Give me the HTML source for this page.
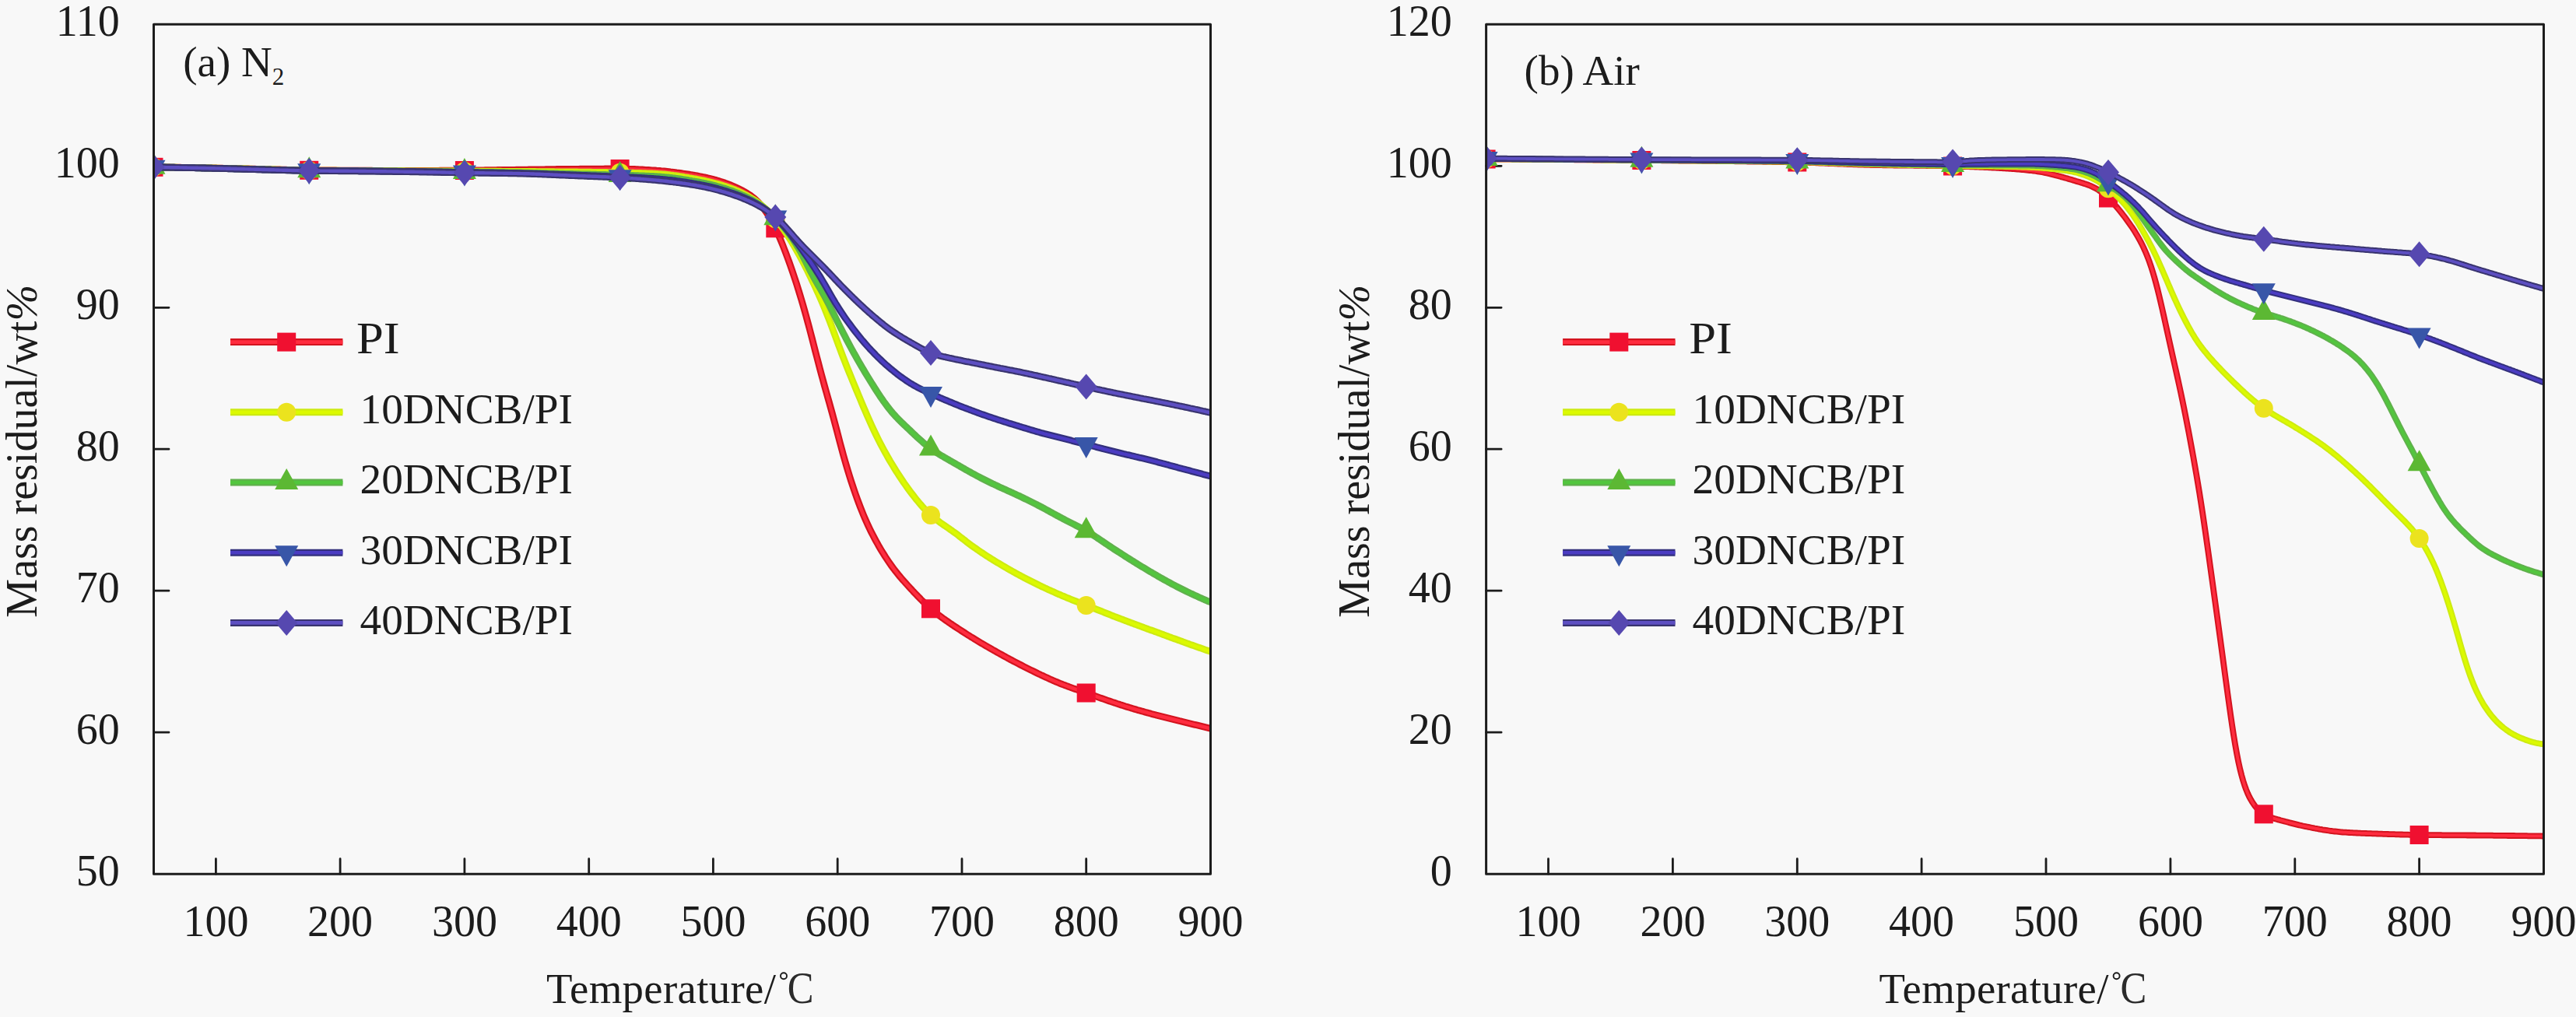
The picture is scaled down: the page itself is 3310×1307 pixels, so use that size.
<!DOCTYPE html>
<html><head><meta charset="utf-8"><title>TGA curves</title>
<style>html,body{margin:0;padding:0;background:#f8f8f8;}body{width:3310px;height:1307px;overflow:hidden;font-family:"Liberation Serif",serif;}svg{display:block;}</style></head>
<body>
<svg width="3310" height="1307" viewBox="0 0 3310 1307" font-family='"Liberation Serif", serif' font-size="55" fill="#1c1c1c">
<rect width="3310" height="1307" fill="#f8f8f8"/>
<clipPath id="ca"><rect x="197.5" y="31.3" width="1358.0" height="1091.9"/></clipPath>
<path d="M277.4,1123.2 v-19.5 M437.1,1123.2 v-19.5 M596.9,1123.2 v-19.5 M756.7,1123.2 v-19.5 M916.4,1123.2 v-19.5 M1076.2,1123.2 v-19.5 M1236.0,1123.2 v-19.5 M1395.7,1123.2 v-19.5 M197.5,941.2 h19.5 M197.5,759.2 h19.5 M197.5,577.2 h19.5 M197.5,395.3 h19.5 M197.5,213.3 h19.5" stroke="#1c1c1c" stroke-width="2.8" stroke-linecap="round" fill="none"/>
<g clip-path="url(#ca)" fill="none" stroke-linejoin="round">
<path d="M197.5,214.8 L199.5,214.8 L201.5,214.8 L203.5,214.9 L205.5,214.9 L207.5,214.9 L209.5,214.9 L211.5,215.0 L213.5,215.0 L215.5,215.0 L217.5,215.0 L219.5,215.1 L221.5,215.1 L223.5,215.1 L225.5,215.2 L227.5,215.2 L229.5,215.2 L231.5,215.2 L233.5,215.3 L235.5,215.3 L237.5,215.3 L239.5,215.4 L241.5,215.4 L243.5,215.4 L245.5,215.5 L247.5,215.5 L249.5,215.5 L251.5,215.6 L253.5,215.6 L255.5,215.6 L257.5,215.7 L259.5,215.7 L261.5,215.7 L263.5,215.8 L265.5,215.8 L267.5,215.9 L269.5,215.9 L271.5,215.9 L273.5,216.0 L275.5,216.0 L277.5,216.0 L279.5,216.1 L281.5,216.1 L283.5,216.2 L285.5,216.2 L287.5,216.3 L289.5,216.3 L291.5,216.3 L293.5,216.4 L295.5,216.4 L297.5,216.5 L299.5,216.5 L301.5,216.6 L303.5,216.6 L305.5,216.7 L307.5,216.7 L309.5,216.8 L311.5,216.8 L313.5,216.9 L315.5,216.9 L317.5,217.0 L319.5,217.0 L321.5,217.1 L323.5,217.1 L325.5,217.2 L327.5,217.2 L329.5,217.3 L331.5,217.3 L333.5,217.4 L335.5,217.4 L337.5,217.5 L339.5,217.5 L341.5,217.6 L343.5,217.6 L345.5,217.7 L347.5,217.7 L349.5,217.8 L351.5,217.8 L353.5,217.9 L355.5,217.9 L357.5,218.0 L359.5,218.0 L361.5,218.1 L363.5,218.1 L365.5,218.2 L367.5,218.2 L369.5,218.3 L371.5,218.3 L373.5,218.4 L375.5,218.4 L377.5,218.5 L379.5,218.5 L381.5,218.6 L383.5,218.6 L385.5,218.6 L387.5,218.7 L389.5,218.7 L391.5,218.7 L393.5,218.8 L395.5,218.8 L397.5,218.8 L399.5,218.8 L401.5,218.8 L403.5,218.9 L405.5,218.9 L407.5,218.9 L409.5,218.9 L411.5,218.9 L413.5,218.9 L415.5,218.9 L417.5,219.0 L419.5,219.0 L421.5,219.0 L423.5,219.0 L425.5,219.0 L427.5,219.0 L429.5,219.0 L431.5,219.0 L433.5,219.1 L435.5,219.1 L437.5,219.1 L439.5,219.1 L441.5,219.1 L443.5,219.1 L445.5,219.1 L447.5,219.1 L449.5,219.1 L451.5,219.1 L453.5,219.1 L455.5,219.2 L457.5,219.2 L459.5,219.2 L461.5,219.2 L463.5,219.2 L465.5,219.2 L467.5,219.2 L469.5,219.2 L471.5,219.2 L473.5,219.2 L475.5,219.2 L477.5,219.2 L479.5,219.3 L481.5,219.3 L483.5,219.3 L485.5,219.3 L487.5,219.3 L489.5,219.3 L491.5,219.3 L493.5,219.3 L495.5,219.3 L497.5,219.3 L499.5,219.3 L501.5,219.3 L503.5,219.3 L505.5,219.4 L507.5,219.4 L509.5,219.4 L511.5,219.4 L513.5,219.4 L515.5,219.4 L517.5,219.4 L519.5,219.4 L521.5,219.4 L523.5,219.4 L525.5,219.4 L527.5,219.4 L529.5,219.4 L531.5,219.4 L533.5,219.4 L535.5,219.4 L537.5,219.4 L539.5,219.4 L541.5,219.4 L543.5,219.4 L545.5,219.4 L547.5,219.4 L549.5,219.3 L551.5,219.3 L553.5,219.3 L555.5,219.3 L557.5,219.3 L559.5,219.3 L561.5,219.3 L563.5,219.3 L565.5,219.2 L567.5,219.2 L569.5,219.2 L571.5,219.2 L573.5,219.2 L575.5,219.2 L577.5,219.2 L579.5,219.1 L581.5,219.1 L583.5,219.1 L585.5,219.1 L587.5,219.1 L589.5,219.1 L591.5,219.0 L593.5,219.0 L595.5,219.0 L597.5,219.0 L599.5,219.0 L601.5,219.0 L603.5,218.9 L605.5,218.9 L607.5,218.9 L609.5,218.9 L611.5,218.9 L613.5,218.8 L615.5,218.8 L617.5,218.8 L619.5,218.8 L621.5,218.8 L623.5,218.7 L625.5,218.7 L627.5,218.7 L629.5,218.7 L631.5,218.6 L633.5,218.6 L635.5,218.6 L637.5,218.6 L639.5,218.5 L641.5,218.5 L643.5,218.5 L645.5,218.5 L647.5,218.4 L649.5,218.4 L651.5,218.4 L653.5,218.4 L655.5,218.3 L657.5,218.3 L659.5,218.3 L661.5,218.3 L663.5,218.2 L665.5,218.2 L667.5,218.2 L669.5,218.2 L671.5,218.1 L673.5,218.1 L675.5,218.1 L677.5,218.1 L679.5,218.0 L681.5,218.0 L683.5,218.0 L685.5,218.0 L687.5,217.9 L689.5,217.9 L691.5,217.9 L693.5,217.8 L695.5,217.8 L697.5,217.8 L699.5,217.8 L701.5,217.7 L703.5,217.7 L705.5,217.7 L707.5,217.6 L709.5,217.6 L711.5,217.6 L713.5,217.6 L715.5,217.5 L717.5,217.5 L719.5,217.5 L721.5,217.5 L723.5,217.4 L725.5,217.4 L727.5,217.4 L729.5,217.4 L731.5,217.4 L733.5,217.3 L735.5,217.3 L737.5,217.3 L739.5,217.3 L741.5,217.3 L743.5,217.3 L745.5,217.2 L747.5,217.2 L749.5,217.2 L751.5,217.2 L753.5,217.2 L755.5,217.2 L757.5,217.2 L759.5,217.1 L761.5,217.1 L763.5,217.1 L765.5,217.1 L767.5,217.1 L769.5,217.1 L771.5,217.1 L773.5,217.1 L775.5,217.1 L777.5,217.0 L779.5,217.0 L781.5,217.0 L783.5,217.0 L785.5,217.0 L787.5,217.0 L789.5,217.0 L791.5,217.0 L793.5,217.0 L795.5,217.0 L797.5,217.0 L799.5,217.1 L801.5,217.1 L803.5,217.1 L805.5,217.2 L807.5,217.2 L809.5,217.3 L811.5,217.4 L813.5,217.4 L815.5,217.5 L817.5,217.6 L819.5,217.7 L821.5,217.8 L823.5,217.9 L825.5,218.0 L827.5,218.1 L829.5,218.3 L831.5,218.4 L833.5,218.5 L835.5,218.6 L837.5,218.8 L839.5,218.9 L841.5,219.0 L843.5,219.2 L845.5,219.3 L847.5,219.5 L849.5,219.7 L851.5,219.8 L853.5,220.0 L855.5,220.2 L857.5,220.4 L859.5,220.6 L861.5,220.9 L863.5,221.1 L865.5,221.3 L867.5,221.6 L869.5,221.9 L871.5,222.1 L873.5,222.4 L875.5,222.7 L877.5,223.0 L879.5,223.3 L881.5,223.6 L883.5,223.9 L885.5,224.2 L887.5,224.5 L889.5,224.8 L891.5,225.2 L893.5,225.5 L895.5,225.9 L897.5,226.3 L899.5,226.7 L901.5,227.1 L903.5,227.5 L905.5,227.9 L907.5,228.3 L909.5,228.8 L911.5,229.2 L913.5,229.7 L915.5,230.2 L917.5,230.8 L919.5,231.3 L921.5,231.9 L923.5,232.5 L925.5,233.1 L927.5,233.8 L929.5,234.4 L931.5,235.2 L933.5,235.9 L935.5,236.6 L937.5,237.4 L939.5,238.2 L941.5,239.1 L943.5,239.9 L945.5,240.8 L947.5,241.7 L949.5,242.7 L951.5,243.7 L953.5,244.7 L955.5,245.8 L957.5,246.9 L959.5,248.1 L961.5,249.4 L963.5,250.7 L965.5,252.1 L967.5,253.7 L969.5,255.3 L971.5,257.1 L973.5,259.0 L975.5,261.1 L977.5,263.3 L979.5,265.7 L981.5,268.3 L983.5,271.1 L985.5,274.0 L987.5,277.1 L989.5,280.4 L991.5,283.9 L993.5,287.6 L995.5,291.6 L997.5,295.8 L999.5,300.1 L1001.5,304.7 L1003.5,309.5 L1005.5,314.4 L1007.5,319.5 L1009.5,324.7 L1011.5,330.0 L1013.5,335.4 L1015.5,341.0 L1017.5,346.7 L1019.5,352.6 L1021.5,358.6 L1023.5,364.7 L1025.5,371.1 L1027.5,377.6 L1029.5,384.2 L1031.5,391.0 L1033.5,398.0 L1035.5,405.1 L1037.5,412.5 L1039.5,419.9 L1041.5,427.5 L1043.5,435.2 L1045.5,443.0 L1047.5,450.8 L1049.5,458.5 L1051.5,466.2 L1053.5,473.8 L1055.5,481.3 L1057.5,488.7 L1059.5,496.0 L1061.5,503.1 L1063.5,510.2 L1065.5,517.3 L1067.5,524.5 L1069.5,531.7 L1071.5,539.1 L1073.5,546.6 L1075.5,554.2 L1077.5,561.9 L1079.5,569.5 L1081.5,576.9 L1083.5,584.3 L1085.5,591.4 L1087.5,598.3 L1089.5,605.0 L1091.5,611.5 L1093.5,617.8 L1095.5,623.9 L1097.5,629.8 L1099.5,635.6 L1101.5,641.2 L1103.5,646.6 L1105.5,651.9 L1107.5,656.9 L1109.5,661.8 L1111.5,666.5 L1113.5,671.0 L1115.5,675.4 L1117.5,679.6 L1119.5,683.7 L1121.5,687.6 L1123.5,691.4 L1125.5,695.1 L1127.5,698.7 L1129.5,702.3 L1131.5,705.7 L1133.5,709.0 L1135.5,712.2 L1137.5,715.4 L1139.5,718.4 L1141.5,721.4 L1143.5,724.3 L1145.5,727.1 L1147.5,729.8 L1149.5,732.5 L1151.5,735.0 L1153.5,737.5 L1155.5,740.0 L1157.5,742.3 L1159.5,744.7 L1161.5,746.9 L1163.5,749.2 L1165.5,751.4 L1167.5,753.6 L1169.5,755.8 L1171.5,757.9 L1173.5,760.1 L1175.5,762.2 L1177.5,764.3 L1179.5,766.4 L1181.5,768.4 L1183.5,770.5 L1185.5,772.5 L1187.5,774.4 L1189.5,776.4 L1191.5,778.2 L1193.5,780.0 L1195.5,781.8 L1197.5,783.5 L1199.5,785.2 L1201.5,786.8 L1203.5,788.4 L1205.5,790.0 L1207.5,791.5 L1209.5,793.0 L1211.5,794.5 L1213.5,795.9 L1215.5,797.3 L1217.5,798.7 L1219.5,800.1 L1221.5,801.5 L1223.5,802.8 L1225.5,804.2 L1227.5,805.5 L1229.5,806.8 L1231.5,808.1 L1233.5,809.4 L1235.5,810.7 L1237.5,812.0 L1239.5,813.3 L1241.5,814.6 L1243.5,815.9 L1245.5,817.1 L1247.5,818.4 L1249.5,819.6 L1251.5,820.8 L1253.5,822.1 L1255.5,823.3 L1257.5,824.5 L1259.5,825.7 L1261.5,826.9 L1263.5,828.0 L1265.5,829.2 L1267.5,830.4 L1269.5,831.5 L1271.5,832.7 L1273.5,833.8 L1275.5,835.0 L1277.5,836.1 L1279.5,837.2 L1281.5,838.4 L1283.5,839.5 L1285.5,840.6 L1287.5,841.7 L1289.5,842.8 L1291.5,843.9 L1293.5,845.0 L1295.5,846.1 L1297.5,847.2 L1299.5,848.2 L1301.5,849.3 L1303.5,850.4 L1305.5,851.4 L1307.5,852.4 L1309.5,853.5 L1311.5,854.5 L1313.5,855.5 L1315.5,856.6 L1317.5,857.6 L1319.5,858.6 L1321.5,859.6 L1323.5,860.6 L1325.5,861.6 L1327.5,862.5 L1329.5,863.5 L1331.5,864.5 L1333.5,865.5 L1335.5,866.4 L1337.5,867.4 L1339.5,868.3 L1341.5,869.3 L1343.5,870.2 L1345.5,871.1 L1347.5,872.0 L1349.5,872.9 L1351.5,873.8 L1353.5,874.7 L1355.5,875.6 L1357.5,876.4 L1359.5,877.2 L1361.5,878.1 L1363.5,878.9 L1365.5,879.7 L1367.5,880.4 L1369.5,881.2 L1371.5,881.9 L1373.5,882.7 L1375.5,883.4 L1377.5,884.1 L1379.5,884.8 L1381.5,885.5 L1383.5,886.2 L1385.5,886.9 L1387.5,887.6 L1389.5,888.3 L1391.5,889.0 L1393.5,889.7 L1395.5,890.4 L1397.5,891.1 L1399.5,891.9 L1401.5,892.6 L1403.5,893.3 L1405.5,894.0 L1407.5,894.7 L1409.5,895.4 L1411.5,896.1 L1413.5,896.8 L1415.5,897.5 L1417.5,898.2 L1419.5,898.9 L1421.5,899.6 L1423.5,900.3 L1425.5,901.0 L1427.5,901.7 L1429.5,902.4 L1431.5,903.0 L1433.5,903.7 L1435.5,904.4 L1437.5,905.0 L1439.5,905.7 L1441.5,906.3 L1443.5,906.9 L1445.5,907.6 L1447.5,908.2 L1449.5,908.8 L1451.5,909.4 L1453.5,910.0 L1455.5,910.6 L1457.5,911.2 L1459.5,911.8 L1461.5,912.4 L1463.5,912.9 L1465.5,913.5 L1467.5,914.1 L1469.5,914.6 L1471.5,915.2 L1473.5,915.7 L1475.5,916.3 L1477.5,916.8 L1479.5,917.4 L1481.5,917.9 L1483.5,918.4 L1485.5,919.0 L1487.5,919.5 L1489.5,920.0 L1491.5,920.5 L1493.5,921.0 L1495.5,921.5 L1497.5,922.0 L1499.5,922.5 L1501.5,923.0 L1503.5,923.5 L1505.5,924.0 L1507.5,924.5 L1509.5,925.0 L1511.5,925.5 L1513.5,926.0 L1515.5,926.5 L1517.5,926.9 L1519.5,927.4 L1521.5,927.9 L1523.5,928.4 L1525.5,928.9 L1527.5,929.4 L1529.5,929.9 L1531.5,930.4 L1533.5,930.9 L1535.5,931.4 L1537.5,931.8 L1539.5,932.3 L1541.5,932.8 L1543.5,933.3 L1545.5,933.8 L1547.5,934.3 L1549.5,934.8 L1551.5,935.3 L1553.5,935.8 L1555.5,936.3" stroke="#d3141f" stroke-width="8.8"/>
<path d="M197.5,214.8 L199.5,214.8 L201.5,214.8 L203.5,214.9 L205.5,214.9 L207.5,214.9 L209.5,214.9 L211.5,215.0 L213.5,215.0 L215.5,215.0 L217.5,215.0 L219.5,215.1 L221.5,215.1 L223.5,215.1 L225.5,215.2 L227.5,215.2 L229.5,215.2 L231.5,215.2 L233.5,215.3 L235.5,215.3 L237.5,215.3 L239.5,215.4 L241.5,215.4 L243.5,215.4 L245.5,215.5 L247.5,215.5 L249.5,215.5 L251.5,215.6 L253.5,215.6 L255.5,215.6 L257.5,215.7 L259.5,215.7 L261.5,215.7 L263.5,215.8 L265.5,215.8 L267.5,215.9 L269.5,215.9 L271.5,215.9 L273.5,216.0 L275.5,216.0 L277.5,216.0 L279.5,216.1 L281.5,216.1 L283.5,216.2 L285.5,216.2 L287.5,216.3 L289.5,216.3 L291.5,216.3 L293.5,216.4 L295.5,216.4 L297.5,216.5 L299.5,216.5 L301.5,216.6 L303.5,216.6 L305.5,216.7 L307.5,216.7 L309.5,216.8 L311.5,216.8 L313.5,216.9 L315.5,216.9 L317.5,217.0 L319.5,217.0 L321.5,217.1 L323.5,217.1 L325.5,217.2 L327.5,217.2 L329.5,217.3 L331.5,217.3 L333.5,217.4 L335.5,217.4 L337.5,217.5 L339.5,217.5 L341.5,217.6 L343.5,217.6 L345.5,217.7 L347.5,217.7 L349.5,217.8 L351.5,217.8 L353.5,217.9 L355.5,217.9 L357.5,218.0 L359.5,218.0 L361.5,218.1 L363.5,218.1 L365.5,218.2 L367.5,218.2 L369.5,218.3 L371.5,218.3 L373.5,218.4 L375.5,218.4 L377.5,218.5 L379.5,218.5 L381.5,218.6 L383.5,218.6 L385.5,218.6 L387.5,218.7 L389.5,218.7 L391.5,218.7 L393.5,218.8 L395.5,218.8 L397.5,218.8 L399.5,218.8 L401.5,218.8 L403.5,218.9 L405.5,218.9 L407.5,218.9 L409.5,218.9 L411.5,218.9 L413.5,218.9 L415.5,218.9 L417.5,219.0 L419.5,219.0 L421.5,219.0 L423.5,219.0 L425.5,219.0 L427.5,219.0 L429.5,219.0 L431.5,219.0 L433.5,219.1 L435.5,219.1 L437.5,219.1 L439.5,219.1 L441.5,219.1 L443.5,219.1 L445.5,219.1 L447.5,219.1 L449.5,219.1 L451.5,219.1 L453.5,219.1 L455.5,219.2 L457.5,219.2 L459.5,219.2 L461.5,219.2 L463.5,219.2 L465.5,219.2 L467.5,219.2 L469.5,219.2 L471.5,219.2 L473.5,219.2 L475.5,219.2 L477.5,219.2 L479.5,219.3 L481.5,219.3 L483.5,219.3 L485.5,219.3 L487.5,219.3 L489.5,219.3 L491.5,219.3 L493.5,219.3 L495.5,219.3 L497.5,219.3 L499.5,219.3 L501.5,219.3 L503.5,219.3 L505.5,219.4 L507.5,219.4 L509.5,219.4 L511.5,219.4 L513.5,219.4 L515.5,219.4 L517.5,219.4 L519.5,219.4 L521.5,219.4 L523.5,219.4 L525.5,219.4 L527.5,219.4 L529.5,219.4 L531.5,219.4 L533.5,219.4 L535.5,219.4 L537.5,219.4 L539.5,219.4 L541.5,219.4 L543.5,219.4 L545.5,219.4 L547.5,219.4 L549.5,219.3 L551.5,219.3 L553.5,219.3 L555.5,219.3 L557.5,219.3 L559.5,219.3 L561.5,219.3 L563.5,219.3 L565.5,219.2 L567.5,219.2 L569.5,219.2 L571.5,219.2 L573.5,219.2 L575.5,219.2 L577.5,219.2 L579.5,219.1 L581.5,219.1 L583.5,219.1 L585.5,219.1 L587.5,219.1 L589.5,219.1 L591.5,219.0 L593.5,219.0 L595.5,219.0 L597.5,219.0 L599.5,219.0 L601.5,219.0 L603.5,218.9 L605.5,218.9 L607.5,218.9 L609.5,218.9 L611.5,218.9 L613.5,218.8 L615.5,218.8 L617.5,218.8 L619.5,218.8 L621.5,218.8 L623.5,218.7 L625.5,218.7 L627.5,218.7 L629.5,218.7 L631.5,218.6 L633.5,218.6 L635.5,218.6 L637.5,218.6 L639.5,218.5 L641.5,218.5 L643.5,218.5 L645.5,218.5 L647.5,218.4 L649.5,218.4 L651.5,218.4 L653.5,218.4 L655.5,218.3 L657.5,218.3 L659.5,218.3 L661.5,218.3 L663.5,218.2 L665.5,218.2 L667.5,218.2 L669.5,218.2 L671.5,218.1 L673.5,218.1 L675.5,218.1 L677.5,218.1 L679.5,218.0 L681.5,218.0 L683.5,218.0 L685.5,218.0 L687.5,217.9 L689.5,217.9 L691.5,217.9 L693.5,217.8 L695.5,217.8 L697.5,217.8 L699.5,217.8 L701.5,217.7 L703.5,217.7 L705.5,217.7 L707.5,217.6 L709.5,217.6 L711.5,217.6 L713.5,217.6 L715.5,217.5 L717.5,217.5 L719.5,217.5 L721.5,217.5 L723.5,217.4 L725.5,217.4 L727.5,217.4 L729.5,217.4 L731.5,217.4 L733.5,217.3 L735.5,217.3 L737.5,217.3 L739.5,217.3 L741.5,217.3 L743.5,217.3 L745.5,217.2 L747.5,217.2 L749.5,217.2 L751.5,217.2 L753.5,217.2 L755.5,217.2 L757.5,217.2 L759.5,217.1 L761.5,217.1 L763.5,217.1 L765.5,217.1 L767.5,217.1 L769.5,217.1 L771.5,217.1 L773.5,217.1 L775.5,217.1 L777.5,217.0 L779.5,217.0 L781.5,217.0 L783.5,217.0 L785.5,217.0 L787.5,217.0 L789.5,217.0 L791.5,217.0 L793.5,217.0 L795.5,217.0 L797.5,217.0 L799.5,217.1 L801.5,217.1 L803.5,217.1 L805.5,217.2 L807.5,217.2 L809.5,217.3 L811.5,217.4 L813.5,217.4 L815.5,217.5 L817.5,217.6 L819.5,217.7 L821.5,217.8 L823.5,217.9 L825.5,218.0 L827.5,218.1 L829.5,218.3 L831.5,218.4 L833.5,218.5 L835.5,218.6 L837.5,218.8 L839.5,218.9 L841.5,219.0 L843.5,219.2 L845.5,219.3 L847.5,219.5 L849.5,219.7 L851.5,219.8 L853.5,220.0 L855.5,220.2 L857.5,220.4 L859.5,220.6 L861.5,220.9 L863.5,221.1 L865.5,221.3 L867.5,221.6 L869.5,221.9 L871.5,222.1 L873.5,222.4 L875.5,222.7 L877.5,223.0 L879.5,223.3 L881.5,223.6 L883.5,223.9 L885.5,224.2 L887.5,224.5 L889.5,224.8 L891.5,225.2 L893.5,225.5 L895.5,225.9 L897.5,226.3 L899.5,226.7 L901.5,227.1 L903.5,227.5 L905.5,227.9 L907.5,228.3 L909.5,228.8 L911.5,229.2 L913.5,229.7 L915.5,230.2 L917.5,230.8 L919.5,231.3 L921.5,231.9 L923.5,232.5 L925.5,233.1 L927.5,233.8 L929.5,234.4 L931.5,235.2 L933.5,235.9 L935.5,236.6 L937.5,237.4 L939.5,238.2 L941.5,239.1 L943.5,239.9 L945.5,240.8 L947.5,241.7 L949.5,242.7 L951.5,243.7 L953.5,244.7 L955.5,245.8 L957.5,246.9 L959.5,248.1 L961.5,249.4 L963.5,250.7 L965.5,252.1 L967.5,253.7 L969.5,255.3 L971.5,257.1 L973.5,259.0 L975.5,261.1 L977.5,263.3 L979.5,265.7 L981.5,268.3 L983.5,271.1 L985.5,274.0 L987.5,277.1 L989.5,280.4 L991.5,283.9 L993.5,287.6 L995.5,291.6 L997.5,295.8 L999.5,300.1 L1001.5,304.7 L1003.5,309.5 L1005.5,314.4 L1007.5,319.5 L1009.5,324.7 L1011.5,330.0 L1013.5,335.4 L1015.5,341.0 L1017.5,346.7 L1019.5,352.6 L1021.5,358.6 L1023.5,364.7 L1025.5,371.1 L1027.5,377.6 L1029.5,384.2 L1031.5,391.0 L1033.5,398.0 L1035.5,405.1 L1037.5,412.5 L1039.5,419.9 L1041.5,427.5 L1043.5,435.2 L1045.5,443.0 L1047.5,450.8 L1049.5,458.5 L1051.5,466.2 L1053.5,473.8 L1055.5,481.3 L1057.5,488.7 L1059.5,496.0 L1061.5,503.1 L1063.5,510.2 L1065.5,517.3 L1067.5,524.5 L1069.5,531.7 L1071.5,539.1 L1073.5,546.6 L1075.5,554.2 L1077.5,561.9 L1079.5,569.5 L1081.5,576.9 L1083.5,584.3 L1085.5,591.4 L1087.5,598.3 L1089.5,605.0 L1091.5,611.5 L1093.5,617.8 L1095.5,623.9 L1097.5,629.8 L1099.5,635.6 L1101.5,641.2 L1103.5,646.6 L1105.5,651.9 L1107.5,656.9 L1109.5,661.8 L1111.5,666.5 L1113.5,671.0 L1115.5,675.4 L1117.5,679.6 L1119.5,683.7 L1121.5,687.6 L1123.5,691.4 L1125.5,695.1 L1127.5,698.7 L1129.5,702.3 L1131.5,705.7 L1133.5,709.0 L1135.5,712.2 L1137.5,715.4 L1139.5,718.4 L1141.5,721.4 L1143.5,724.3 L1145.5,727.1 L1147.5,729.8 L1149.5,732.5 L1151.5,735.0 L1153.5,737.5 L1155.5,740.0 L1157.5,742.3 L1159.5,744.7 L1161.5,746.9 L1163.5,749.2 L1165.5,751.4 L1167.5,753.6 L1169.5,755.8 L1171.5,757.9 L1173.5,760.1 L1175.5,762.2 L1177.5,764.3 L1179.5,766.4 L1181.5,768.4 L1183.5,770.5 L1185.5,772.5 L1187.5,774.4 L1189.5,776.4 L1191.5,778.2 L1193.5,780.0 L1195.5,781.8 L1197.5,783.5 L1199.5,785.2 L1201.5,786.8 L1203.5,788.4 L1205.5,790.0 L1207.5,791.5 L1209.5,793.0 L1211.5,794.5 L1213.5,795.9 L1215.5,797.3 L1217.5,798.7 L1219.5,800.1 L1221.5,801.5 L1223.5,802.8 L1225.5,804.2 L1227.5,805.5 L1229.5,806.8 L1231.5,808.1 L1233.5,809.4 L1235.5,810.7 L1237.5,812.0 L1239.5,813.3 L1241.5,814.6 L1243.5,815.9 L1245.5,817.1 L1247.5,818.4 L1249.5,819.6 L1251.5,820.8 L1253.5,822.1 L1255.5,823.3 L1257.5,824.5 L1259.5,825.7 L1261.5,826.9 L1263.5,828.0 L1265.5,829.2 L1267.5,830.4 L1269.5,831.5 L1271.5,832.7 L1273.5,833.8 L1275.5,835.0 L1277.5,836.1 L1279.5,837.2 L1281.5,838.4 L1283.5,839.5 L1285.5,840.6 L1287.5,841.7 L1289.5,842.8 L1291.5,843.9 L1293.5,845.0 L1295.5,846.1 L1297.5,847.2 L1299.5,848.2 L1301.5,849.3 L1303.5,850.4 L1305.5,851.4 L1307.5,852.4 L1309.5,853.5 L1311.5,854.5 L1313.5,855.5 L1315.5,856.6 L1317.5,857.6 L1319.5,858.6 L1321.5,859.6 L1323.5,860.6 L1325.5,861.6 L1327.5,862.5 L1329.5,863.5 L1331.5,864.5 L1333.5,865.5 L1335.5,866.4 L1337.5,867.4 L1339.5,868.3 L1341.5,869.3 L1343.5,870.2 L1345.5,871.1 L1347.5,872.0 L1349.5,872.9 L1351.5,873.8 L1353.5,874.7 L1355.5,875.6 L1357.5,876.4 L1359.5,877.2 L1361.5,878.1 L1363.5,878.9 L1365.5,879.7 L1367.5,880.4 L1369.5,881.2 L1371.5,881.9 L1373.5,882.7 L1375.5,883.4 L1377.5,884.1 L1379.5,884.8 L1381.5,885.5 L1383.5,886.2 L1385.5,886.9 L1387.5,887.6 L1389.5,888.3 L1391.5,889.0 L1393.5,889.7 L1395.5,890.4 L1397.5,891.1 L1399.5,891.9 L1401.5,892.6 L1403.5,893.3 L1405.5,894.0 L1407.5,894.7 L1409.5,895.4 L1411.5,896.1 L1413.5,896.8 L1415.5,897.5 L1417.5,898.2 L1419.5,898.9 L1421.5,899.6 L1423.5,900.3 L1425.5,901.0 L1427.5,901.7 L1429.5,902.4 L1431.5,903.0 L1433.5,903.7 L1435.5,904.4 L1437.5,905.0 L1439.5,905.7 L1441.5,906.3 L1443.5,906.9 L1445.5,907.6 L1447.5,908.2 L1449.5,908.8 L1451.5,909.4 L1453.5,910.0 L1455.5,910.6 L1457.5,911.2 L1459.5,911.8 L1461.5,912.4 L1463.5,912.9 L1465.5,913.5 L1467.5,914.1 L1469.5,914.6 L1471.5,915.2 L1473.5,915.7 L1475.5,916.3 L1477.5,916.8 L1479.5,917.4 L1481.5,917.9 L1483.5,918.4 L1485.5,919.0 L1487.5,919.5 L1489.5,920.0 L1491.5,920.5 L1493.5,921.0 L1495.5,921.5 L1497.5,922.0 L1499.5,922.5 L1501.5,923.0 L1503.5,923.5 L1505.5,924.0 L1507.5,924.5 L1509.5,925.0 L1511.5,925.5 L1513.5,926.0 L1515.5,926.5 L1517.5,926.9 L1519.5,927.4 L1521.5,927.9 L1523.5,928.4 L1525.5,928.9 L1527.5,929.4 L1529.5,929.9 L1531.5,930.4 L1533.5,930.9 L1535.5,931.4 L1537.5,931.8 L1539.5,932.3 L1541.5,932.8 L1543.5,933.3 L1545.5,933.8 L1547.5,934.3 L1549.5,934.8 L1551.5,935.3 L1553.5,935.8 L1555.5,936.3" stroke="#ff2c3f" stroke-width="4.4"/>
<rect x="185.5" y="202.8" width="24" height="24" fill="#f01030"/>
<rect x="385.2" y="206.8" width="24" height="24" fill="#f01030"/>
<rect x="584.9" y="207.0" width="24" height="24" fill="#f01030"/>
<rect x="784.6" y="205.0" width="24" height="24" fill="#f01030"/>
<rect x="984.3" y="281.3" width="24" height="24" fill="#f01030"/>
<rect x="1184.0" y="770.3" width="24" height="24" fill="#f01030"/>
<rect x="1383.7" y="878.5" width="24" height="24" fill="#f01030"/>
<path d="M197.5,214.8 L199.5,214.8 L201.5,214.9 L203.5,214.9 L205.5,214.9 L207.5,214.9 L209.5,215.0 L211.5,215.0 L213.5,215.0 L215.5,215.1 L217.5,215.1 L219.5,215.1 L221.5,215.1 L223.5,215.2 L225.5,215.2 L227.5,215.2 L229.5,215.3 L231.5,215.3 L233.5,215.3 L235.5,215.4 L237.5,215.4 L239.5,215.4 L241.5,215.5 L243.5,215.5 L245.5,215.5 L247.5,215.6 L249.5,215.6 L251.5,215.6 L253.5,215.7 L255.5,215.7 L257.5,215.8 L259.5,215.8 L261.5,215.8 L263.5,215.9 L265.5,215.9 L267.5,215.9 L269.5,216.0 L271.5,216.0 L273.5,216.1 L275.5,216.1 L277.5,216.1 L279.5,216.2 L281.5,216.2 L283.5,216.3 L285.5,216.3 L287.5,216.4 L289.5,216.4 L291.5,216.4 L293.5,216.5 L295.5,216.5 L297.5,216.6 L299.5,216.6 L301.5,216.7 L303.5,216.7 L305.5,216.8 L307.5,216.8 L309.5,216.9 L311.5,216.9 L313.5,217.0 L315.5,217.0 L317.5,217.1 L319.5,217.1 L321.5,217.2 L323.5,217.2 L325.5,217.3 L327.5,217.3 L329.5,217.4 L331.5,217.4 L333.5,217.5 L335.5,217.5 L337.5,217.6 L339.5,217.6 L341.5,217.7 L343.5,217.7 L345.5,217.8 L347.5,217.8 L349.5,217.9 L351.5,217.9 L353.5,218.0 L355.5,218.1 L357.5,218.1 L359.5,218.2 L361.5,218.2 L363.5,218.3 L365.5,218.3 L367.5,218.4 L369.5,218.4 L371.5,218.5 L373.5,218.6 L375.5,218.6 L377.5,218.6 L379.5,218.7 L381.5,218.7 L383.5,218.8 L385.5,218.8 L387.5,218.9 L389.5,218.9 L391.5,218.9 L393.5,218.9 L395.5,219.0 L397.5,219.0 L399.5,219.0 L401.5,219.0 L403.5,219.1 L405.5,219.1 L407.5,219.1 L409.5,219.1 L411.5,219.1 L413.5,219.1 L415.5,219.1 L417.5,219.2 L419.5,219.2 L421.5,219.2 L423.5,219.2 L425.5,219.2 L427.5,219.2 L429.5,219.2 L431.5,219.2 L433.5,219.2 L435.5,219.2 L437.5,219.3 L439.5,219.3 L441.5,219.3 L443.5,219.3 L445.5,219.3 L447.5,219.3 L449.5,219.3 L451.5,219.3 L453.5,219.3 L455.5,219.3 L457.5,219.4 L459.5,219.4 L461.5,219.4 L463.5,219.4 L465.5,219.4 L467.5,219.4 L469.5,219.4 L471.5,219.4 L473.5,219.4 L475.5,219.5 L477.5,219.5 L479.5,219.5 L481.5,219.5 L483.5,219.5 L485.5,219.5 L487.5,219.5 L489.5,219.6 L491.5,219.6 L493.5,219.6 L495.5,219.6 L497.5,219.6 L499.5,219.6 L501.5,219.6 L503.5,219.7 L505.5,219.7 L507.5,219.7 L509.5,219.7 L511.5,219.7 L513.5,219.7 L515.5,219.7 L517.5,219.7 L519.5,219.7 L521.5,219.8 L523.5,219.8 L525.5,219.8 L527.5,219.8 L529.5,219.8 L531.5,219.8 L533.5,219.8 L535.5,219.8 L537.5,219.8 L539.5,219.8 L541.5,219.8 L543.5,219.8 L545.5,219.9 L547.5,219.9 L549.5,219.9 L551.5,219.9 L553.5,219.9 L555.5,219.9 L557.5,219.9 L559.5,219.9 L561.5,219.9 L563.5,219.9 L565.5,219.9 L567.5,219.9 L569.5,219.9 L571.5,219.9 L573.5,219.9 L575.5,219.9 L577.5,219.9 L579.5,219.9 L581.5,219.9 L583.5,220.0 L585.5,220.0 L587.5,220.0 L589.5,220.0 L591.5,220.0 L593.5,220.0 L595.5,220.0 L597.5,220.0 L599.5,220.0 L601.5,220.0 L603.5,220.0 L605.5,220.0 L607.5,220.0 L609.5,220.1 L611.5,220.1 L613.5,220.1 L615.5,220.1 L617.5,220.1 L619.5,220.1 L621.5,220.1 L623.5,220.1 L625.5,220.1 L627.5,220.1 L629.5,220.2 L631.5,220.2 L633.5,220.2 L635.5,220.2 L637.5,220.2 L639.5,220.2 L641.5,220.2 L643.5,220.2 L645.5,220.3 L647.5,220.3 L649.5,220.3 L651.5,220.3 L653.5,220.3 L655.5,220.3 L657.5,220.3 L659.5,220.3 L661.5,220.4 L663.5,220.4 L665.5,220.4 L667.5,220.4 L669.5,220.4 L671.5,220.4 L673.5,220.4 L675.5,220.5 L677.5,220.5 L679.5,220.5 L681.5,220.5 L683.5,220.5 L685.5,220.5 L687.5,220.5 L689.5,220.6 L691.5,220.6 L693.5,220.6 L695.5,220.6 L697.5,220.6 L699.5,220.6 L701.5,220.7 L703.5,220.7 L705.5,220.7 L707.5,220.7 L709.5,220.7 L711.5,220.7 L713.5,220.8 L715.5,220.8 L717.5,220.8 L719.5,220.8 L721.5,220.8 L723.5,220.9 L725.5,220.9 L727.5,220.9 L729.5,220.9 L731.5,220.9 L733.5,220.9 L735.5,221.0 L737.5,221.0 L739.5,221.0 L741.5,221.0 L743.5,221.1 L745.5,221.1 L747.5,221.1 L749.5,221.1 L751.5,221.1 L753.5,221.2 L755.5,221.2 L757.5,221.2 L759.5,221.2 L761.5,221.3 L763.5,221.3 L765.5,221.3 L767.5,221.3 L769.5,221.4 L771.5,221.4 L773.5,221.4 L775.5,221.5 L777.5,221.5 L779.5,221.5 L781.5,221.6 L783.5,221.6 L785.5,221.6 L787.5,221.7 L789.5,221.7 L791.5,221.7 L793.5,221.8 L795.5,221.8 L797.5,221.8 L799.5,221.9 L801.5,221.9 L803.5,222.0 L805.5,222.0 L807.5,222.1 L809.5,222.1 L811.5,222.2 L813.5,222.2 L815.5,222.3 L817.5,222.3 L819.5,222.4 L821.5,222.4 L823.5,222.5 L825.5,222.6 L827.5,222.6 L829.5,222.7 L831.5,222.8 L833.5,222.9 L835.5,222.9 L837.5,223.0 L839.5,223.1 L841.5,223.2 L843.5,223.3 L845.5,223.5 L847.5,223.6 L849.5,223.7 L851.5,223.9 L853.5,224.0 L855.5,224.2 L857.5,224.4 L859.5,224.6 L861.5,224.9 L863.5,225.1 L865.5,225.4 L867.5,225.6 L869.5,225.9 L871.5,226.2 L873.5,226.5 L875.5,226.8 L877.5,227.1 L879.5,227.5 L881.5,227.8 L883.5,228.1 L885.5,228.5 L887.5,228.8 L889.5,229.2 L891.5,229.6 L893.5,229.9 L895.5,230.3 L897.5,230.7 L899.5,231.1 L901.5,231.5 L903.5,231.9 L905.5,232.3 L907.5,232.8 L909.5,233.2 L911.5,233.7 L913.5,234.2 L915.5,234.7 L917.5,235.2 L919.5,235.7 L921.5,236.2 L923.5,236.8 L925.5,237.4 L927.5,238.0 L929.5,238.6 L931.5,239.3 L933.5,239.9 L935.5,240.6 L937.5,241.3 L939.5,242.1 L941.5,242.9 L943.5,243.6 L945.5,244.5 L947.5,245.3 L949.5,246.2 L951.5,247.2 L953.5,248.1 L955.5,249.1 L957.5,250.1 L959.5,251.2 L961.5,252.3 L963.5,253.5 L965.5,254.7 L967.5,255.9 L969.5,257.2 L971.5,258.5 L973.5,259.9 L975.5,261.4 L977.5,263.0 L979.5,264.6 L981.5,266.3 L983.5,268.0 L985.5,269.9 L987.5,271.8 L989.5,273.8 L991.5,275.9 L993.5,278.0 L995.5,280.3 L997.5,282.6 L999.5,285.0 L1001.5,287.6 L1003.5,290.2 L1005.5,292.9 L1007.5,295.8 L1009.5,298.7 L1011.5,301.7 L1013.5,304.8 L1015.5,308.0 L1017.5,311.3 L1019.5,314.6 L1021.5,318.1 L1023.5,321.5 L1025.5,325.1 L1027.5,328.7 L1029.5,332.4 L1031.5,336.1 L1033.5,340.0 L1035.5,343.9 L1037.5,347.9 L1039.5,352.0 L1041.5,356.1 L1043.5,360.2 L1045.5,364.5 L1047.5,368.7 L1049.5,373.1 L1051.5,377.5 L1053.5,382.0 L1055.5,386.6 L1057.5,391.3 L1059.5,396.1 L1061.5,401.0 L1063.5,406.1 L1065.5,411.2 L1067.5,416.4 L1069.5,421.7 L1071.5,427.1 L1073.5,432.5 L1075.5,438.0 L1077.5,443.4 L1079.5,448.8 L1081.5,454.1 L1083.5,459.3 L1085.5,464.5 L1087.5,469.6 L1089.5,474.6 L1091.5,479.5 L1093.5,484.4 L1095.5,489.3 L1097.5,494.1 L1099.5,499.0 L1101.5,503.8 L1103.5,508.6 L1105.5,513.4 L1107.5,518.2 L1109.5,523.0 L1111.5,527.6 L1113.5,532.3 L1115.5,536.8 L1117.5,541.3 L1119.5,545.8 L1121.5,550.1 L1123.5,554.4 L1125.5,558.5 L1127.5,562.6 L1129.5,566.6 L1131.5,570.5 L1133.5,574.3 L1135.5,578.0 L1137.5,581.6 L1139.5,585.2 L1141.5,588.7 L1143.5,592.2 L1145.5,595.5 L1147.5,598.8 L1149.5,602.1 L1151.5,605.3 L1153.5,608.4 L1155.5,611.5 L1157.5,614.5 L1159.5,617.5 L1161.5,620.5 L1163.5,623.3 L1165.5,626.1 L1167.5,628.9 L1169.5,631.6 L1171.5,634.2 L1173.5,636.8 L1175.5,639.4 L1177.5,641.9 L1179.5,644.3 L1181.5,646.7 L1183.5,649.0 L1185.5,651.3 L1187.5,653.5 L1189.5,655.6 L1191.5,657.6 L1193.5,659.6 L1195.5,661.4 L1197.5,663.2 L1199.5,664.9 L1201.5,666.5 L1203.5,668.1 L1205.5,669.6 L1207.5,671.1 L1209.5,672.5 L1211.5,673.9 L1213.5,675.3 L1215.5,676.6 L1217.5,678.0 L1219.5,679.4 L1221.5,680.8 L1223.5,682.2 L1225.5,683.7 L1227.5,685.1 L1229.5,686.6 L1231.5,688.1 L1233.5,689.7 L1235.5,691.2 L1237.5,692.8 L1239.5,694.3 L1241.5,695.9 L1243.5,697.4 L1245.5,698.9 L1247.5,700.4 L1249.5,701.9 L1251.5,703.3 L1253.5,704.7 L1255.5,706.1 L1257.5,707.5 L1259.5,708.9 L1261.5,710.2 L1263.5,711.5 L1265.5,712.9 L1267.5,714.2 L1269.5,715.4 L1271.5,716.7 L1273.5,718.0 L1275.5,719.2 L1277.5,720.5 L1279.5,721.7 L1281.5,722.9 L1283.5,724.1 L1285.5,725.3 L1287.5,726.5 L1289.5,727.7 L1291.5,728.8 L1293.5,730.0 L1295.5,731.2 L1297.5,732.3 L1299.5,733.4 L1301.5,734.6 L1303.5,735.7 L1305.5,736.8 L1307.5,737.9 L1309.5,739.0 L1311.5,740.0 L1313.5,741.1 L1315.5,742.2 L1317.5,743.2 L1319.5,744.3 L1321.5,745.3 L1323.5,746.3 L1325.5,747.3 L1327.5,748.3 L1329.5,749.3 L1331.5,750.3 L1333.5,751.3 L1335.5,752.3 L1337.5,753.2 L1339.5,754.2 L1341.5,755.1 L1343.5,756.1 L1345.5,757.0 L1347.5,757.9 L1349.5,758.8 L1351.5,759.7 L1353.5,760.6 L1355.5,761.5 L1357.5,762.4 L1359.5,763.3 L1361.5,764.1 L1363.5,765.0 L1365.5,765.9 L1367.5,766.7 L1369.5,767.5 L1371.5,768.4 L1373.5,769.2 L1375.5,770.0 L1377.5,770.8 L1379.5,771.6 L1381.5,772.4 L1383.5,773.2 L1385.5,774.0 L1387.5,774.7 L1389.5,775.5 L1391.5,776.3 L1393.5,777.1 L1395.5,777.8 L1397.5,778.6 L1399.5,779.4 L1401.5,780.2 L1403.5,781.0 L1405.5,781.8 L1407.5,782.5 L1409.5,783.3 L1411.5,784.1 L1413.5,784.9 L1415.5,785.7 L1417.5,786.5 L1419.5,787.3 L1421.5,788.1 L1423.5,788.9 L1425.5,789.7 L1427.5,790.5 L1429.5,791.3 L1431.5,792.1 L1433.5,792.8 L1435.5,793.6 L1437.5,794.4 L1439.5,795.2 L1441.5,795.9 L1443.5,796.7 L1445.5,797.5 L1447.5,798.2 L1449.5,799.0 L1451.5,799.7 L1453.5,800.5 L1455.5,801.2 L1457.5,802.0 L1459.5,802.7 L1461.5,803.4 L1463.5,804.2 L1465.5,804.9 L1467.5,805.6 L1469.5,806.4 L1471.5,807.1 L1473.5,807.8 L1475.5,808.6 L1477.5,809.3 L1479.5,810.0 L1481.5,810.7 L1483.5,811.5 L1485.5,812.2 L1487.5,812.9 L1489.5,813.7 L1491.5,814.4 L1493.5,815.1 L1495.5,815.9 L1497.5,816.6 L1499.5,817.3 L1501.5,818.1 L1503.5,818.8 L1505.5,819.6 L1507.5,820.3 L1509.5,821.0 L1511.5,821.7 L1513.5,822.5 L1515.5,823.2 L1517.5,823.9 L1519.5,824.7 L1521.5,825.4 L1523.5,826.1 L1525.5,826.8 L1527.5,827.5 L1529.5,828.3 L1531.5,829.0 L1533.5,829.7 L1535.5,830.4 L1537.5,831.1 L1539.5,831.8 L1541.5,832.5 L1543.5,833.2 L1545.5,833.9 L1547.5,834.6 L1549.5,835.3 L1551.5,836.0 L1553.5,836.7 L1555.5,837.4" stroke="#cdea12" stroke-width="8.8"/>
<path d="M197.5,214.8 L199.5,214.8 L201.5,214.9 L203.5,214.9 L205.5,214.9 L207.5,214.9 L209.5,215.0 L211.5,215.0 L213.5,215.0 L215.5,215.1 L217.5,215.1 L219.5,215.1 L221.5,215.1 L223.5,215.2 L225.5,215.2 L227.5,215.2 L229.5,215.3 L231.5,215.3 L233.5,215.3 L235.5,215.4 L237.5,215.4 L239.5,215.4 L241.5,215.5 L243.5,215.5 L245.5,215.5 L247.5,215.6 L249.5,215.6 L251.5,215.6 L253.5,215.7 L255.5,215.7 L257.5,215.8 L259.5,215.8 L261.5,215.8 L263.5,215.9 L265.5,215.9 L267.5,215.9 L269.5,216.0 L271.5,216.0 L273.5,216.1 L275.5,216.1 L277.5,216.1 L279.5,216.2 L281.5,216.2 L283.5,216.3 L285.5,216.3 L287.5,216.4 L289.5,216.4 L291.5,216.4 L293.5,216.5 L295.5,216.5 L297.5,216.6 L299.5,216.6 L301.5,216.7 L303.5,216.7 L305.5,216.8 L307.5,216.8 L309.5,216.9 L311.5,216.9 L313.5,217.0 L315.5,217.0 L317.5,217.1 L319.5,217.1 L321.5,217.2 L323.5,217.2 L325.5,217.3 L327.5,217.3 L329.5,217.4 L331.5,217.4 L333.5,217.5 L335.5,217.5 L337.5,217.6 L339.5,217.6 L341.5,217.7 L343.5,217.7 L345.5,217.8 L347.5,217.8 L349.5,217.9 L351.5,217.9 L353.5,218.0 L355.5,218.1 L357.5,218.1 L359.5,218.2 L361.5,218.2 L363.5,218.3 L365.5,218.3 L367.5,218.4 L369.5,218.4 L371.5,218.5 L373.5,218.6 L375.5,218.6 L377.5,218.6 L379.5,218.7 L381.5,218.7 L383.5,218.8 L385.5,218.8 L387.5,218.9 L389.5,218.9 L391.5,218.9 L393.5,218.9 L395.5,219.0 L397.5,219.0 L399.5,219.0 L401.5,219.0 L403.5,219.1 L405.5,219.1 L407.5,219.1 L409.5,219.1 L411.5,219.1 L413.5,219.1 L415.5,219.1 L417.5,219.2 L419.5,219.2 L421.5,219.2 L423.5,219.2 L425.5,219.2 L427.5,219.2 L429.5,219.2 L431.5,219.2 L433.5,219.2 L435.5,219.2 L437.5,219.3 L439.5,219.3 L441.5,219.3 L443.5,219.3 L445.5,219.3 L447.5,219.3 L449.5,219.3 L451.5,219.3 L453.5,219.3 L455.5,219.3 L457.5,219.4 L459.5,219.4 L461.5,219.4 L463.5,219.4 L465.5,219.4 L467.5,219.4 L469.5,219.4 L471.5,219.4 L473.5,219.4 L475.5,219.5 L477.5,219.5 L479.5,219.5 L481.5,219.5 L483.5,219.5 L485.5,219.5 L487.5,219.5 L489.5,219.6 L491.5,219.6 L493.5,219.6 L495.5,219.6 L497.5,219.6 L499.5,219.6 L501.5,219.6 L503.5,219.7 L505.5,219.7 L507.5,219.7 L509.5,219.7 L511.5,219.7 L513.5,219.7 L515.5,219.7 L517.5,219.7 L519.5,219.7 L521.5,219.8 L523.5,219.8 L525.5,219.8 L527.5,219.8 L529.5,219.8 L531.5,219.8 L533.5,219.8 L535.5,219.8 L537.5,219.8 L539.5,219.8 L541.5,219.8 L543.5,219.8 L545.5,219.9 L547.5,219.9 L549.5,219.9 L551.5,219.9 L553.5,219.9 L555.5,219.9 L557.5,219.9 L559.5,219.9 L561.5,219.9 L563.5,219.9 L565.5,219.9 L567.5,219.9 L569.5,219.9 L571.5,219.9 L573.5,219.9 L575.5,219.9 L577.5,219.9 L579.5,219.9 L581.5,219.9 L583.5,220.0 L585.5,220.0 L587.5,220.0 L589.5,220.0 L591.5,220.0 L593.5,220.0 L595.5,220.0 L597.5,220.0 L599.5,220.0 L601.5,220.0 L603.5,220.0 L605.5,220.0 L607.5,220.0 L609.5,220.1 L611.5,220.1 L613.5,220.1 L615.5,220.1 L617.5,220.1 L619.5,220.1 L621.5,220.1 L623.5,220.1 L625.5,220.1 L627.5,220.1 L629.5,220.2 L631.5,220.2 L633.5,220.2 L635.5,220.2 L637.5,220.2 L639.5,220.2 L641.5,220.2 L643.5,220.2 L645.5,220.3 L647.5,220.3 L649.5,220.3 L651.5,220.3 L653.5,220.3 L655.5,220.3 L657.5,220.3 L659.5,220.3 L661.5,220.4 L663.5,220.4 L665.5,220.4 L667.5,220.4 L669.5,220.4 L671.5,220.4 L673.5,220.4 L675.5,220.5 L677.5,220.5 L679.5,220.5 L681.5,220.5 L683.5,220.5 L685.5,220.5 L687.5,220.5 L689.5,220.6 L691.5,220.6 L693.5,220.6 L695.5,220.6 L697.5,220.6 L699.5,220.6 L701.5,220.7 L703.5,220.7 L705.5,220.7 L707.5,220.7 L709.5,220.7 L711.5,220.7 L713.5,220.8 L715.5,220.8 L717.5,220.8 L719.5,220.8 L721.5,220.8 L723.5,220.9 L725.5,220.9 L727.5,220.9 L729.5,220.9 L731.5,220.9 L733.5,220.9 L735.5,221.0 L737.5,221.0 L739.5,221.0 L741.5,221.0 L743.5,221.1 L745.5,221.1 L747.5,221.1 L749.5,221.1 L751.5,221.1 L753.5,221.2 L755.5,221.2 L757.5,221.2 L759.5,221.2 L761.5,221.3 L763.5,221.3 L765.5,221.3 L767.5,221.3 L769.5,221.4 L771.5,221.4 L773.5,221.4 L775.5,221.5 L777.5,221.5 L779.5,221.5 L781.5,221.6 L783.5,221.6 L785.5,221.6 L787.5,221.7 L789.5,221.7 L791.5,221.7 L793.5,221.8 L795.5,221.8 L797.5,221.8 L799.5,221.9 L801.5,221.9 L803.5,222.0 L805.5,222.0 L807.5,222.1 L809.5,222.1 L811.5,222.2 L813.5,222.2 L815.5,222.3 L817.5,222.3 L819.5,222.4 L821.5,222.4 L823.5,222.5 L825.5,222.6 L827.5,222.6 L829.5,222.7 L831.5,222.8 L833.5,222.9 L835.5,222.9 L837.5,223.0 L839.5,223.1 L841.5,223.2 L843.5,223.3 L845.5,223.5 L847.5,223.6 L849.5,223.7 L851.5,223.9 L853.5,224.0 L855.5,224.2 L857.5,224.4 L859.5,224.6 L861.5,224.9 L863.5,225.1 L865.5,225.4 L867.5,225.6 L869.5,225.9 L871.5,226.2 L873.5,226.5 L875.5,226.8 L877.5,227.1 L879.5,227.5 L881.5,227.8 L883.5,228.1 L885.5,228.5 L887.5,228.8 L889.5,229.2 L891.5,229.6 L893.5,229.9 L895.5,230.3 L897.5,230.7 L899.5,231.1 L901.5,231.5 L903.5,231.9 L905.5,232.3 L907.5,232.8 L909.5,233.2 L911.5,233.7 L913.5,234.2 L915.5,234.7 L917.5,235.2 L919.5,235.7 L921.5,236.2 L923.5,236.8 L925.5,237.4 L927.5,238.0 L929.5,238.6 L931.5,239.3 L933.5,239.9 L935.5,240.6 L937.5,241.3 L939.5,242.1 L941.5,242.9 L943.5,243.6 L945.5,244.5 L947.5,245.3 L949.5,246.2 L951.5,247.2 L953.5,248.1 L955.5,249.1 L957.5,250.1 L959.5,251.2 L961.5,252.3 L963.5,253.5 L965.5,254.7 L967.5,255.9 L969.5,257.2 L971.5,258.5 L973.5,259.9 L975.5,261.4 L977.5,263.0 L979.5,264.6 L981.5,266.3 L983.5,268.0 L985.5,269.9 L987.5,271.8 L989.5,273.8 L991.5,275.9 L993.5,278.0 L995.5,280.3 L997.5,282.6 L999.5,285.0 L1001.5,287.6 L1003.5,290.2 L1005.5,292.9 L1007.5,295.8 L1009.5,298.7 L1011.5,301.7 L1013.5,304.8 L1015.5,308.0 L1017.5,311.3 L1019.5,314.6 L1021.5,318.1 L1023.5,321.5 L1025.5,325.1 L1027.5,328.7 L1029.5,332.4 L1031.5,336.1 L1033.5,340.0 L1035.5,343.9 L1037.5,347.9 L1039.5,352.0 L1041.5,356.1 L1043.5,360.2 L1045.5,364.5 L1047.5,368.7 L1049.5,373.1 L1051.5,377.5 L1053.5,382.0 L1055.5,386.6 L1057.5,391.3 L1059.5,396.1 L1061.5,401.0 L1063.5,406.1 L1065.5,411.2 L1067.5,416.4 L1069.5,421.7 L1071.5,427.1 L1073.5,432.5 L1075.5,438.0 L1077.5,443.4 L1079.5,448.8 L1081.5,454.1 L1083.5,459.3 L1085.5,464.5 L1087.5,469.6 L1089.5,474.6 L1091.5,479.5 L1093.5,484.4 L1095.5,489.3 L1097.5,494.1 L1099.5,499.0 L1101.5,503.8 L1103.5,508.6 L1105.5,513.4 L1107.5,518.2 L1109.5,523.0 L1111.5,527.6 L1113.5,532.3 L1115.5,536.8 L1117.5,541.3 L1119.5,545.8 L1121.5,550.1 L1123.5,554.4 L1125.5,558.5 L1127.5,562.6 L1129.5,566.6 L1131.5,570.5 L1133.5,574.3 L1135.5,578.0 L1137.5,581.6 L1139.5,585.2 L1141.5,588.7 L1143.5,592.2 L1145.5,595.5 L1147.5,598.8 L1149.5,602.1 L1151.5,605.3 L1153.5,608.4 L1155.5,611.5 L1157.5,614.5 L1159.5,617.5 L1161.5,620.5 L1163.5,623.3 L1165.5,626.1 L1167.5,628.9 L1169.5,631.6 L1171.5,634.2 L1173.5,636.8 L1175.5,639.4 L1177.5,641.9 L1179.5,644.3 L1181.5,646.7 L1183.5,649.0 L1185.5,651.3 L1187.5,653.5 L1189.5,655.6 L1191.5,657.6 L1193.5,659.6 L1195.5,661.4 L1197.5,663.2 L1199.5,664.9 L1201.5,666.5 L1203.5,668.1 L1205.5,669.6 L1207.5,671.1 L1209.5,672.5 L1211.5,673.9 L1213.5,675.3 L1215.5,676.6 L1217.5,678.0 L1219.5,679.4 L1221.5,680.8 L1223.5,682.2 L1225.5,683.7 L1227.5,685.1 L1229.5,686.6 L1231.5,688.1 L1233.5,689.7 L1235.5,691.2 L1237.5,692.8 L1239.5,694.3 L1241.5,695.9 L1243.5,697.4 L1245.5,698.9 L1247.5,700.4 L1249.5,701.9 L1251.5,703.3 L1253.5,704.7 L1255.5,706.1 L1257.5,707.5 L1259.5,708.9 L1261.5,710.2 L1263.5,711.5 L1265.5,712.9 L1267.5,714.2 L1269.5,715.4 L1271.5,716.7 L1273.5,718.0 L1275.5,719.2 L1277.5,720.5 L1279.5,721.7 L1281.5,722.9 L1283.5,724.1 L1285.5,725.3 L1287.5,726.5 L1289.5,727.7 L1291.5,728.8 L1293.5,730.0 L1295.5,731.2 L1297.5,732.3 L1299.5,733.4 L1301.5,734.6 L1303.5,735.7 L1305.5,736.8 L1307.5,737.9 L1309.5,739.0 L1311.5,740.0 L1313.5,741.1 L1315.5,742.2 L1317.5,743.2 L1319.5,744.3 L1321.5,745.3 L1323.5,746.3 L1325.5,747.3 L1327.5,748.3 L1329.5,749.3 L1331.5,750.3 L1333.5,751.3 L1335.5,752.3 L1337.5,753.2 L1339.5,754.2 L1341.5,755.1 L1343.5,756.1 L1345.5,757.0 L1347.5,757.9 L1349.5,758.8 L1351.5,759.7 L1353.5,760.6 L1355.5,761.5 L1357.5,762.4 L1359.5,763.3 L1361.5,764.1 L1363.5,765.0 L1365.5,765.9 L1367.5,766.7 L1369.5,767.5 L1371.5,768.4 L1373.5,769.2 L1375.5,770.0 L1377.5,770.8 L1379.5,771.6 L1381.5,772.4 L1383.5,773.2 L1385.5,774.0 L1387.5,774.7 L1389.5,775.5 L1391.5,776.3 L1393.5,777.1 L1395.5,777.8 L1397.5,778.6 L1399.5,779.4 L1401.5,780.2 L1403.5,781.0 L1405.5,781.8 L1407.5,782.5 L1409.5,783.3 L1411.5,784.1 L1413.5,784.9 L1415.5,785.7 L1417.5,786.5 L1419.5,787.3 L1421.5,788.1 L1423.5,788.9 L1425.5,789.7 L1427.5,790.5 L1429.5,791.3 L1431.5,792.1 L1433.5,792.8 L1435.5,793.6 L1437.5,794.4 L1439.5,795.2 L1441.5,795.9 L1443.5,796.7 L1445.5,797.5 L1447.5,798.2 L1449.5,799.0 L1451.5,799.7 L1453.5,800.5 L1455.5,801.2 L1457.5,802.0 L1459.5,802.7 L1461.5,803.4 L1463.5,804.2 L1465.5,804.9 L1467.5,805.6 L1469.5,806.4 L1471.5,807.1 L1473.5,807.8 L1475.5,808.6 L1477.5,809.3 L1479.5,810.0 L1481.5,810.7 L1483.5,811.5 L1485.5,812.2 L1487.5,812.9 L1489.5,813.7 L1491.5,814.4 L1493.5,815.1 L1495.5,815.9 L1497.5,816.6 L1499.5,817.3 L1501.5,818.1 L1503.5,818.8 L1505.5,819.6 L1507.5,820.3 L1509.5,821.0 L1511.5,821.7 L1513.5,822.5 L1515.5,823.2 L1517.5,823.9 L1519.5,824.7 L1521.5,825.4 L1523.5,826.1 L1525.5,826.8 L1527.5,827.5 L1529.5,828.3 L1531.5,829.0 L1533.5,829.7 L1535.5,830.4 L1537.5,831.1 L1539.5,831.8 L1541.5,832.5 L1543.5,833.2 L1545.5,833.9 L1547.5,834.6 L1549.5,835.3 L1551.5,836.0 L1553.5,836.7 L1555.5,837.4" stroke="#dcfa00" stroke-width="4.4"/>
<circle cx="197.5" cy="214.8" r="12" fill="#ebe31e"/>
<circle cx="397.2" cy="219.0" r="12" fill="#ebe31e"/>
<circle cx="596.9" cy="220.0" r="12" fill="#ebe31e"/>
<circle cx="796.6" cy="221.8" r="12" fill="#ebe31e"/>
<circle cx="996.3" cy="281.2" r="12" fill="#ebe31e"/>
<circle cx="1196.0" cy="661.9" r="12" fill="#ebe31e"/>
<circle cx="1395.7" cy="777.9" r="12" fill="#ebe31e"/>
<path d="M197.5,214.8 L199.5,214.8 L201.5,214.9 L203.5,214.9 L205.5,214.9 L207.5,214.9 L209.5,215.0 L211.5,215.0 L213.5,215.0 L215.5,215.1 L217.5,215.1 L219.5,215.1 L221.5,215.2 L223.5,215.2 L225.5,215.2 L227.5,215.3 L229.5,215.3 L231.5,215.3 L233.5,215.4 L235.5,215.4 L237.5,215.5 L239.5,215.5 L241.5,215.5 L243.5,215.6 L245.5,215.6 L247.5,215.6 L249.5,215.7 L251.5,215.7 L253.5,215.8 L255.5,215.8 L257.5,215.8 L259.5,215.9 L261.5,215.9 L263.5,216.0 L265.5,216.0 L267.5,216.0 L269.5,216.1 L271.5,216.1 L273.5,216.2 L275.5,216.2 L277.5,216.2 L279.5,216.3 L281.5,216.3 L283.5,216.4 L285.5,216.4 L287.5,216.5 L289.5,216.5 L291.5,216.6 L293.5,216.6 L295.5,216.7 L297.5,216.7 L299.5,216.8 L301.5,216.8 L303.5,216.9 L305.5,216.9 L307.5,217.0 L309.5,217.0 L311.5,217.1 L313.5,217.1 L315.5,217.2 L317.5,217.2 L319.5,217.3 L321.5,217.3 L323.5,217.4 L325.5,217.5 L327.5,217.5 L329.5,217.6 L331.5,217.6 L333.5,217.7 L335.5,217.7 L337.5,217.8 L339.5,217.8 L341.5,217.9 L343.5,217.9 L345.5,218.0 L347.5,218.0 L349.5,218.1 L351.5,218.1 L353.5,218.2 L355.5,218.3 L357.5,218.3 L359.5,218.4 L361.5,218.4 L363.5,218.5 L365.5,218.5 L367.5,218.6 L369.5,218.7 L371.5,218.7 L373.5,218.8 L375.5,218.8 L377.5,218.9 L379.5,218.9 L381.5,218.9 L383.5,219.0 L385.5,219.0 L387.5,219.1 L389.5,219.1 L391.5,219.1 L393.5,219.1 L395.5,219.2 L397.5,219.2 L399.5,219.2 L401.5,219.2 L403.5,219.3 L405.5,219.3 L407.5,219.3 L409.5,219.3 L411.5,219.3 L413.5,219.3 L415.5,219.3 L417.5,219.3 L419.5,219.4 L421.5,219.4 L423.5,219.4 L425.5,219.4 L427.5,219.4 L429.5,219.4 L431.5,219.4 L433.5,219.4 L435.5,219.4 L437.5,219.4 L439.5,219.5 L441.5,219.5 L443.5,219.5 L445.5,219.5 L447.5,219.5 L449.5,219.5 L451.5,219.5 L453.5,219.5 L455.5,219.5 L457.5,219.5 L459.5,219.6 L461.5,219.6 L463.5,219.6 L465.5,219.6 L467.5,219.6 L469.5,219.6 L471.5,219.6 L473.5,219.7 L475.5,219.7 L477.5,219.7 L479.5,219.7 L481.5,219.7 L483.5,219.7 L485.5,219.8 L487.5,219.8 L489.5,219.8 L491.5,219.8 L493.5,219.8 L495.5,219.8 L497.5,219.9 L499.5,219.9 L501.5,219.9 L503.5,219.9 L505.5,219.9 L507.5,220.0 L509.5,220.0 L511.5,220.0 L513.5,220.0 L515.5,220.0 L517.5,220.1 L519.5,220.1 L521.5,220.1 L523.5,220.1 L525.5,220.2 L527.5,220.2 L529.5,220.2 L531.5,220.2 L533.5,220.2 L535.5,220.3 L537.5,220.3 L539.5,220.3 L541.5,220.3 L543.5,220.3 L545.5,220.4 L547.5,220.4 L549.5,220.4 L551.5,220.4 L553.5,220.5 L555.5,220.5 L557.5,220.5 L559.5,220.5 L561.5,220.6 L563.5,220.6 L565.5,220.6 L567.5,220.6 L569.5,220.7 L571.5,220.7 L573.5,220.7 L575.5,220.7 L577.5,220.8 L579.5,220.8 L581.5,220.8 L583.5,220.8 L585.5,220.9 L587.5,220.9 L589.5,220.9 L591.5,220.9 L593.5,221.0 L595.5,221.0 L597.5,221.0 L599.5,221.0 L601.5,221.1 L603.5,221.1 L605.5,221.1 L607.5,221.1 L609.5,221.2 L611.5,221.2 L613.5,221.2 L615.5,221.2 L617.5,221.3 L619.5,221.3 L621.5,221.3 L623.5,221.3 L625.5,221.4 L627.5,221.4 L629.5,221.4 L631.5,221.5 L633.5,221.5 L635.5,221.5 L637.5,221.5 L639.5,221.6 L641.5,221.6 L643.5,221.6 L645.5,221.7 L647.5,221.7 L649.5,221.7 L651.5,221.7 L653.5,221.8 L655.5,221.8 L657.5,221.8 L659.5,221.9 L661.5,221.9 L663.5,221.9 L665.5,222.0 L667.5,222.0 L669.5,222.0 L671.5,222.1 L673.5,222.1 L675.5,222.2 L677.5,222.2 L679.5,222.2 L681.5,222.3 L683.5,222.3 L685.5,222.4 L687.5,222.4 L689.5,222.4 L691.5,222.5 L693.5,222.5 L695.5,222.6 L697.5,222.6 L699.5,222.7 L701.5,222.7 L703.5,222.8 L705.5,222.8 L707.5,222.9 L709.5,222.9 L711.5,223.0 L713.5,223.0 L715.5,223.0 L717.5,223.1 L719.5,223.1 L721.5,223.2 L723.5,223.2 L725.5,223.3 L727.5,223.3 L729.5,223.4 L731.5,223.4 L733.5,223.5 L735.5,223.5 L737.5,223.6 L739.5,223.6 L741.5,223.7 L743.5,223.7 L745.5,223.8 L747.5,223.8 L749.5,223.9 L751.5,223.9 L753.5,223.9 L755.5,224.0 L757.5,224.0 L759.5,224.1 L761.5,224.1 L763.5,224.2 L765.5,224.2 L767.5,224.3 L769.5,224.3 L771.5,224.4 L773.5,224.4 L775.5,224.5 L777.5,224.5 L779.5,224.6 L781.5,224.6 L783.5,224.7 L785.5,224.7 L787.5,224.8 L789.5,224.8 L791.5,224.9 L793.5,224.9 L795.5,225.0 L797.5,225.1 L799.5,225.1 L801.5,225.2 L803.5,225.2 L805.5,225.3 L807.5,225.3 L809.5,225.4 L811.5,225.5 L813.5,225.5 L815.5,225.6 L817.5,225.6 L819.5,225.7 L821.5,225.8 L823.5,225.8 L825.5,225.9 L827.5,226.0 L829.5,226.1 L831.5,226.1 L833.5,226.2 L835.5,226.3 L837.5,226.4 L839.5,226.5 L841.5,226.6 L843.5,226.7 L845.5,226.9 L847.5,227.0 L849.5,227.1 L851.5,227.3 L853.5,227.5 L855.5,227.6 L857.5,227.8 L859.5,228.0 L861.5,228.3 L863.5,228.5 L865.5,228.8 L867.5,229.0 L869.5,229.3 L871.5,229.6 L873.5,229.9 L875.5,230.2 L877.5,230.5 L879.5,230.8 L881.5,231.1 L883.5,231.4 L885.5,231.8 L887.5,232.1 L889.5,232.5 L891.5,232.8 L893.5,233.2 L895.5,233.5 L897.5,233.9 L899.5,234.3 L901.5,234.7 L903.5,235.1 L905.5,235.5 L907.5,235.9 L909.5,236.4 L911.5,236.8 L913.5,237.3 L915.5,237.8 L917.5,238.3 L919.5,238.8 L921.5,239.4 L923.5,239.9 L925.5,240.5 L927.5,241.1 L929.5,241.7 L931.5,242.3 L933.5,242.9 L935.5,243.6 L937.5,244.3 L939.5,245.0 L941.5,245.7 L943.5,246.5 L945.5,247.3 L947.5,248.1 L949.5,248.9 L951.5,249.8 L953.5,250.7 L955.5,251.6 L957.5,252.5 L959.5,253.5 L961.5,254.5 L963.5,255.6 L965.5,256.7 L967.5,257.8 L969.5,259.0 L971.5,260.2 L973.5,261.5 L975.5,262.8 L977.5,264.2 L979.5,265.6 L981.5,267.2 L983.5,268.7 L985.5,270.3 L987.5,272.0 L989.5,273.8 L991.5,275.6 L993.5,277.5 L995.5,279.4 L997.5,281.4 L999.5,283.5 L1001.5,285.6 L1003.5,287.8 L1005.5,290.1 L1007.5,292.5 L1009.5,294.9 L1011.5,297.4 L1013.5,300.1 L1015.5,302.8 L1017.5,305.6 L1019.5,308.5 L1021.5,311.6 L1023.5,314.8 L1025.5,318.1 L1027.5,321.6 L1029.5,325.2 L1031.5,329.0 L1033.5,332.9 L1035.5,336.9 L1037.5,340.9 L1039.5,344.9 L1041.5,348.8 L1043.5,352.5 L1045.5,356.2 L1047.5,359.8 L1049.5,363.2 L1051.5,366.7 L1053.5,370.1 L1055.5,373.5 L1057.5,377.1 L1059.5,380.7 L1061.5,384.4 L1063.5,388.2 L1065.5,392.0 L1067.5,396.0 L1069.5,400.0 L1071.5,404.0 L1073.5,408.0 L1075.5,412.1 L1077.5,416.1 L1079.5,420.1 L1081.5,424.0 L1083.5,427.9 L1085.5,431.8 L1087.5,435.7 L1089.5,439.5 L1091.5,443.3 L1093.5,447.0 L1095.5,450.6 L1097.5,454.3 L1099.5,457.8 L1101.5,461.4 L1103.5,464.9 L1105.5,468.3 L1107.5,471.7 L1109.5,475.1 L1111.5,478.5 L1113.5,481.8 L1115.5,485.0 L1117.5,488.3 L1119.5,491.5 L1121.5,494.7 L1123.5,497.9 L1125.5,501.0 L1127.5,504.1 L1129.5,507.2 L1131.5,510.2 L1133.5,513.1 L1135.5,516.0 L1137.5,518.7 L1139.5,521.4 L1141.5,524.0 L1143.5,526.5 L1145.5,529.0 L1147.5,531.3 L1149.5,533.5 L1151.5,535.7 L1153.5,537.8 L1155.5,539.8 L1157.5,541.8 L1159.5,543.8 L1161.5,545.7 L1163.5,547.6 L1165.5,549.5 L1167.5,551.4 L1169.5,553.3 L1171.5,555.2 L1173.5,557.1 L1175.5,559.0 L1177.5,560.9 L1179.5,562.7 L1181.5,564.5 L1183.5,566.3 L1185.5,568.1 L1187.5,569.8 L1189.5,571.5 L1191.5,573.1 L1193.5,574.6 L1195.5,576.1 L1197.5,577.6 L1199.5,579.0 L1201.5,580.3 L1203.5,581.7 L1205.5,582.9 L1207.5,584.2 L1209.5,585.4 L1211.5,586.6 L1213.5,587.8 L1215.5,588.9 L1217.5,590.1 L1219.5,591.2 L1221.5,592.4 L1223.5,593.5 L1225.5,594.7 L1227.5,595.8 L1229.5,597.0 L1231.5,598.1 L1233.5,599.3 L1235.5,600.4 L1237.5,601.6 L1239.5,602.7 L1241.5,603.9 L1243.5,605.0 L1245.5,606.1 L1247.5,607.2 L1249.5,608.4 L1251.5,609.4 L1253.5,610.5 L1255.5,611.6 L1257.5,612.6 L1259.5,613.7 L1261.5,614.7 L1263.5,615.7 L1265.5,616.7 L1267.5,617.7 L1269.5,618.7 L1271.5,619.7 L1273.5,620.7 L1275.5,621.7 L1277.5,622.6 L1279.5,623.6 L1281.5,624.5 L1283.5,625.5 L1285.5,626.4 L1287.5,627.3 L1289.5,628.2 L1291.5,629.1 L1293.5,630.0 L1295.5,630.9 L1297.5,631.8 L1299.5,632.7 L1301.5,633.6 L1303.5,634.6 L1305.5,635.5 L1307.5,636.4 L1309.5,637.3 L1311.5,638.3 L1313.5,639.2 L1315.5,640.2 L1317.5,641.2 L1319.5,642.1 L1321.5,643.1 L1323.5,644.1 L1325.5,645.1 L1327.5,646.1 L1329.5,647.1 L1331.5,648.1 L1333.5,649.2 L1335.5,650.2 L1337.5,651.3 L1339.5,652.3 L1341.5,653.4 L1343.5,654.5 L1345.5,655.6 L1347.5,656.7 L1349.5,657.8 L1351.5,658.9 L1353.5,660.0 L1355.5,661.1 L1357.5,662.2 L1359.5,663.2 L1361.5,664.3 L1363.5,665.4 L1365.5,666.5 L1367.5,667.5 L1369.5,668.6 L1371.5,669.6 L1373.5,670.6 L1375.5,671.6 L1377.5,672.6 L1379.5,673.6 L1381.5,674.7 L1383.5,675.7 L1385.5,676.7 L1387.5,677.8 L1389.5,678.8 L1391.5,679.9 L1393.5,681.0 L1395.5,682.2 L1397.5,683.4 L1399.5,684.6 L1401.5,685.8 L1403.5,687.1 L1405.5,688.3 L1407.5,689.6 L1409.5,690.9 L1411.5,692.3 L1413.5,693.6 L1415.5,695.0 L1417.5,696.3 L1419.5,697.7 L1421.5,699.0 L1423.5,700.4 L1425.5,701.7 L1427.5,703.0 L1429.5,704.4 L1431.5,705.7 L1433.5,707.0 L1435.5,708.3 L1437.5,709.6 L1439.5,710.8 L1441.5,712.1 L1443.5,713.4 L1445.5,714.7 L1447.5,716.0 L1449.5,717.2 L1451.5,718.5 L1453.5,719.8 L1455.5,721.0 L1457.5,722.3 L1459.5,723.5 L1461.5,724.8 L1463.5,726.0 L1465.5,727.2 L1467.5,728.4 L1469.5,729.6 L1471.5,730.8 L1473.5,732.0 L1475.5,733.2 L1477.5,734.4 L1479.5,735.6 L1481.5,736.8 L1483.5,737.9 L1485.5,739.1 L1487.5,740.3 L1489.5,741.4 L1491.5,742.6 L1493.5,743.7 L1495.5,744.8 L1497.5,745.9 L1499.5,747.0 L1501.5,748.1 L1503.5,749.2 L1505.5,750.3 L1507.5,751.4 L1509.5,752.4 L1511.5,753.5 L1513.5,754.5 L1515.5,755.5 L1517.5,756.5 L1519.5,757.5 L1521.5,758.5 L1523.5,759.5 L1525.5,760.5 L1527.5,761.4 L1529.5,762.4 L1531.5,763.3 L1533.5,764.3 L1535.5,765.2 L1537.5,766.1 L1539.5,767.0 L1541.5,767.9 L1543.5,768.8 L1545.5,769.7 L1547.5,770.6 L1549.5,771.4 L1551.5,772.3 L1553.5,773.1 L1555.5,774.0" stroke="#60b04c" stroke-width="8.8"/>
<path d="M197.5,214.8 L199.5,214.8 L201.5,214.9 L203.5,214.9 L205.5,214.9 L207.5,214.9 L209.5,215.0 L211.5,215.0 L213.5,215.0 L215.5,215.1 L217.5,215.1 L219.5,215.1 L221.5,215.2 L223.5,215.2 L225.5,215.2 L227.5,215.3 L229.5,215.3 L231.5,215.3 L233.5,215.4 L235.5,215.4 L237.5,215.5 L239.5,215.5 L241.5,215.5 L243.5,215.6 L245.5,215.6 L247.5,215.6 L249.5,215.7 L251.5,215.7 L253.5,215.8 L255.5,215.8 L257.5,215.8 L259.5,215.9 L261.5,215.9 L263.5,216.0 L265.5,216.0 L267.5,216.0 L269.5,216.1 L271.5,216.1 L273.5,216.2 L275.5,216.2 L277.5,216.2 L279.5,216.3 L281.5,216.3 L283.5,216.4 L285.5,216.4 L287.5,216.5 L289.5,216.5 L291.5,216.6 L293.5,216.6 L295.5,216.7 L297.5,216.7 L299.5,216.8 L301.5,216.8 L303.5,216.9 L305.5,216.9 L307.5,217.0 L309.5,217.0 L311.5,217.1 L313.5,217.1 L315.5,217.2 L317.5,217.2 L319.5,217.3 L321.5,217.3 L323.5,217.4 L325.5,217.5 L327.5,217.5 L329.5,217.6 L331.5,217.6 L333.5,217.7 L335.5,217.7 L337.5,217.8 L339.5,217.8 L341.5,217.9 L343.5,217.9 L345.5,218.0 L347.5,218.0 L349.5,218.1 L351.5,218.1 L353.5,218.2 L355.5,218.3 L357.5,218.3 L359.5,218.4 L361.5,218.4 L363.5,218.5 L365.5,218.5 L367.5,218.6 L369.5,218.7 L371.5,218.7 L373.5,218.8 L375.5,218.8 L377.5,218.9 L379.5,218.9 L381.5,218.9 L383.5,219.0 L385.5,219.0 L387.5,219.1 L389.5,219.1 L391.5,219.1 L393.5,219.1 L395.5,219.2 L397.5,219.2 L399.5,219.2 L401.5,219.2 L403.5,219.3 L405.5,219.3 L407.5,219.3 L409.5,219.3 L411.5,219.3 L413.5,219.3 L415.5,219.3 L417.5,219.3 L419.5,219.4 L421.5,219.4 L423.5,219.4 L425.5,219.4 L427.5,219.4 L429.5,219.4 L431.5,219.4 L433.5,219.4 L435.5,219.4 L437.5,219.4 L439.5,219.5 L441.5,219.5 L443.5,219.5 L445.5,219.5 L447.5,219.5 L449.5,219.5 L451.5,219.5 L453.5,219.5 L455.5,219.5 L457.5,219.5 L459.5,219.6 L461.5,219.6 L463.5,219.6 L465.5,219.6 L467.5,219.6 L469.5,219.6 L471.5,219.6 L473.5,219.7 L475.5,219.7 L477.5,219.7 L479.5,219.7 L481.5,219.7 L483.5,219.7 L485.5,219.8 L487.5,219.8 L489.5,219.8 L491.5,219.8 L493.5,219.8 L495.5,219.8 L497.5,219.9 L499.5,219.9 L501.5,219.9 L503.5,219.9 L505.5,219.9 L507.5,220.0 L509.5,220.0 L511.5,220.0 L513.5,220.0 L515.5,220.0 L517.5,220.1 L519.5,220.1 L521.5,220.1 L523.5,220.1 L525.5,220.2 L527.5,220.2 L529.5,220.2 L531.5,220.2 L533.5,220.2 L535.5,220.3 L537.5,220.3 L539.5,220.3 L541.5,220.3 L543.5,220.3 L545.5,220.4 L547.5,220.4 L549.5,220.4 L551.5,220.4 L553.5,220.5 L555.5,220.5 L557.5,220.5 L559.5,220.5 L561.5,220.6 L563.5,220.6 L565.5,220.6 L567.5,220.6 L569.5,220.7 L571.5,220.7 L573.5,220.7 L575.5,220.7 L577.5,220.8 L579.5,220.8 L581.5,220.8 L583.5,220.8 L585.5,220.9 L587.5,220.9 L589.5,220.9 L591.5,220.9 L593.5,221.0 L595.5,221.0 L597.5,221.0 L599.5,221.0 L601.5,221.1 L603.5,221.1 L605.5,221.1 L607.5,221.1 L609.5,221.2 L611.5,221.2 L613.5,221.2 L615.5,221.2 L617.5,221.3 L619.5,221.3 L621.5,221.3 L623.5,221.3 L625.5,221.4 L627.5,221.4 L629.5,221.4 L631.5,221.5 L633.5,221.5 L635.5,221.5 L637.5,221.5 L639.5,221.6 L641.5,221.6 L643.5,221.6 L645.5,221.7 L647.5,221.7 L649.5,221.7 L651.5,221.7 L653.5,221.8 L655.5,221.8 L657.5,221.8 L659.5,221.9 L661.5,221.9 L663.5,221.9 L665.5,222.0 L667.5,222.0 L669.5,222.0 L671.5,222.1 L673.5,222.1 L675.5,222.2 L677.5,222.2 L679.5,222.2 L681.5,222.3 L683.5,222.3 L685.5,222.4 L687.5,222.4 L689.5,222.4 L691.5,222.5 L693.5,222.5 L695.5,222.6 L697.5,222.6 L699.5,222.7 L701.5,222.7 L703.5,222.8 L705.5,222.8 L707.5,222.9 L709.5,222.9 L711.5,223.0 L713.5,223.0 L715.5,223.0 L717.5,223.1 L719.5,223.1 L721.5,223.2 L723.5,223.2 L725.5,223.3 L727.5,223.3 L729.5,223.4 L731.5,223.4 L733.5,223.5 L735.5,223.5 L737.5,223.6 L739.5,223.6 L741.5,223.7 L743.5,223.7 L745.5,223.8 L747.5,223.8 L749.5,223.9 L751.5,223.9 L753.5,223.9 L755.5,224.0 L757.5,224.0 L759.5,224.1 L761.5,224.1 L763.5,224.2 L765.5,224.2 L767.5,224.3 L769.5,224.3 L771.5,224.4 L773.5,224.4 L775.5,224.5 L777.5,224.5 L779.5,224.6 L781.5,224.6 L783.5,224.7 L785.5,224.7 L787.5,224.8 L789.5,224.8 L791.5,224.9 L793.5,224.9 L795.5,225.0 L797.5,225.1 L799.5,225.1 L801.5,225.2 L803.5,225.2 L805.5,225.3 L807.5,225.3 L809.5,225.4 L811.5,225.5 L813.5,225.5 L815.5,225.6 L817.5,225.6 L819.5,225.7 L821.5,225.8 L823.5,225.8 L825.5,225.9 L827.5,226.0 L829.5,226.1 L831.5,226.1 L833.5,226.2 L835.5,226.3 L837.5,226.4 L839.5,226.5 L841.5,226.6 L843.5,226.7 L845.5,226.9 L847.5,227.0 L849.5,227.1 L851.5,227.3 L853.5,227.5 L855.5,227.6 L857.5,227.8 L859.5,228.0 L861.5,228.3 L863.5,228.5 L865.5,228.8 L867.5,229.0 L869.5,229.3 L871.5,229.6 L873.5,229.9 L875.5,230.2 L877.5,230.5 L879.5,230.8 L881.5,231.1 L883.5,231.4 L885.5,231.8 L887.5,232.1 L889.5,232.5 L891.5,232.8 L893.5,233.2 L895.5,233.5 L897.5,233.9 L899.5,234.3 L901.5,234.7 L903.5,235.1 L905.5,235.5 L907.5,235.9 L909.5,236.4 L911.5,236.8 L913.5,237.3 L915.5,237.8 L917.5,238.3 L919.5,238.8 L921.5,239.4 L923.5,239.9 L925.5,240.5 L927.5,241.1 L929.5,241.7 L931.5,242.3 L933.5,242.9 L935.5,243.6 L937.5,244.3 L939.5,245.0 L941.5,245.7 L943.5,246.5 L945.5,247.3 L947.5,248.1 L949.5,248.9 L951.5,249.8 L953.5,250.7 L955.5,251.6 L957.5,252.5 L959.5,253.5 L961.5,254.5 L963.5,255.6 L965.5,256.7 L967.5,257.8 L969.5,259.0 L971.5,260.2 L973.5,261.5 L975.5,262.8 L977.5,264.2 L979.5,265.6 L981.5,267.2 L983.5,268.7 L985.5,270.3 L987.5,272.0 L989.5,273.8 L991.5,275.6 L993.5,277.5 L995.5,279.4 L997.5,281.4 L999.5,283.5 L1001.5,285.6 L1003.5,287.8 L1005.5,290.1 L1007.5,292.5 L1009.5,294.9 L1011.5,297.4 L1013.5,300.1 L1015.5,302.8 L1017.5,305.6 L1019.5,308.5 L1021.5,311.6 L1023.5,314.8 L1025.5,318.1 L1027.5,321.6 L1029.5,325.2 L1031.5,329.0 L1033.5,332.9 L1035.5,336.9 L1037.5,340.9 L1039.5,344.9 L1041.5,348.8 L1043.5,352.5 L1045.5,356.2 L1047.5,359.8 L1049.5,363.2 L1051.5,366.7 L1053.5,370.1 L1055.5,373.5 L1057.5,377.1 L1059.5,380.7 L1061.5,384.4 L1063.5,388.2 L1065.5,392.0 L1067.5,396.0 L1069.5,400.0 L1071.5,404.0 L1073.5,408.0 L1075.5,412.1 L1077.5,416.1 L1079.5,420.1 L1081.5,424.0 L1083.5,427.9 L1085.5,431.8 L1087.5,435.7 L1089.5,439.5 L1091.5,443.3 L1093.5,447.0 L1095.5,450.6 L1097.5,454.3 L1099.5,457.8 L1101.5,461.4 L1103.5,464.9 L1105.5,468.3 L1107.5,471.7 L1109.5,475.1 L1111.5,478.5 L1113.5,481.8 L1115.5,485.0 L1117.5,488.3 L1119.5,491.5 L1121.5,494.7 L1123.5,497.9 L1125.5,501.0 L1127.5,504.1 L1129.5,507.2 L1131.5,510.2 L1133.5,513.1 L1135.5,516.0 L1137.5,518.7 L1139.5,521.4 L1141.5,524.0 L1143.5,526.5 L1145.5,529.0 L1147.5,531.3 L1149.5,533.5 L1151.5,535.7 L1153.5,537.8 L1155.5,539.8 L1157.5,541.8 L1159.5,543.8 L1161.5,545.7 L1163.5,547.6 L1165.5,549.5 L1167.5,551.4 L1169.5,553.3 L1171.5,555.2 L1173.5,557.1 L1175.5,559.0 L1177.5,560.9 L1179.5,562.7 L1181.5,564.5 L1183.5,566.3 L1185.5,568.1 L1187.5,569.8 L1189.5,571.5 L1191.5,573.1 L1193.5,574.6 L1195.5,576.1 L1197.5,577.6 L1199.5,579.0 L1201.5,580.3 L1203.5,581.7 L1205.5,582.9 L1207.5,584.2 L1209.5,585.4 L1211.5,586.6 L1213.5,587.8 L1215.5,588.9 L1217.5,590.1 L1219.5,591.2 L1221.5,592.4 L1223.5,593.5 L1225.5,594.7 L1227.5,595.8 L1229.5,597.0 L1231.5,598.1 L1233.5,599.3 L1235.5,600.4 L1237.5,601.6 L1239.5,602.7 L1241.5,603.9 L1243.5,605.0 L1245.5,606.1 L1247.5,607.2 L1249.5,608.4 L1251.5,609.4 L1253.5,610.5 L1255.5,611.6 L1257.5,612.6 L1259.5,613.7 L1261.5,614.7 L1263.5,615.7 L1265.5,616.7 L1267.5,617.7 L1269.5,618.7 L1271.5,619.7 L1273.5,620.7 L1275.5,621.7 L1277.5,622.6 L1279.5,623.6 L1281.5,624.5 L1283.5,625.5 L1285.5,626.4 L1287.5,627.3 L1289.5,628.2 L1291.5,629.1 L1293.5,630.0 L1295.5,630.9 L1297.5,631.8 L1299.5,632.7 L1301.5,633.6 L1303.5,634.6 L1305.5,635.5 L1307.5,636.4 L1309.5,637.3 L1311.5,638.3 L1313.5,639.2 L1315.5,640.2 L1317.5,641.2 L1319.5,642.1 L1321.5,643.1 L1323.5,644.1 L1325.5,645.1 L1327.5,646.1 L1329.5,647.1 L1331.5,648.1 L1333.5,649.2 L1335.5,650.2 L1337.5,651.3 L1339.5,652.3 L1341.5,653.4 L1343.5,654.5 L1345.5,655.6 L1347.5,656.7 L1349.5,657.8 L1351.5,658.9 L1353.5,660.0 L1355.5,661.1 L1357.5,662.2 L1359.5,663.2 L1361.5,664.3 L1363.5,665.4 L1365.5,666.5 L1367.5,667.5 L1369.5,668.6 L1371.5,669.6 L1373.5,670.6 L1375.5,671.6 L1377.5,672.6 L1379.5,673.6 L1381.5,674.7 L1383.5,675.7 L1385.5,676.7 L1387.5,677.8 L1389.5,678.8 L1391.5,679.9 L1393.5,681.0 L1395.5,682.2 L1397.5,683.4 L1399.5,684.6 L1401.5,685.8 L1403.5,687.1 L1405.5,688.3 L1407.5,689.6 L1409.5,690.9 L1411.5,692.3 L1413.5,693.6 L1415.5,695.0 L1417.5,696.3 L1419.5,697.7 L1421.5,699.0 L1423.5,700.4 L1425.5,701.7 L1427.5,703.0 L1429.5,704.4 L1431.5,705.7 L1433.5,707.0 L1435.5,708.3 L1437.5,709.6 L1439.5,710.8 L1441.5,712.1 L1443.5,713.4 L1445.5,714.7 L1447.5,716.0 L1449.5,717.2 L1451.5,718.5 L1453.5,719.8 L1455.5,721.0 L1457.5,722.3 L1459.5,723.5 L1461.5,724.8 L1463.5,726.0 L1465.5,727.2 L1467.5,728.4 L1469.5,729.6 L1471.5,730.8 L1473.5,732.0 L1475.5,733.2 L1477.5,734.4 L1479.5,735.6 L1481.5,736.8 L1483.5,737.9 L1485.5,739.1 L1487.5,740.3 L1489.5,741.4 L1491.5,742.6 L1493.5,743.7 L1495.5,744.8 L1497.5,745.9 L1499.5,747.0 L1501.5,748.1 L1503.5,749.2 L1505.5,750.3 L1507.5,751.4 L1509.5,752.4 L1511.5,753.5 L1513.5,754.5 L1515.5,755.5 L1517.5,756.5 L1519.5,757.5 L1521.5,758.5 L1523.5,759.5 L1525.5,760.5 L1527.5,761.4 L1529.5,762.4 L1531.5,763.3 L1533.5,764.3 L1535.5,765.2 L1537.5,766.1 L1539.5,767.0 L1541.5,767.9 L1543.5,768.8 L1545.5,769.7 L1547.5,770.6 L1549.5,771.4 L1551.5,772.3 L1553.5,773.1 L1555.5,774.0" stroke="#52c63e" stroke-width="4.4"/>
<polygon points="197.5,196.8 212.5,223.8 182.5,223.8" fill="#5cb833"/>
<polygon points="397.2,201.2 412.2,228.2 382.2,228.2" fill="#5cb833"/>
<polygon points="596.9,203.0 611.9,230.0 581.9,230.0" fill="#5cb833"/>
<polygon points="796.6,207.0 811.6,234.0 781.6,234.0" fill="#5cb833"/>
<polygon points="996.3,262.2 1011.3,289.2 981.3,289.2" fill="#5cb833"/>
<polygon points="1196.0,558.5 1211.0,585.5 1181.0,585.5" fill="#5cb833"/>
<polygon points="1395.7,664.3 1410.7,691.3 1380.7,691.3" fill="#5cb833"/>
<path d="M197.5,214.8 L199.5,214.8 L201.5,214.9 L203.5,214.9 L205.5,214.9 L207.5,215.0 L209.5,215.0 L211.5,215.0 L213.5,215.1 L215.5,215.1 L217.5,215.1 L219.5,215.2 L221.5,215.2 L223.5,215.2 L225.5,215.3 L227.5,215.3 L229.5,215.3 L231.5,215.4 L233.5,215.4 L235.5,215.5 L237.5,215.5 L239.5,215.5 L241.5,215.6 L243.5,215.6 L245.5,215.7 L247.5,215.7 L249.5,215.7 L251.5,215.8 L253.5,215.8 L255.5,215.9 L257.5,215.9 L259.5,216.0 L261.5,216.0 L263.5,216.0 L265.5,216.1 L267.5,216.1 L269.5,216.2 L271.5,216.2 L273.5,216.3 L275.5,216.3 L277.5,216.4 L279.5,216.4 L281.5,216.4 L283.5,216.5 L285.5,216.5 L287.5,216.6 L289.5,216.6 L291.5,216.7 L293.5,216.8 L295.5,216.8 L297.5,216.9 L299.5,216.9 L301.5,217.0 L303.5,217.0 L305.5,217.1 L307.5,217.1 L309.5,217.2 L311.5,217.3 L313.5,217.3 L315.5,217.4 L317.5,217.4 L319.5,217.5 L321.5,217.5 L323.5,217.6 L325.5,217.6 L327.5,217.7 L329.5,217.8 L331.5,217.8 L333.5,217.9 L335.5,217.9 L337.5,218.0 L339.5,218.0 L341.5,218.1 L343.5,218.1 L345.5,218.2 L347.5,218.2 L349.5,218.3 L351.5,218.3 L353.5,218.4 L355.5,218.4 L357.5,218.5 L359.5,218.5 L361.5,218.6 L363.5,218.6 L365.5,218.7 L367.5,218.7 L369.5,218.8 L371.5,218.8 L373.5,218.9 L375.5,218.9 L377.5,219.0 L379.5,219.0 L381.5,219.0 L383.5,219.1 L385.5,219.1 L387.5,219.2 L389.5,219.2 L391.5,219.2 L393.5,219.3 L395.5,219.3 L397.5,219.3 L399.5,219.3 L401.5,219.3 L403.5,219.4 L405.5,219.4 L407.5,219.4 L409.5,219.4 L411.5,219.4 L413.5,219.5 L415.5,219.5 L417.5,219.5 L419.5,219.5 L421.5,219.5 L423.5,219.5 L425.5,219.5 L427.5,219.5 L429.5,219.6 L431.5,219.6 L433.5,219.6 L435.5,219.6 L437.5,219.6 L439.5,219.6 L441.5,219.6 L443.5,219.6 L445.5,219.7 L447.5,219.7 L449.5,219.7 L451.5,219.7 L453.5,219.7 L455.5,219.7 L457.5,219.7 L459.5,219.7 L461.5,219.8 L463.5,219.8 L465.5,219.8 L467.5,219.8 L469.5,219.8 L471.5,219.8 L473.5,219.9 L475.5,219.9 L477.5,219.9 L479.5,219.9 L481.5,219.9 L483.5,220.0 L485.5,220.0 L487.5,220.0 L489.5,220.0 L491.5,220.0 L493.5,220.1 L495.5,220.1 L497.5,220.1 L499.5,220.1 L501.5,220.2 L503.5,220.2 L505.5,220.2 L507.5,220.2 L509.5,220.2 L511.5,220.3 L513.5,220.3 L515.5,220.3 L517.5,220.3 L519.5,220.4 L521.5,220.4 L523.5,220.4 L525.5,220.4 L527.5,220.5 L529.5,220.5 L531.5,220.5 L533.5,220.5 L535.5,220.6 L537.5,220.6 L539.5,220.6 L541.5,220.7 L543.5,220.7 L545.5,220.7 L547.5,220.7 L549.5,220.8 L551.5,220.8 L553.5,220.8 L555.5,220.9 L557.5,220.9 L559.5,220.9 L561.5,220.9 L563.5,221.0 L565.5,221.0 L567.5,221.0 L569.5,221.1 L571.5,221.1 L573.5,221.1 L575.5,221.2 L577.5,221.2 L579.5,221.2 L581.5,221.3 L583.5,221.3 L585.5,221.3 L587.5,221.4 L589.5,221.4 L591.5,221.4 L593.5,221.4 L595.5,221.5 L597.5,221.5 L599.5,221.5 L601.5,221.6 L603.5,221.6 L605.5,221.6 L607.5,221.7 L609.5,221.7 L611.5,221.7 L613.5,221.7 L615.5,221.8 L617.5,221.8 L619.5,221.8 L621.5,221.8 L623.5,221.9 L625.5,221.9 L627.5,221.9 L629.5,222.0 L631.5,222.0 L633.5,222.0 L635.5,222.1 L637.5,222.1 L639.5,222.1 L641.5,222.1 L643.5,222.2 L645.5,222.2 L647.5,222.2 L649.5,222.3 L651.5,222.3 L653.5,222.3 L655.5,222.4 L657.5,222.4 L659.5,222.5 L661.5,222.5 L663.5,222.5 L665.5,222.6 L667.5,222.6 L669.5,222.7 L671.5,222.7 L673.5,222.8 L675.5,222.8 L677.5,222.9 L679.5,222.9 L681.5,223.0 L683.5,223.0 L685.5,223.1 L687.5,223.2 L689.5,223.2 L691.5,223.3 L693.5,223.4 L695.5,223.4 L697.5,223.5 L699.5,223.6 L701.5,223.6 L703.5,223.7 L705.5,223.8 L707.5,223.8 L709.5,223.9 L711.5,224.0 L713.5,224.1 L715.5,224.1 L717.5,224.2 L719.5,224.3 L721.5,224.4 L723.5,224.4 L725.5,224.5 L727.5,224.6 L729.5,224.7 L731.5,224.7 L733.5,224.8 L735.5,224.9 L737.5,225.0 L739.5,225.0 L741.5,225.1 L743.5,225.2 L745.5,225.2 L747.5,225.3 L749.5,225.4 L751.5,225.5 L753.5,225.5 L755.5,225.6 L757.5,225.7 L759.5,225.8 L761.5,225.8 L763.5,225.9 L765.5,226.0 L767.5,226.1 L769.5,226.1 L771.5,226.2 L773.5,226.3 L775.5,226.4 L777.5,226.4 L779.5,226.5 L781.5,226.6 L783.5,226.7 L785.5,226.8 L787.5,226.8 L789.5,226.9 L791.5,227.0 L793.5,227.1 L795.5,227.2 L797.5,227.3 L799.5,227.4 L801.5,227.5 L803.5,227.6 L805.5,227.6 L807.5,227.7 L809.5,227.8 L811.5,227.9 L813.5,228.0 L815.5,228.1 L817.5,228.2 L819.5,228.3 L821.5,228.4 L823.5,228.5 L825.5,228.6 L827.5,228.7 L829.5,228.8 L831.5,229.0 L833.5,229.1 L835.5,229.2 L837.5,229.3 L839.5,229.5 L841.5,229.6 L843.5,229.8 L845.5,229.9 L847.5,230.1 L849.5,230.3 L851.5,230.5 L853.5,230.6 L855.5,230.8 L857.5,231.1 L859.5,231.3 L861.5,231.5 L863.5,231.7 L865.5,232.0 L867.5,232.2 L869.5,232.5 L871.5,232.8 L873.5,233.0 L875.5,233.3 L877.5,233.6 L879.5,233.9 L881.5,234.2 L883.5,234.5 L885.5,234.9 L887.5,235.2 L889.5,235.5 L891.5,235.9 L893.5,236.2 L895.5,236.6 L897.5,236.9 L899.5,237.3 L901.5,237.7 L903.5,238.1 L905.5,238.5 L907.5,238.9 L909.5,239.4 L911.5,239.8 L913.5,240.3 L915.5,240.8 L917.5,241.3 L919.5,241.8 L921.5,242.3 L923.5,242.9 L925.5,243.4 L927.5,244.0 L929.5,244.6 L931.5,245.2 L933.5,245.8 L935.5,246.5 L937.5,247.1 L939.5,247.8 L941.5,248.5 L943.5,249.2 L945.5,249.9 L947.5,250.7 L949.5,251.4 L951.5,252.2 L953.5,253.1 L955.5,253.9 L957.5,254.8 L959.5,255.7 L961.5,256.6 L963.5,257.5 L965.5,258.5 L967.5,259.5 L969.5,260.6 L971.5,261.7 L973.5,262.8 L975.5,264.0 L977.5,265.2 L979.5,266.5 L981.5,267.8 L983.5,269.2 L985.5,270.6 L987.5,272.1 L989.5,273.7 L991.5,275.3 L993.5,277.0 L995.5,278.7 L997.5,280.6 L999.5,282.5 L1001.5,284.5 L1003.5,286.6 L1005.5,288.8 L1007.5,291.0 L1009.5,293.4 L1011.5,295.8 L1013.5,298.3 L1015.5,300.8 L1017.5,303.4 L1019.5,306.0 L1021.5,308.7 L1023.5,311.3 L1025.5,314.0 L1027.5,316.8 L1029.5,319.5 L1031.5,322.3 L1033.5,325.1 L1035.5,327.9 L1037.5,330.8 L1039.5,333.7 L1041.5,336.6 L1043.5,339.6 L1045.5,342.6 L1047.5,345.7 L1049.5,348.8 L1051.5,352.0 L1053.5,355.2 L1055.5,358.5 L1057.5,361.9 L1059.5,365.3 L1061.5,368.8 L1063.5,372.3 L1065.5,375.8 L1067.5,379.3 L1069.5,382.7 L1071.5,386.1 L1073.5,389.5 L1075.5,392.7 L1077.5,395.9 L1079.5,399.0 L1081.5,402.0 L1083.5,405.0 L1085.5,407.9 L1087.5,410.7 L1089.5,413.5 L1091.5,416.2 L1093.5,418.9 L1095.5,421.6 L1097.5,424.2 L1099.5,426.8 L1101.5,429.3 L1103.5,431.8 L1105.5,434.3 L1107.5,436.7 L1109.5,439.0 L1111.5,441.4 L1113.5,443.7 L1115.5,445.9 L1117.5,448.1 L1119.5,450.2 L1121.5,452.3 L1123.5,454.4 L1125.5,456.5 L1127.5,458.5 L1129.5,460.4 L1131.5,462.3 L1133.5,464.2 L1135.5,466.1 L1137.5,467.9 L1139.5,469.7 L1141.5,471.4 L1143.5,473.1 L1145.5,474.8 L1147.5,476.4 L1149.5,478.0 L1151.5,479.6 L1153.5,481.2 L1155.5,482.7 L1157.5,484.2 L1159.5,485.6 L1161.5,487.0 L1163.5,488.4 L1165.5,489.8 L1167.5,491.1 L1169.5,492.4 L1171.5,493.6 L1173.5,494.8 L1175.5,495.9 L1177.5,497.0 L1179.5,498.1 L1181.5,499.1 L1183.5,500.1 L1185.5,501.1 L1187.5,502.0 L1189.5,503.0 L1191.5,503.9 L1193.5,504.8 L1195.5,505.7 L1197.5,506.6 L1199.5,507.5 L1201.5,508.4 L1203.5,509.2 L1205.5,510.1 L1207.5,511.0 L1209.5,511.8 L1211.5,512.7 L1213.5,513.6 L1215.5,514.4 L1217.5,515.2 L1219.5,516.1 L1221.5,516.9 L1223.5,517.7 L1225.5,518.6 L1227.5,519.4 L1229.5,520.2 L1231.5,521.0 L1233.5,521.8 L1235.5,522.6 L1237.5,523.4 L1239.5,524.1 L1241.5,524.9 L1243.5,525.7 L1245.5,526.4 L1247.5,527.2 L1249.5,527.9 L1251.5,528.7 L1253.5,529.4 L1255.5,530.1 L1257.5,530.9 L1259.5,531.6 L1261.5,532.3 L1263.5,533.0 L1265.5,533.7 L1267.5,534.4 L1269.5,535.1 L1271.5,535.8 L1273.5,536.4 L1275.5,537.1 L1277.5,537.8 L1279.5,538.4 L1281.5,539.1 L1283.5,539.8 L1285.5,540.4 L1287.5,541.0 L1289.5,541.7 L1291.5,542.3 L1293.5,542.9 L1295.5,543.6 L1297.5,544.2 L1299.5,544.8 L1301.5,545.4 L1303.5,546.0 L1305.5,546.6 L1307.5,547.2 L1309.5,547.9 L1311.5,548.5 L1313.5,549.1 L1315.5,549.7 L1317.5,550.3 L1319.5,550.9 L1321.5,551.5 L1323.5,552.1 L1325.5,552.7 L1327.5,553.3 L1329.5,553.9 L1331.5,554.5 L1333.5,555.1 L1335.5,555.6 L1337.5,556.2 L1339.5,556.7 L1341.5,557.3 L1343.5,557.8 L1345.5,558.3 L1347.5,558.8 L1349.5,559.3 L1351.5,559.8 L1353.5,560.3 L1355.5,560.8 L1357.5,561.3 L1359.5,561.8 L1361.5,562.3 L1363.5,562.8 L1365.5,563.3 L1367.5,563.8 L1369.5,564.3 L1371.5,564.8 L1373.5,565.3 L1375.5,565.8 L1377.5,566.4 L1379.5,566.9 L1381.5,567.4 L1383.5,567.9 L1385.5,568.4 L1387.5,568.9 L1389.5,569.5 L1391.5,570.0 L1393.5,570.5 L1395.5,571.0 L1397.5,571.5 L1399.5,572.0 L1401.5,572.6 L1403.5,573.1 L1405.5,573.6 L1407.5,574.1 L1409.5,574.7 L1411.5,575.2 L1413.5,575.7 L1415.5,576.2 L1417.5,576.8 L1419.5,577.3 L1421.5,577.8 L1423.5,578.3 L1425.5,578.8 L1427.5,579.3 L1429.5,579.8 L1431.5,580.3 L1433.5,580.8 L1435.5,581.3 L1437.5,581.8 L1439.5,582.3 L1441.5,582.8 L1443.5,583.3 L1445.5,583.7 L1447.5,584.2 L1449.5,584.6 L1451.5,585.1 L1453.5,585.6 L1455.5,586.0 L1457.5,586.5 L1459.5,587.0 L1461.5,587.4 L1463.5,587.9 L1465.5,588.4 L1467.5,588.8 L1469.5,589.3 L1471.5,589.8 L1473.5,590.3 L1475.5,590.8 L1477.5,591.3 L1479.5,591.8 L1481.5,592.3 L1483.5,592.8 L1485.5,593.3 L1487.5,593.9 L1489.5,594.4 L1491.5,594.9 L1493.5,595.5 L1495.5,596.0 L1497.5,596.5 L1499.5,597.1 L1501.5,597.6 L1503.5,598.2 L1505.5,598.7 L1507.5,599.2 L1509.5,599.8 L1511.5,600.3 L1513.5,600.9 L1515.5,601.4 L1517.5,601.9 L1519.5,602.5 L1521.5,603.0 L1523.5,603.5 L1525.5,604.1 L1527.5,604.6 L1529.5,605.1 L1531.5,605.7 L1533.5,606.2 L1535.5,606.7 L1537.5,607.2 L1539.5,607.8 L1541.5,608.3 L1543.5,608.8 L1545.5,609.4 L1547.5,609.9 L1549.5,610.4 L1551.5,610.9 L1553.5,611.5 L1555.5,612.0" stroke="#33307c" stroke-width="8.8"/>
<path d="M197.5,214.8 L199.5,214.8 L201.5,214.9 L203.5,214.9 L205.5,214.9 L207.5,215.0 L209.5,215.0 L211.5,215.0 L213.5,215.1 L215.5,215.1 L217.5,215.1 L219.5,215.2 L221.5,215.2 L223.5,215.2 L225.5,215.3 L227.5,215.3 L229.5,215.3 L231.5,215.4 L233.5,215.4 L235.5,215.5 L237.5,215.5 L239.5,215.5 L241.5,215.6 L243.5,215.6 L245.5,215.7 L247.5,215.7 L249.5,215.7 L251.5,215.8 L253.5,215.8 L255.5,215.9 L257.5,215.9 L259.5,216.0 L261.5,216.0 L263.5,216.0 L265.5,216.1 L267.5,216.1 L269.5,216.2 L271.5,216.2 L273.5,216.3 L275.5,216.3 L277.5,216.4 L279.5,216.4 L281.5,216.4 L283.5,216.5 L285.5,216.5 L287.5,216.6 L289.5,216.6 L291.5,216.7 L293.5,216.8 L295.5,216.8 L297.5,216.9 L299.5,216.9 L301.5,217.0 L303.5,217.0 L305.5,217.1 L307.5,217.1 L309.5,217.2 L311.5,217.3 L313.5,217.3 L315.5,217.4 L317.5,217.4 L319.5,217.5 L321.5,217.5 L323.5,217.6 L325.5,217.6 L327.5,217.7 L329.5,217.8 L331.5,217.8 L333.5,217.9 L335.5,217.9 L337.5,218.0 L339.5,218.0 L341.5,218.1 L343.5,218.1 L345.5,218.2 L347.5,218.2 L349.5,218.3 L351.5,218.3 L353.5,218.4 L355.5,218.4 L357.5,218.5 L359.5,218.5 L361.5,218.6 L363.5,218.6 L365.5,218.7 L367.5,218.7 L369.5,218.8 L371.5,218.8 L373.5,218.9 L375.5,218.9 L377.5,219.0 L379.5,219.0 L381.5,219.0 L383.5,219.1 L385.5,219.1 L387.5,219.2 L389.5,219.2 L391.5,219.2 L393.5,219.3 L395.5,219.3 L397.5,219.3 L399.5,219.3 L401.5,219.3 L403.5,219.4 L405.5,219.4 L407.5,219.4 L409.5,219.4 L411.5,219.4 L413.5,219.5 L415.5,219.5 L417.5,219.5 L419.5,219.5 L421.5,219.5 L423.5,219.5 L425.5,219.5 L427.5,219.5 L429.5,219.6 L431.5,219.6 L433.5,219.6 L435.5,219.6 L437.5,219.6 L439.5,219.6 L441.5,219.6 L443.5,219.6 L445.5,219.7 L447.5,219.7 L449.5,219.7 L451.5,219.7 L453.5,219.7 L455.5,219.7 L457.5,219.7 L459.5,219.7 L461.5,219.8 L463.5,219.8 L465.5,219.8 L467.5,219.8 L469.5,219.8 L471.5,219.8 L473.5,219.9 L475.5,219.9 L477.5,219.9 L479.5,219.9 L481.5,219.9 L483.5,220.0 L485.5,220.0 L487.5,220.0 L489.5,220.0 L491.5,220.0 L493.5,220.1 L495.5,220.1 L497.5,220.1 L499.5,220.1 L501.5,220.2 L503.5,220.2 L505.5,220.2 L507.5,220.2 L509.5,220.2 L511.5,220.3 L513.5,220.3 L515.5,220.3 L517.5,220.3 L519.5,220.4 L521.5,220.4 L523.5,220.4 L525.5,220.4 L527.5,220.5 L529.5,220.5 L531.5,220.5 L533.5,220.5 L535.5,220.6 L537.5,220.6 L539.5,220.6 L541.5,220.7 L543.5,220.7 L545.5,220.7 L547.5,220.7 L549.5,220.8 L551.5,220.8 L553.5,220.8 L555.5,220.9 L557.5,220.9 L559.5,220.9 L561.5,220.9 L563.5,221.0 L565.5,221.0 L567.5,221.0 L569.5,221.1 L571.5,221.1 L573.5,221.1 L575.5,221.2 L577.5,221.2 L579.5,221.2 L581.5,221.3 L583.5,221.3 L585.5,221.3 L587.5,221.4 L589.5,221.4 L591.5,221.4 L593.5,221.4 L595.5,221.5 L597.5,221.5 L599.5,221.5 L601.5,221.6 L603.5,221.6 L605.5,221.6 L607.5,221.7 L609.5,221.7 L611.5,221.7 L613.5,221.7 L615.5,221.8 L617.5,221.8 L619.5,221.8 L621.5,221.8 L623.5,221.9 L625.5,221.9 L627.5,221.9 L629.5,222.0 L631.5,222.0 L633.5,222.0 L635.5,222.1 L637.5,222.1 L639.5,222.1 L641.5,222.1 L643.5,222.2 L645.5,222.2 L647.5,222.2 L649.5,222.3 L651.5,222.3 L653.5,222.3 L655.5,222.4 L657.5,222.4 L659.5,222.5 L661.5,222.5 L663.5,222.5 L665.5,222.6 L667.5,222.6 L669.5,222.7 L671.5,222.7 L673.5,222.8 L675.5,222.8 L677.5,222.9 L679.5,222.9 L681.5,223.0 L683.5,223.0 L685.5,223.1 L687.5,223.2 L689.5,223.2 L691.5,223.3 L693.5,223.4 L695.5,223.4 L697.5,223.5 L699.5,223.6 L701.5,223.6 L703.5,223.7 L705.5,223.8 L707.5,223.8 L709.5,223.9 L711.5,224.0 L713.5,224.1 L715.5,224.1 L717.5,224.2 L719.5,224.3 L721.5,224.4 L723.5,224.4 L725.5,224.5 L727.5,224.6 L729.5,224.7 L731.5,224.7 L733.5,224.8 L735.5,224.9 L737.5,225.0 L739.5,225.0 L741.5,225.1 L743.5,225.2 L745.5,225.2 L747.5,225.3 L749.5,225.4 L751.5,225.5 L753.5,225.5 L755.5,225.6 L757.5,225.7 L759.5,225.8 L761.5,225.8 L763.5,225.9 L765.5,226.0 L767.5,226.1 L769.5,226.1 L771.5,226.2 L773.5,226.3 L775.5,226.4 L777.5,226.4 L779.5,226.5 L781.5,226.6 L783.5,226.7 L785.5,226.8 L787.5,226.8 L789.5,226.9 L791.5,227.0 L793.5,227.1 L795.5,227.2 L797.5,227.3 L799.5,227.4 L801.5,227.5 L803.5,227.6 L805.5,227.6 L807.5,227.7 L809.5,227.8 L811.5,227.9 L813.5,228.0 L815.5,228.1 L817.5,228.2 L819.5,228.3 L821.5,228.4 L823.5,228.5 L825.5,228.6 L827.5,228.7 L829.5,228.8 L831.5,229.0 L833.5,229.1 L835.5,229.2 L837.5,229.3 L839.5,229.5 L841.5,229.6 L843.5,229.8 L845.5,229.9 L847.5,230.1 L849.5,230.3 L851.5,230.5 L853.5,230.6 L855.5,230.8 L857.5,231.1 L859.5,231.3 L861.5,231.5 L863.5,231.7 L865.5,232.0 L867.5,232.2 L869.5,232.5 L871.5,232.8 L873.5,233.0 L875.5,233.3 L877.5,233.6 L879.5,233.9 L881.5,234.2 L883.5,234.5 L885.5,234.9 L887.5,235.2 L889.5,235.5 L891.5,235.9 L893.5,236.2 L895.5,236.6 L897.5,236.9 L899.5,237.3 L901.5,237.7 L903.5,238.1 L905.5,238.5 L907.5,238.9 L909.5,239.4 L911.5,239.8 L913.5,240.3 L915.5,240.8 L917.5,241.3 L919.5,241.8 L921.5,242.3 L923.5,242.9 L925.5,243.4 L927.5,244.0 L929.5,244.6 L931.5,245.2 L933.5,245.8 L935.5,246.5 L937.5,247.1 L939.5,247.8 L941.5,248.5 L943.5,249.2 L945.5,249.9 L947.5,250.7 L949.5,251.4 L951.5,252.2 L953.5,253.1 L955.5,253.9 L957.5,254.8 L959.5,255.7 L961.5,256.6 L963.5,257.5 L965.5,258.5 L967.5,259.5 L969.5,260.6 L971.5,261.7 L973.5,262.8 L975.5,264.0 L977.5,265.2 L979.5,266.5 L981.5,267.8 L983.5,269.2 L985.5,270.6 L987.5,272.1 L989.5,273.7 L991.5,275.3 L993.5,277.0 L995.5,278.7 L997.5,280.6 L999.5,282.5 L1001.5,284.5 L1003.5,286.6 L1005.5,288.8 L1007.5,291.0 L1009.5,293.4 L1011.5,295.8 L1013.5,298.3 L1015.5,300.8 L1017.5,303.4 L1019.5,306.0 L1021.5,308.7 L1023.5,311.3 L1025.5,314.0 L1027.5,316.8 L1029.5,319.5 L1031.5,322.3 L1033.5,325.1 L1035.5,327.9 L1037.5,330.8 L1039.5,333.7 L1041.5,336.6 L1043.5,339.6 L1045.5,342.6 L1047.5,345.7 L1049.5,348.8 L1051.5,352.0 L1053.5,355.2 L1055.5,358.5 L1057.5,361.9 L1059.5,365.3 L1061.5,368.8 L1063.5,372.3 L1065.5,375.8 L1067.5,379.3 L1069.5,382.7 L1071.5,386.1 L1073.5,389.5 L1075.5,392.7 L1077.5,395.9 L1079.5,399.0 L1081.5,402.0 L1083.5,405.0 L1085.5,407.9 L1087.5,410.7 L1089.5,413.5 L1091.5,416.2 L1093.5,418.9 L1095.5,421.6 L1097.5,424.2 L1099.5,426.8 L1101.5,429.3 L1103.5,431.8 L1105.5,434.3 L1107.5,436.7 L1109.5,439.0 L1111.5,441.4 L1113.5,443.7 L1115.5,445.9 L1117.5,448.1 L1119.5,450.2 L1121.5,452.3 L1123.5,454.4 L1125.5,456.5 L1127.5,458.5 L1129.5,460.4 L1131.5,462.3 L1133.5,464.2 L1135.5,466.1 L1137.5,467.9 L1139.5,469.7 L1141.5,471.4 L1143.5,473.1 L1145.5,474.8 L1147.5,476.4 L1149.5,478.0 L1151.5,479.6 L1153.5,481.2 L1155.5,482.7 L1157.5,484.2 L1159.5,485.6 L1161.5,487.0 L1163.5,488.4 L1165.5,489.8 L1167.5,491.1 L1169.5,492.4 L1171.5,493.6 L1173.5,494.8 L1175.5,495.9 L1177.5,497.0 L1179.5,498.1 L1181.5,499.1 L1183.5,500.1 L1185.5,501.1 L1187.5,502.0 L1189.5,503.0 L1191.5,503.9 L1193.5,504.8 L1195.5,505.7 L1197.5,506.6 L1199.5,507.5 L1201.5,508.4 L1203.5,509.2 L1205.5,510.1 L1207.5,511.0 L1209.5,511.8 L1211.5,512.7 L1213.5,513.6 L1215.5,514.4 L1217.5,515.2 L1219.5,516.1 L1221.5,516.9 L1223.5,517.7 L1225.5,518.6 L1227.5,519.4 L1229.5,520.2 L1231.5,521.0 L1233.5,521.8 L1235.5,522.6 L1237.5,523.4 L1239.5,524.1 L1241.5,524.9 L1243.5,525.7 L1245.5,526.4 L1247.5,527.2 L1249.5,527.9 L1251.5,528.7 L1253.5,529.4 L1255.5,530.1 L1257.5,530.9 L1259.5,531.6 L1261.5,532.3 L1263.5,533.0 L1265.5,533.7 L1267.5,534.4 L1269.5,535.1 L1271.5,535.8 L1273.5,536.4 L1275.5,537.1 L1277.5,537.8 L1279.5,538.4 L1281.5,539.1 L1283.5,539.8 L1285.5,540.4 L1287.5,541.0 L1289.5,541.7 L1291.5,542.3 L1293.5,542.9 L1295.5,543.6 L1297.5,544.2 L1299.5,544.8 L1301.5,545.4 L1303.5,546.0 L1305.5,546.6 L1307.5,547.2 L1309.5,547.9 L1311.5,548.5 L1313.5,549.1 L1315.5,549.7 L1317.5,550.3 L1319.5,550.9 L1321.5,551.5 L1323.5,552.1 L1325.5,552.7 L1327.5,553.3 L1329.5,553.9 L1331.5,554.5 L1333.5,555.1 L1335.5,555.6 L1337.5,556.2 L1339.5,556.7 L1341.5,557.3 L1343.5,557.8 L1345.5,558.3 L1347.5,558.8 L1349.5,559.3 L1351.5,559.8 L1353.5,560.3 L1355.5,560.8 L1357.5,561.3 L1359.5,561.8 L1361.5,562.3 L1363.5,562.8 L1365.5,563.3 L1367.5,563.8 L1369.5,564.3 L1371.5,564.8 L1373.5,565.3 L1375.5,565.8 L1377.5,566.4 L1379.5,566.9 L1381.5,567.4 L1383.5,567.9 L1385.5,568.4 L1387.5,568.9 L1389.5,569.5 L1391.5,570.0 L1393.5,570.5 L1395.5,571.0 L1397.5,571.5 L1399.5,572.0 L1401.5,572.6 L1403.5,573.1 L1405.5,573.6 L1407.5,574.1 L1409.5,574.7 L1411.5,575.2 L1413.5,575.7 L1415.5,576.2 L1417.5,576.8 L1419.5,577.3 L1421.5,577.8 L1423.5,578.3 L1425.5,578.8 L1427.5,579.3 L1429.5,579.8 L1431.5,580.3 L1433.5,580.8 L1435.5,581.3 L1437.5,581.8 L1439.5,582.3 L1441.5,582.8 L1443.5,583.3 L1445.5,583.7 L1447.5,584.2 L1449.5,584.6 L1451.5,585.1 L1453.5,585.6 L1455.5,586.0 L1457.5,586.5 L1459.5,587.0 L1461.5,587.4 L1463.5,587.9 L1465.5,588.4 L1467.5,588.8 L1469.5,589.3 L1471.5,589.8 L1473.5,590.3 L1475.5,590.8 L1477.5,591.3 L1479.5,591.8 L1481.5,592.3 L1483.5,592.8 L1485.5,593.3 L1487.5,593.9 L1489.5,594.4 L1491.5,594.9 L1493.5,595.5 L1495.5,596.0 L1497.5,596.5 L1499.5,597.1 L1501.5,597.6 L1503.5,598.2 L1505.5,598.7 L1507.5,599.2 L1509.5,599.8 L1511.5,600.3 L1513.5,600.9 L1515.5,601.4 L1517.5,601.9 L1519.5,602.5 L1521.5,603.0 L1523.5,603.5 L1525.5,604.1 L1527.5,604.6 L1529.5,605.1 L1531.5,605.7 L1533.5,606.2 L1535.5,606.7 L1537.5,607.2 L1539.5,607.8 L1541.5,608.3 L1543.5,608.8 L1545.5,609.4 L1547.5,609.9 L1549.5,610.4 L1551.5,610.9 L1553.5,611.5 L1555.5,612.0" stroke="#4b3cc2" stroke-width="4.4"/>
<polygon points="182.5,205.8 212.5,205.8 197.5,232.8" fill="#3856a8"/>
<polygon points="382.2,210.3 412.2,210.3 397.2,237.3" fill="#3856a8"/>
<polygon points="581.9,212.5 611.9,212.5 596.9,239.5" fill="#3856a8"/>
<polygon points="781.6,218.2 811.6,218.2 796.6,245.2" fill="#3856a8"/>
<polygon points="981.3,270.5 1011.3,270.5 996.3,297.5" fill="#3856a8"/>
<polygon points="1181.0,496.9 1211.0,496.9 1196.0,523.9" fill="#3856a8"/>
<polygon points="1380.7,562.1 1410.7,562.1 1395.7,589.1" fill="#3856a8"/>
<path d="M197.5,214.8 L199.5,214.8 L201.5,214.9 L203.5,214.9 L205.5,214.9 L207.5,215.0 L209.5,215.0 L211.5,215.0 L213.5,215.1 L215.5,215.1 L217.5,215.1 L219.5,215.2 L221.5,215.2 L223.5,215.2 L225.5,215.3 L227.5,215.3 L229.5,215.3 L231.5,215.4 L233.5,215.4 L235.5,215.5 L237.5,215.5 L239.5,215.5 L241.5,215.6 L243.5,215.6 L245.5,215.7 L247.5,215.7 L249.5,215.7 L251.5,215.8 L253.5,215.8 L255.5,215.9 L257.5,215.9 L259.5,216.0 L261.5,216.0 L263.5,216.0 L265.5,216.1 L267.5,216.1 L269.5,216.2 L271.5,216.2 L273.5,216.3 L275.5,216.3 L277.5,216.4 L279.5,216.4 L281.5,216.4 L283.5,216.5 L285.5,216.5 L287.5,216.6 L289.5,216.6 L291.5,216.7 L293.5,216.8 L295.5,216.8 L297.5,216.9 L299.5,216.9 L301.5,217.0 L303.5,217.0 L305.5,217.1 L307.5,217.1 L309.5,217.2 L311.5,217.2 L313.5,217.3 L315.5,217.4 L317.5,217.4 L319.5,217.5 L321.5,217.5 L323.5,217.6 L325.5,217.6 L327.5,217.7 L329.5,217.7 L331.5,217.8 L333.5,217.9 L335.5,217.9 L337.5,218.0 L339.5,218.0 L341.5,218.1 L343.5,218.1 L345.5,218.2 L347.5,218.2 L349.5,218.3 L351.5,218.3 L353.5,218.4 L355.5,218.5 L357.5,218.5 L359.5,218.6 L361.5,218.6 L363.5,218.7 L365.5,218.7 L367.5,218.8 L369.5,218.8 L371.5,218.9 L373.5,218.9 L375.5,219.0 L377.5,219.0 L379.5,219.1 L381.5,219.1 L383.5,219.2 L385.5,219.2 L387.5,219.2 L389.5,219.3 L391.5,219.3 L393.5,219.3 L395.5,219.4 L397.5,219.4 L399.5,219.4 L401.5,219.5 L403.5,219.5 L405.5,219.5 L407.5,219.5 L409.5,219.5 L411.5,219.6 L413.5,219.6 L415.5,219.6 L417.5,219.6 L419.5,219.6 L421.5,219.6 L423.5,219.7 L425.5,219.7 L427.5,219.7 L429.5,219.7 L431.5,219.7 L433.5,219.7 L435.5,219.8 L437.5,219.8 L439.5,219.8 L441.5,219.8 L443.5,219.8 L445.5,219.8 L447.5,219.8 L449.5,219.9 L451.5,219.9 L453.5,219.9 L455.5,219.9 L457.5,219.9 L459.5,219.9 L461.5,220.0 L463.5,220.0 L465.5,220.0 L467.5,220.0 L469.5,220.0 L471.5,220.1 L473.5,220.1 L475.5,220.1 L477.5,220.1 L479.5,220.1 L481.5,220.2 L483.5,220.2 L485.5,220.2 L487.5,220.2 L489.5,220.3 L491.5,220.3 L493.5,220.3 L495.5,220.3 L497.5,220.4 L499.5,220.4 L501.5,220.4 L503.5,220.4 L505.5,220.5 L507.5,220.5 L509.5,220.5 L511.5,220.5 L513.5,220.6 L515.5,220.6 L517.5,220.6 L519.5,220.7 L521.5,220.7 L523.5,220.7 L525.5,220.7 L527.5,220.8 L529.5,220.8 L531.5,220.8 L533.5,220.9 L535.5,220.9 L537.5,220.9 L539.5,221.0 L541.5,221.0 L543.5,221.0 L545.5,221.1 L547.5,221.1 L549.5,221.1 L551.5,221.2 L553.5,221.2 L555.5,221.2 L557.5,221.3 L559.5,221.3 L561.5,221.4 L563.5,221.4 L565.5,221.4 L567.5,221.5 L569.5,221.5 L571.5,221.5 L573.5,221.6 L575.5,221.6 L577.5,221.7 L579.5,221.7 L581.5,221.7 L583.5,221.8 L585.5,221.8 L587.5,221.8 L589.5,221.9 L591.5,221.9 L593.5,221.9 L595.5,222.0 L597.5,222.0 L599.5,222.0 L601.5,222.1 L603.5,222.1 L605.5,222.1 L607.5,222.1 L609.5,222.2 L611.5,222.2 L613.5,222.2 L615.5,222.3 L617.5,222.3 L619.5,222.3 L621.5,222.3 L623.5,222.4 L625.5,222.4 L627.5,222.4 L629.5,222.4 L631.5,222.5 L633.5,222.5 L635.5,222.5 L637.5,222.5 L639.5,222.6 L641.5,222.6 L643.5,222.6 L645.5,222.6 L647.5,222.7 L649.5,222.7 L651.5,222.7 L653.5,222.8 L655.5,222.8 L657.5,222.8 L659.5,222.9 L661.5,222.9 L663.5,222.9 L665.5,223.0 L667.5,223.0 L669.5,223.1 L671.5,223.1 L673.5,223.2 L675.5,223.2 L677.5,223.3 L679.5,223.3 L681.5,223.4 L683.5,223.5 L685.5,223.5 L687.5,223.6 L689.5,223.7 L691.5,223.8 L693.5,223.8 L695.5,223.9 L697.5,224.0 L699.5,224.1 L701.5,224.2 L703.5,224.3 L705.5,224.3 L707.5,224.4 L709.5,224.5 L711.5,224.6 L713.5,224.7 L715.5,224.8 L717.5,224.9 L719.5,225.0 L721.5,225.1 L723.5,225.1 L725.5,225.2 L727.5,225.3 L729.5,225.4 L731.5,225.5 L733.5,225.6 L735.5,225.7 L737.5,225.7 L739.5,225.8 L741.5,225.9 L743.5,226.0 L745.5,226.1 L747.5,226.1 L749.5,226.2 L751.5,226.3 L753.5,226.4 L755.5,226.5 L757.5,226.5 L759.5,226.6 L761.5,226.7 L763.5,226.8 L765.5,226.8 L767.5,226.9 L769.5,227.0 L771.5,227.1 L773.5,227.2 L775.5,227.3 L777.5,227.3 L779.5,227.4 L781.5,227.5 L783.5,227.6 L785.5,227.7 L787.5,227.8 L789.5,227.9 L791.5,228.0 L793.5,228.1 L795.5,228.2 L797.5,228.3 L799.5,228.4 L801.5,228.5 L803.5,228.7 L805.5,228.8 L807.5,228.9 L809.5,229.0 L811.5,229.1 L813.5,229.3 L815.5,229.4 L817.5,229.5 L819.5,229.7 L821.5,229.8 L823.5,230.0 L825.5,230.1 L827.5,230.3 L829.5,230.4 L831.5,230.6 L833.5,230.8 L835.5,230.9 L837.5,231.1 L839.5,231.3 L841.5,231.4 L843.5,231.6 L845.5,231.8 L847.5,232.0 L849.5,232.2 L851.5,232.4 L853.5,232.6 L855.5,232.8 L857.5,233.0 L859.5,233.3 L861.5,233.5 L863.5,233.7 L865.5,234.0 L867.5,234.2 L869.5,234.5 L871.5,234.7 L873.5,235.0 L875.5,235.3 L877.5,235.6 L879.5,235.8 L881.5,236.1 L883.5,236.4 L885.5,236.7 L887.5,237.1 L889.5,237.4 L891.5,237.7 L893.5,238.0 L895.5,238.4 L897.5,238.7 L899.5,239.1 L901.5,239.5 L903.5,239.9 L905.5,240.3 L907.5,240.7 L909.5,241.2 L911.5,241.6 L913.5,242.1 L915.5,242.6 L917.5,243.1 L919.5,243.6 L921.5,244.1 L923.5,244.6 L925.5,245.2 L927.5,245.8 L929.5,246.3 L931.5,246.9 L933.5,247.5 L935.5,248.1 L937.5,248.8 L939.5,249.4 L941.5,250.1 L943.5,250.8 L945.5,251.5 L947.5,252.2 L949.5,252.9 L951.5,253.7 L953.5,254.5 L955.5,255.3 L957.5,256.1 L959.5,257.0 L961.5,257.8 L963.5,258.7 L965.5,259.7 L967.5,260.6 L969.5,261.6 L971.5,262.6 L973.5,263.7 L975.5,264.8 L977.5,265.9 L979.5,267.1 L981.5,268.4 L983.5,269.6 L985.5,271.0 L987.5,272.3 L989.5,273.8 L991.5,275.3 L993.5,276.8 L995.5,278.4 L997.5,280.1 L999.5,281.9 L1001.5,283.8 L1003.5,285.7 L1005.5,287.7 L1007.5,289.8 L1009.5,292.0 L1011.5,294.2 L1013.5,296.5 L1015.5,298.7 L1017.5,301.0 L1019.5,303.3 L1021.5,305.6 L1023.5,307.8 L1025.5,310.1 L1027.5,312.2 L1029.5,314.4 L1031.5,316.5 L1033.5,318.6 L1035.5,320.6 L1037.5,322.6 L1039.5,324.6 L1041.5,326.6 L1043.5,328.6 L1045.5,330.6 L1047.5,332.6 L1049.5,334.6 L1051.5,336.6 L1053.5,338.6 L1055.5,340.6 L1057.5,342.6 L1059.5,344.7 L1061.5,346.7 L1063.5,348.8 L1065.5,350.9 L1067.5,353.0 L1069.5,355.1 L1071.5,357.3 L1073.5,359.4 L1075.5,361.5 L1077.5,363.6 L1079.5,365.7 L1081.5,367.8 L1083.5,369.8 L1085.5,371.9 L1087.5,373.9 L1089.5,375.9 L1091.5,377.9 L1093.5,379.9 L1095.5,381.8 L1097.5,383.8 L1099.5,385.7 L1101.5,387.6 L1103.5,389.6 L1105.5,391.4 L1107.5,393.3 L1109.5,395.1 L1111.5,397.0 L1113.5,398.8 L1115.5,400.6 L1117.5,402.3 L1119.5,404.1 L1121.5,405.8 L1123.5,407.5 L1125.5,409.2 L1127.5,410.9 L1129.5,412.5 L1131.5,414.2 L1133.5,415.8 L1135.5,417.4 L1137.5,418.9 L1139.5,420.4 L1141.5,421.9 L1143.5,423.4 L1145.5,424.8 L1147.5,426.2 L1149.5,427.5 L1151.5,428.8 L1153.5,430.1 L1155.5,431.4 L1157.5,432.6 L1159.5,433.9 L1161.5,435.1 L1163.5,436.2 L1165.5,437.4 L1167.5,438.6 L1169.5,439.7 L1171.5,440.9 L1173.5,442.0 L1175.5,443.2 L1177.5,444.3 L1179.5,445.4 L1181.5,446.6 L1183.5,447.7 L1185.5,448.7 L1187.5,449.8 L1189.5,450.8 L1191.5,451.7 L1193.5,452.6 L1195.5,453.4 L1197.5,454.1 L1199.5,454.8 L1201.5,455.5 L1203.5,456.1 L1205.5,456.6 L1207.5,457.2 L1209.5,457.7 L1211.5,458.2 L1213.5,458.6 L1215.5,459.1 L1217.5,459.5 L1219.5,460.0 L1221.5,460.4 L1223.5,460.8 L1225.5,461.3 L1227.5,461.7 L1229.5,462.1 L1231.5,462.5 L1233.5,462.9 L1235.5,463.3 L1237.5,463.8 L1239.5,464.2 L1241.5,464.6 L1243.5,464.9 L1245.5,465.3 L1247.5,465.7 L1249.5,466.1 L1251.5,466.5 L1253.5,466.9 L1255.5,467.3 L1257.5,467.7 L1259.5,468.1 L1261.5,468.5 L1263.5,468.9 L1265.5,469.3 L1267.5,469.7 L1269.5,470.1 L1271.5,470.5 L1273.5,470.9 L1275.5,471.3 L1277.5,471.7 L1279.5,472.1 L1281.5,472.5 L1283.5,472.9 L1285.5,473.3 L1287.5,473.6 L1289.5,474.0 L1291.5,474.4 L1293.5,474.8 L1295.5,475.2 L1297.5,475.6 L1299.5,475.9 L1301.5,476.3 L1303.5,476.7 L1305.5,477.1 L1307.5,477.5 L1309.5,477.9 L1311.5,478.3 L1313.5,478.8 L1315.5,479.2 L1317.5,479.6 L1319.5,480.0 L1321.5,480.4 L1323.5,480.9 L1325.5,481.3 L1327.5,481.8 L1329.5,482.2 L1331.5,482.6 L1333.5,483.1 L1335.5,483.5 L1337.5,484.0 L1339.5,484.4 L1341.5,484.9 L1343.5,485.3 L1345.5,485.7 L1347.5,486.2 L1349.5,486.6 L1351.5,487.1 L1353.5,487.5 L1355.5,488.0 L1357.5,488.5 L1359.5,488.9 L1361.5,489.4 L1363.5,489.8 L1365.5,490.3 L1367.5,490.7 L1369.5,491.2 L1371.5,491.6 L1373.5,492.1 L1375.5,492.6 L1377.5,493.0 L1379.5,493.5 L1381.5,493.9 L1383.5,494.4 L1385.5,494.8 L1387.5,495.3 L1389.5,495.7 L1391.5,496.2 L1393.5,496.6 L1395.5,497.1 L1397.5,497.5 L1399.5,498.0 L1401.5,498.4 L1403.5,498.9 L1405.5,499.3 L1407.5,499.7 L1409.5,500.2 L1411.5,500.6 L1413.5,501.0 L1415.5,501.5 L1417.5,501.9 L1419.5,502.3 L1421.5,502.8 L1423.5,503.2 L1425.5,503.6 L1427.5,504.0 L1429.5,504.4 L1431.5,504.9 L1433.5,505.3 L1435.5,505.7 L1437.5,506.1 L1439.5,506.5 L1441.5,506.9 L1443.5,507.3 L1445.5,507.7 L1447.5,508.1 L1449.5,508.5 L1451.5,508.9 L1453.5,509.3 L1455.5,509.7 L1457.5,510.1 L1459.5,510.5 L1461.5,510.9 L1463.5,511.3 L1465.5,511.7 L1467.5,512.1 L1469.5,512.5 L1471.5,512.8 L1473.5,513.2 L1475.5,513.6 L1477.5,514.0 L1479.5,514.4 L1481.5,514.8 L1483.5,515.2 L1485.5,515.6 L1487.5,516.0 L1489.5,516.4 L1491.5,516.8 L1493.5,517.2 L1495.5,517.6 L1497.5,518.0 L1499.5,518.4 L1501.5,518.8 L1503.5,519.2 L1505.5,519.6 L1507.5,520.0 L1509.5,520.4 L1511.5,520.9 L1513.5,521.3 L1515.5,521.7 L1517.5,522.1 L1519.5,522.5 L1521.5,522.9 L1523.5,523.4 L1525.5,523.8 L1527.5,524.2 L1529.5,524.7 L1531.5,525.1 L1533.5,525.5 L1535.5,526.0 L1537.5,526.4 L1539.5,526.8 L1541.5,527.3 L1543.5,527.7 L1545.5,528.2 L1547.5,528.6 L1549.5,529.1 L1551.5,529.5 L1553.5,530.0 L1555.5,530.4" stroke="#39346f" stroke-width="8.8"/>
<path d="M197.5,214.8 L199.5,214.8 L201.5,214.9 L203.5,214.9 L205.5,214.9 L207.5,215.0 L209.5,215.0 L211.5,215.0 L213.5,215.1 L215.5,215.1 L217.5,215.1 L219.5,215.2 L221.5,215.2 L223.5,215.2 L225.5,215.3 L227.5,215.3 L229.5,215.3 L231.5,215.4 L233.5,215.4 L235.5,215.5 L237.5,215.5 L239.5,215.5 L241.5,215.6 L243.5,215.6 L245.5,215.7 L247.5,215.7 L249.5,215.7 L251.5,215.8 L253.5,215.8 L255.5,215.9 L257.5,215.9 L259.5,216.0 L261.5,216.0 L263.5,216.0 L265.5,216.1 L267.5,216.1 L269.5,216.2 L271.5,216.2 L273.5,216.3 L275.5,216.3 L277.5,216.4 L279.5,216.4 L281.5,216.4 L283.5,216.5 L285.5,216.5 L287.5,216.6 L289.5,216.6 L291.5,216.7 L293.5,216.8 L295.5,216.8 L297.5,216.9 L299.5,216.9 L301.5,217.0 L303.5,217.0 L305.5,217.1 L307.5,217.1 L309.5,217.2 L311.5,217.2 L313.5,217.3 L315.5,217.4 L317.5,217.4 L319.5,217.5 L321.5,217.5 L323.5,217.6 L325.5,217.6 L327.5,217.7 L329.5,217.7 L331.5,217.8 L333.5,217.9 L335.5,217.9 L337.5,218.0 L339.5,218.0 L341.5,218.1 L343.5,218.1 L345.5,218.2 L347.5,218.2 L349.5,218.3 L351.5,218.3 L353.5,218.4 L355.5,218.5 L357.5,218.5 L359.5,218.6 L361.5,218.6 L363.5,218.7 L365.5,218.7 L367.5,218.8 L369.5,218.8 L371.5,218.9 L373.5,218.9 L375.5,219.0 L377.5,219.0 L379.5,219.1 L381.5,219.1 L383.5,219.2 L385.5,219.2 L387.5,219.2 L389.5,219.3 L391.5,219.3 L393.5,219.3 L395.5,219.4 L397.5,219.4 L399.5,219.4 L401.5,219.5 L403.5,219.5 L405.5,219.5 L407.5,219.5 L409.5,219.5 L411.5,219.6 L413.5,219.6 L415.5,219.6 L417.5,219.6 L419.5,219.6 L421.5,219.6 L423.5,219.7 L425.5,219.7 L427.5,219.7 L429.5,219.7 L431.5,219.7 L433.5,219.7 L435.5,219.8 L437.5,219.8 L439.5,219.8 L441.5,219.8 L443.5,219.8 L445.5,219.8 L447.5,219.8 L449.5,219.9 L451.5,219.9 L453.5,219.9 L455.5,219.9 L457.5,219.9 L459.5,219.9 L461.5,220.0 L463.5,220.0 L465.5,220.0 L467.5,220.0 L469.5,220.0 L471.5,220.1 L473.5,220.1 L475.5,220.1 L477.5,220.1 L479.5,220.1 L481.5,220.2 L483.5,220.2 L485.5,220.2 L487.5,220.2 L489.5,220.3 L491.5,220.3 L493.5,220.3 L495.5,220.3 L497.5,220.4 L499.5,220.4 L501.5,220.4 L503.5,220.4 L505.5,220.5 L507.5,220.5 L509.5,220.5 L511.5,220.5 L513.5,220.6 L515.5,220.6 L517.5,220.6 L519.5,220.7 L521.5,220.7 L523.5,220.7 L525.5,220.7 L527.5,220.8 L529.5,220.8 L531.5,220.8 L533.5,220.9 L535.5,220.9 L537.5,220.9 L539.5,221.0 L541.5,221.0 L543.5,221.0 L545.5,221.1 L547.5,221.1 L549.5,221.1 L551.5,221.2 L553.5,221.2 L555.5,221.2 L557.5,221.3 L559.5,221.3 L561.5,221.4 L563.5,221.4 L565.5,221.4 L567.5,221.5 L569.5,221.5 L571.5,221.5 L573.5,221.6 L575.5,221.6 L577.5,221.7 L579.5,221.7 L581.5,221.7 L583.5,221.8 L585.5,221.8 L587.5,221.8 L589.5,221.9 L591.5,221.9 L593.5,221.9 L595.5,222.0 L597.5,222.0 L599.5,222.0 L601.5,222.1 L603.5,222.1 L605.5,222.1 L607.5,222.1 L609.5,222.2 L611.5,222.2 L613.5,222.2 L615.5,222.3 L617.5,222.3 L619.5,222.3 L621.5,222.3 L623.5,222.4 L625.5,222.4 L627.5,222.4 L629.5,222.4 L631.5,222.5 L633.5,222.5 L635.5,222.5 L637.5,222.5 L639.5,222.6 L641.5,222.6 L643.5,222.6 L645.5,222.6 L647.5,222.7 L649.5,222.7 L651.5,222.7 L653.5,222.8 L655.5,222.8 L657.5,222.8 L659.5,222.9 L661.5,222.9 L663.5,222.9 L665.5,223.0 L667.5,223.0 L669.5,223.1 L671.5,223.1 L673.5,223.2 L675.5,223.2 L677.5,223.3 L679.5,223.3 L681.5,223.4 L683.5,223.5 L685.5,223.5 L687.5,223.6 L689.5,223.7 L691.5,223.8 L693.5,223.8 L695.5,223.9 L697.5,224.0 L699.5,224.1 L701.5,224.2 L703.5,224.3 L705.5,224.3 L707.5,224.4 L709.5,224.5 L711.5,224.6 L713.5,224.7 L715.5,224.8 L717.5,224.9 L719.5,225.0 L721.5,225.1 L723.5,225.1 L725.5,225.2 L727.5,225.3 L729.5,225.4 L731.5,225.5 L733.5,225.6 L735.5,225.7 L737.5,225.7 L739.5,225.8 L741.5,225.9 L743.5,226.0 L745.5,226.1 L747.5,226.1 L749.5,226.2 L751.5,226.3 L753.5,226.4 L755.5,226.5 L757.5,226.5 L759.5,226.6 L761.5,226.7 L763.5,226.8 L765.5,226.8 L767.5,226.9 L769.5,227.0 L771.5,227.1 L773.5,227.2 L775.5,227.3 L777.5,227.3 L779.5,227.4 L781.5,227.5 L783.5,227.6 L785.5,227.7 L787.5,227.8 L789.5,227.9 L791.5,228.0 L793.5,228.1 L795.5,228.2 L797.5,228.3 L799.5,228.4 L801.5,228.5 L803.5,228.7 L805.5,228.8 L807.5,228.9 L809.5,229.0 L811.5,229.1 L813.5,229.3 L815.5,229.4 L817.5,229.5 L819.5,229.7 L821.5,229.8 L823.5,230.0 L825.5,230.1 L827.5,230.3 L829.5,230.4 L831.5,230.6 L833.5,230.8 L835.5,230.9 L837.5,231.1 L839.5,231.3 L841.5,231.4 L843.5,231.6 L845.5,231.8 L847.5,232.0 L849.5,232.2 L851.5,232.4 L853.5,232.6 L855.5,232.8 L857.5,233.0 L859.5,233.3 L861.5,233.5 L863.5,233.7 L865.5,234.0 L867.5,234.2 L869.5,234.5 L871.5,234.7 L873.5,235.0 L875.5,235.3 L877.5,235.6 L879.5,235.8 L881.5,236.1 L883.5,236.4 L885.5,236.7 L887.5,237.1 L889.5,237.4 L891.5,237.7 L893.5,238.0 L895.5,238.4 L897.5,238.7 L899.5,239.1 L901.5,239.5 L903.5,239.9 L905.5,240.3 L907.5,240.7 L909.5,241.2 L911.5,241.6 L913.5,242.1 L915.5,242.6 L917.5,243.1 L919.5,243.6 L921.5,244.1 L923.5,244.6 L925.5,245.2 L927.5,245.8 L929.5,246.3 L931.5,246.9 L933.5,247.5 L935.5,248.1 L937.5,248.8 L939.5,249.4 L941.5,250.1 L943.5,250.8 L945.5,251.5 L947.5,252.2 L949.5,252.9 L951.5,253.7 L953.5,254.5 L955.5,255.3 L957.5,256.1 L959.5,257.0 L961.5,257.8 L963.5,258.7 L965.5,259.7 L967.5,260.6 L969.5,261.6 L971.5,262.6 L973.5,263.7 L975.5,264.8 L977.5,265.9 L979.5,267.1 L981.5,268.4 L983.5,269.6 L985.5,271.0 L987.5,272.3 L989.5,273.8 L991.5,275.3 L993.5,276.8 L995.5,278.4 L997.5,280.1 L999.5,281.9 L1001.5,283.8 L1003.5,285.7 L1005.5,287.7 L1007.5,289.8 L1009.5,292.0 L1011.5,294.2 L1013.5,296.5 L1015.5,298.7 L1017.5,301.0 L1019.5,303.3 L1021.5,305.6 L1023.5,307.8 L1025.5,310.1 L1027.5,312.2 L1029.5,314.4 L1031.5,316.5 L1033.5,318.6 L1035.5,320.6 L1037.5,322.6 L1039.5,324.6 L1041.5,326.6 L1043.5,328.6 L1045.5,330.6 L1047.5,332.6 L1049.5,334.6 L1051.5,336.6 L1053.5,338.6 L1055.5,340.6 L1057.5,342.6 L1059.5,344.7 L1061.5,346.7 L1063.5,348.8 L1065.5,350.9 L1067.5,353.0 L1069.5,355.1 L1071.5,357.3 L1073.5,359.4 L1075.5,361.5 L1077.5,363.6 L1079.5,365.7 L1081.5,367.8 L1083.5,369.8 L1085.5,371.9 L1087.5,373.9 L1089.5,375.9 L1091.5,377.9 L1093.5,379.9 L1095.5,381.8 L1097.5,383.8 L1099.5,385.7 L1101.5,387.6 L1103.5,389.6 L1105.5,391.4 L1107.5,393.3 L1109.5,395.1 L1111.5,397.0 L1113.5,398.8 L1115.5,400.6 L1117.5,402.3 L1119.5,404.1 L1121.5,405.8 L1123.5,407.5 L1125.5,409.2 L1127.5,410.9 L1129.5,412.5 L1131.5,414.2 L1133.5,415.8 L1135.5,417.4 L1137.5,418.9 L1139.5,420.4 L1141.5,421.9 L1143.5,423.4 L1145.5,424.8 L1147.5,426.2 L1149.5,427.5 L1151.5,428.8 L1153.5,430.1 L1155.5,431.4 L1157.5,432.6 L1159.5,433.9 L1161.5,435.1 L1163.5,436.2 L1165.5,437.4 L1167.5,438.6 L1169.5,439.7 L1171.5,440.9 L1173.5,442.0 L1175.5,443.2 L1177.5,444.3 L1179.5,445.4 L1181.5,446.6 L1183.5,447.7 L1185.5,448.7 L1187.5,449.8 L1189.5,450.8 L1191.5,451.7 L1193.5,452.6 L1195.5,453.4 L1197.5,454.1 L1199.5,454.8 L1201.5,455.5 L1203.5,456.1 L1205.5,456.6 L1207.5,457.2 L1209.5,457.7 L1211.5,458.2 L1213.5,458.6 L1215.5,459.1 L1217.5,459.5 L1219.5,460.0 L1221.5,460.4 L1223.5,460.8 L1225.5,461.3 L1227.5,461.7 L1229.5,462.1 L1231.5,462.5 L1233.5,462.9 L1235.5,463.3 L1237.5,463.8 L1239.5,464.2 L1241.5,464.6 L1243.5,464.9 L1245.5,465.3 L1247.5,465.7 L1249.5,466.1 L1251.5,466.5 L1253.5,466.9 L1255.5,467.3 L1257.5,467.7 L1259.5,468.1 L1261.5,468.5 L1263.5,468.9 L1265.5,469.3 L1267.5,469.7 L1269.5,470.1 L1271.5,470.5 L1273.5,470.9 L1275.5,471.3 L1277.5,471.7 L1279.5,472.1 L1281.5,472.5 L1283.5,472.9 L1285.5,473.3 L1287.5,473.6 L1289.5,474.0 L1291.5,474.4 L1293.5,474.8 L1295.5,475.2 L1297.5,475.6 L1299.5,475.9 L1301.5,476.3 L1303.5,476.7 L1305.5,477.1 L1307.5,477.5 L1309.5,477.9 L1311.5,478.3 L1313.5,478.8 L1315.5,479.2 L1317.5,479.6 L1319.5,480.0 L1321.5,480.4 L1323.5,480.9 L1325.5,481.3 L1327.5,481.8 L1329.5,482.2 L1331.5,482.6 L1333.5,483.1 L1335.5,483.5 L1337.5,484.0 L1339.5,484.4 L1341.5,484.9 L1343.5,485.3 L1345.5,485.7 L1347.5,486.2 L1349.5,486.6 L1351.5,487.1 L1353.5,487.5 L1355.5,488.0 L1357.5,488.5 L1359.5,488.9 L1361.5,489.4 L1363.5,489.8 L1365.5,490.3 L1367.5,490.7 L1369.5,491.2 L1371.5,491.6 L1373.5,492.1 L1375.5,492.6 L1377.5,493.0 L1379.5,493.5 L1381.5,493.9 L1383.5,494.4 L1385.5,494.8 L1387.5,495.3 L1389.5,495.7 L1391.5,496.2 L1393.5,496.6 L1395.5,497.1 L1397.5,497.5 L1399.5,498.0 L1401.5,498.4 L1403.5,498.9 L1405.5,499.3 L1407.5,499.7 L1409.5,500.2 L1411.5,500.6 L1413.5,501.0 L1415.5,501.5 L1417.5,501.9 L1419.5,502.3 L1421.5,502.8 L1423.5,503.2 L1425.5,503.6 L1427.5,504.0 L1429.5,504.4 L1431.5,504.9 L1433.5,505.3 L1435.5,505.7 L1437.5,506.1 L1439.5,506.5 L1441.5,506.9 L1443.5,507.3 L1445.5,507.7 L1447.5,508.1 L1449.5,508.5 L1451.5,508.9 L1453.5,509.3 L1455.5,509.7 L1457.5,510.1 L1459.5,510.5 L1461.5,510.9 L1463.5,511.3 L1465.5,511.7 L1467.5,512.1 L1469.5,512.5 L1471.5,512.8 L1473.5,513.2 L1475.5,513.6 L1477.5,514.0 L1479.5,514.4 L1481.5,514.8 L1483.5,515.2 L1485.5,515.6 L1487.5,516.0 L1489.5,516.4 L1491.5,516.8 L1493.5,517.2 L1495.5,517.6 L1497.5,518.0 L1499.5,518.4 L1501.5,518.8 L1503.5,519.2 L1505.5,519.6 L1507.5,520.0 L1509.5,520.4 L1511.5,520.9 L1513.5,521.3 L1515.5,521.7 L1517.5,522.1 L1519.5,522.5 L1521.5,522.9 L1523.5,523.4 L1525.5,523.8 L1527.5,524.2 L1529.5,524.7 L1531.5,525.1 L1533.5,525.5 L1535.5,526.0 L1537.5,526.4 L1539.5,526.8 L1541.5,527.3 L1543.5,527.7 L1545.5,528.2 L1547.5,528.6 L1549.5,529.1 L1551.5,529.5 L1553.5,530.0 L1555.5,530.4" stroke="#5d4fc2" stroke-width="4.4"/>
<polygon points="197.5,198.3 211.5,214.8 197.5,231.3 183.5,214.8" fill="#5648b0"/>
<polygon points="397.2,202.9 411.2,219.4 397.2,235.9 383.2,219.4" fill="#5648b0"/>
<polygon points="596.9,205.5 610.9,222.0 596.9,238.5 582.9,222.0" fill="#5648b0"/>
<polygon points="796.6,211.8 810.6,228.3 796.6,244.8 782.6,228.3" fill="#5648b0"/>
<polygon points="996.3,262.6 1010.3,279.1 996.3,295.6 982.3,279.1" fill="#5648b0"/>
<polygon points="1196.0,437.1 1210.0,453.6 1196.0,470.1 1182.0,453.6" fill="#5648b0"/>
<polygon points="1395.7,480.6 1409.7,497.1 1395.7,513.6 1381.7,497.1" fill="#5648b0"/>
</g>
<rect x="197.5" y="31.3" width="1358.0" height="1091.9" fill="none" stroke="#1c1c1c" stroke-width="3" stroke-linejoin="round"/>
<text x="277.4" y="1202.8" text-anchor="middle" font-size="56">100</text>
<text x="437.1" y="1202.8" text-anchor="middle" font-size="56">200</text>
<text x="596.9" y="1202.8" text-anchor="middle" font-size="56">300</text>
<text x="756.7" y="1202.8" text-anchor="middle" font-size="56">400</text>
<text x="916.4" y="1202.8" text-anchor="middle" font-size="56">500</text>
<text x="1076.2" y="1202.8" text-anchor="middle" font-size="56">600</text>
<text x="1236.0" y="1202.8" text-anchor="middle" font-size="56">700</text>
<text x="1395.7" y="1202.8" text-anchor="middle" font-size="56">800</text>
<text x="1555.5" y="1202.8" text-anchor="middle" font-size="56">900</text>
<text x="153.7" y="1137.8" text-anchor="end" font-size="56">50</text>
<text x="153.7" y="955.8" text-anchor="end" font-size="56">60</text>
<text x="153.7" y="773.8" text-anchor="end" font-size="56">70</text>
<text x="153.7" y="591.9" text-anchor="end" font-size="56">80</text>
<text x="153.7" y="409.9" text-anchor="end" font-size="56">90</text>
<text x="153.7" y="227.9" text-anchor="end" font-size="56">100</text>
<text x="153.7" y="45.9" text-anchor="end" font-size="56">110</text>
<text x="702.0" y="1289.0" text-anchor="start" font-size="54.8" textLength="294.9" lengthAdjust="spacing">Temperature/</text>
<circle cx="1007.0" cy="1254.3" r="4.0" fill="none" stroke="#1c1c1c" stroke-width="1.9"/>
<text x="1011.8" y="1289.3" text-anchor="start" font-size="57" textLength="33.8" lengthAdjust="spacingAndGlyphs" fill="#2b2b2b">C</text>
<text transform="translate(46.7,579.8) rotate(-90)" text-anchor="middle" font-size="56">Mass residual/wt<tspan font-style="italic">%</tspan></text>
<path d="M296.0,439.6 h144.4" stroke="#d3141f" stroke-width="9.0" fill="none"/>
<path d="M296.0,439.6 h144.4" stroke="#ff2c3f" stroke-width="4.6" fill="none"/>
<rect x="356.2" y="427.6" width="24" height="24" fill="#f01030"/>
<text x="458.1" y="454.2" text-anchor="start" font-size="57" textLength="55.6" lengthAdjust="spacingAndGlyphs">PI</text>
<path d="M296.0,529.8 h144.4" stroke="#cdea12" stroke-width="9.0" fill="none"/>
<path d="M296.0,529.8 h144.4" stroke="#dcfa00" stroke-width="4.6" fill="none"/>
<circle cx="368.2" cy="529.8" r="12" fill="#ebe31e"/>
<text x="462.5" y="544.1" text-anchor="start" font-size="55.3">10DNCB/PI</text>
<path d="M296.0,620.0 h144.4" stroke="#60b04c" stroke-width="9.0" fill="none"/>
<path d="M296.0,620.0 h144.4" stroke="#52c63e" stroke-width="4.6" fill="none"/>
<polygon points="368.2,602.0 383.2,629.0 353.2,629.0" fill="#5cb833"/>
<text x="462.5" y="634.3" text-anchor="start" font-size="55.3">20DNCB/PI</text>
<path d="M296.0,710.2 h144.4" stroke="#33307c" stroke-width="9.0" fill="none"/>
<path d="M296.0,710.2 h144.4" stroke="#4b3cc2" stroke-width="4.6" fill="none"/>
<polygon points="353.2,701.2 383.2,701.2 368.2,728.2" fill="#3856a8"/>
<text x="462.5" y="724.5" text-anchor="start" font-size="55.3">30DNCB/PI</text>
<path d="M296.0,800.4 h144.4" stroke="#39346f" stroke-width="9.0" fill="none"/>
<path d="M296.0,800.4 h144.4" stroke="#5d4fc2" stroke-width="4.6" fill="none"/>
<polygon points="368.2,783.9 382.2,800.4 368.2,816.9 354.2,800.4" fill="#5648b0"/>
<text x="462.5" y="814.7" text-anchor="start" font-size="55.3">40DNCB/PI</text>
<clipPath id="cb"><rect x="1909.6" y="31.3" width="1358.9" height="1091.9"/></clipPath>
<path d="M1989.5,1123.2 v-19.5 M2149.4,1123.2 v-19.5 M2309.3,1123.2 v-19.5 M2469.1,1123.2 v-19.5 M2629.0,1123.2 v-19.5 M2788.9,1123.2 v-19.5 M2948.8,1123.2 v-19.5 M3108.6,1123.2 v-19.5 M1909.6,941.2 h19.5 M1909.6,759.2 h19.5 M1909.6,577.2 h19.5 M1909.6,395.3 h19.5 M1909.6,213.3 h19.5" stroke="#1c1c1c" stroke-width="2.8" stroke-linecap="round" fill="none"/>
<g clip-path="url(#cb)" fill="none" stroke-linejoin="round">
<path d="M1909.6,204.5 L1911.6,204.5 L1913.6,204.5 L1915.6,204.5 L1917.6,204.5 L1919.6,204.6 L1921.6,204.6 L1923.6,204.6 L1925.6,204.6 L1927.6,204.6 L1929.6,204.6 L1931.6,204.6 L1933.6,204.6 L1935.6,204.6 L1937.6,204.7 L1939.6,204.7 L1941.6,204.7 L1943.6,204.7 L1945.6,204.7 L1947.6,204.7 L1949.6,204.7 L1951.6,204.7 L1953.6,204.8 L1955.6,204.8 L1957.6,204.8 L1959.6,204.8 L1961.6,204.8 L1963.6,204.8 L1965.6,204.8 L1967.6,204.8 L1969.6,204.9 L1971.6,204.9 L1973.6,204.9 L1975.6,204.9 L1977.6,204.9 L1979.6,204.9 L1981.6,204.9 L1983.6,205.0 L1985.7,205.0 L1987.7,205.0 L1989.7,205.0 L1991.7,205.0 L1993.7,205.0 L1995.7,205.0 L1997.7,205.1 L1999.7,205.1 L2001.7,205.1 L2003.7,205.1 L2005.7,205.1 L2007.7,205.1 L2009.7,205.1 L2011.7,205.2 L2013.7,205.2 L2015.7,205.2 L2017.7,205.2 L2019.7,205.2 L2021.7,205.2 L2023.7,205.3 L2025.7,205.3 L2027.7,205.3 L2029.7,205.3 L2031.7,205.3 L2033.7,205.3 L2035.7,205.4 L2037.7,205.4 L2039.7,205.4 L2041.7,205.4 L2043.7,205.4 L2045.7,205.4 L2047.7,205.5 L2049.7,205.5 L2051.7,205.5 L2053.7,205.5 L2055.7,205.5 L2057.7,205.5 L2059.7,205.6 L2061.7,205.6 L2063.7,205.6 L2065.7,205.6 L2067.7,205.6 L2069.7,205.6 L2071.7,205.7 L2073.7,205.7 L2075.7,205.7 L2077.7,205.7 L2079.7,205.7 L2081.7,205.7 L2083.7,205.8 L2085.7,205.8 L2087.7,205.8 L2089.7,205.8 L2091.7,205.8 L2093.7,205.9 L2095.7,205.9 L2097.7,205.9 L2099.7,205.9 L2101.7,205.9 L2103.7,206.0 L2105.7,206.0 L2107.7,206.0 L2109.7,206.0 L2111.7,206.0 L2113.7,206.0 L2115.7,206.1 L2117.7,206.1 L2119.7,206.1 L2121.7,206.1 L2123.7,206.1 L2125.7,206.2 L2127.7,206.2 L2129.7,206.2 L2131.7,206.2 L2133.7,206.2 L2135.7,206.3 L2137.8,206.3 L2139.8,206.3 L2141.8,206.3 L2143.8,206.3 L2145.8,206.3 L2147.8,206.4 L2149.8,206.4 L2151.8,206.4 L2153.8,206.4 L2155.8,206.4 L2157.8,206.5 L2159.8,206.5 L2161.8,206.5 L2163.8,206.5 L2165.8,206.5 L2167.8,206.6 L2169.8,206.6 L2171.8,206.6 L2173.8,206.6 L2175.8,206.6 L2177.8,206.7 L2179.8,206.7 L2181.8,206.7 L2183.8,206.7 L2185.8,206.7 L2187.8,206.8 L2189.8,206.8 L2191.8,206.8 L2193.8,206.8 L2195.8,206.9 L2197.8,206.9 L2199.8,206.9 L2201.8,206.9 L2203.8,206.9 L2205.8,207.0 L2207.8,207.0 L2209.8,207.0 L2211.8,207.0 L2213.8,207.1 L2215.8,207.1 L2217.8,207.1 L2219.8,207.1 L2221.8,207.2 L2223.8,207.2 L2225.8,207.2 L2227.8,207.2 L2229.8,207.3 L2231.8,207.3 L2233.8,207.3 L2235.8,207.3 L2237.8,207.4 L2239.8,207.4 L2241.8,207.4 L2243.8,207.4 L2245.8,207.5 L2247.8,207.5 L2249.8,207.5 L2251.8,207.6 L2253.8,207.6 L2255.8,207.6 L2257.8,207.6 L2259.8,207.7 L2261.8,207.7 L2263.8,207.7 L2265.8,207.8 L2267.8,207.8 L2269.8,207.8 L2271.8,207.9 L2273.8,207.9 L2275.8,207.9 L2277.8,208.0 L2279.8,208.0 L2281.8,208.0 L2283.8,208.1 L2285.8,208.1 L2287.9,208.1 L2289.9,208.2 L2291.9,208.2 L2293.9,208.2 L2295.9,208.3 L2297.9,208.3 L2299.9,208.3 L2301.9,208.4 L2303.9,208.4 L2305.9,208.5 L2307.9,208.5 L2309.9,208.6 L2311.9,208.6 L2313.9,208.7 L2315.9,208.7 L2317.9,208.8 L2319.9,208.8 L2321.9,208.9 L2323.9,208.9 L2325.9,209.0 L2327.9,209.1 L2329.9,209.1 L2331.9,209.2 L2333.9,209.3 L2335.9,209.4 L2337.9,209.5 L2339.9,209.5 L2341.9,209.6 L2343.9,209.7 L2345.9,209.8 L2347.9,209.9 L2349.9,210.0 L2351.9,210.0 L2353.9,210.1 L2355.9,210.2 L2357.9,210.3 L2359.9,210.4 L2361.9,210.5 L2363.9,210.6 L2365.9,210.6 L2367.9,210.7 L2369.9,210.8 L2371.9,210.9 L2373.9,211.0 L2375.9,211.1 L2377.9,211.1 L2379.9,211.2 L2381.9,211.3 L2383.9,211.4 L2385.9,211.4 L2387.9,211.5 L2389.9,211.6 L2391.9,211.6 L2393.9,211.7 L2395.9,211.8 L2397.9,211.8 L2399.9,211.9 L2401.9,211.9 L2403.9,212.0 L2405.9,212.0 L2407.9,212.0 L2409.9,212.1 L2411.9,212.1 L2413.9,212.2 L2415.9,212.2 L2417.9,212.2 L2419.9,212.3 L2421.9,212.3 L2423.9,212.3 L2425.9,212.4 L2427.9,212.4 L2429.9,212.4 L2431.9,212.4 L2433.9,212.5 L2435.9,212.5 L2437.9,212.5 L2440.0,212.5 L2442.0,212.6 L2444.0,212.6 L2446.0,212.6 L2448.0,212.6 L2450.0,212.7 L2452.0,212.7 L2454.0,212.7 L2456.0,212.7 L2458.0,212.7 L2460.0,212.8 L2462.0,212.8 L2464.0,212.8 L2466.0,212.8 L2468.0,212.9 L2470.0,212.9 L2472.0,212.9 L2474.0,212.9 L2476.0,213.0 L2478.0,213.0 L2480.0,213.0 L2482.0,213.0 L2484.0,213.1 L2486.0,213.1 L2488.0,213.1 L2490.0,213.2 L2492.0,213.2 L2494.0,213.2 L2496.0,213.3 L2498.0,213.3 L2500.0,213.3 L2502.0,213.4 L2504.0,213.4 L2506.0,213.5 L2508.0,213.5 L2510.0,213.5 L2512.0,213.6 L2514.0,213.7 L2516.0,213.7 L2518.0,213.8 L2520.0,213.8 L2522.0,213.9 L2524.0,214.0 L2526.0,214.0 L2528.0,214.1 L2530.0,214.2 L2532.0,214.3 L2534.0,214.3 L2536.0,214.4 L2538.0,214.5 L2540.0,214.6 L2542.0,214.7 L2544.0,214.8 L2546.0,214.8 L2548.0,214.9 L2550.0,215.0 L2552.0,215.1 L2554.0,215.2 L2556.0,215.3 L2558.0,215.4 L2560.0,215.5 L2562.0,215.6 L2564.0,215.7 L2566.0,215.8 L2568.0,215.9 L2570.0,216.0 L2572.0,216.2 L2574.0,216.3 L2576.0,216.4 L2578.0,216.5 L2580.0,216.7 L2582.0,216.8 L2584.0,216.9 L2586.0,217.1 L2588.0,217.2 L2590.1,217.4 L2592.1,217.5 L2594.1,217.7 L2596.1,217.9 L2598.1,218.0 L2600.1,218.2 L2602.1,218.4 L2604.1,218.6 L2606.1,218.8 L2608.1,219.0 L2610.1,219.2 L2612.1,219.5 L2614.1,219.7 L2616.1,220.0 L2618.1,220.3 L2620.1,220.6 L2622.1,220.9 L2624.1,221.3 L2626.1,221.7 L2628.1,222.1 L2630.1,222.5 L2632.1,223.0 L2634.1,223.4 L2636.1,223.9 L2638.1,224.4 L2640.1,224.9 L2642.1,225.5 L2644.1,226.0 L2646.1,226.5 L2648.1,227.1 L2650.1,227.6 L2652.1,228.2 L2654.1,228.8 L2656.1,229.3 L2658.1,229.9 L2660.1,230.5 L2662.1,231.1 L2664.1,231.7 L2666.1,232.3 L2668.1,232.9 L2670.1,233.5 L2672.1,234.1 L2674.1,234.7 L2676.1,235.3 L2678.1,236.0 L2680.1,236.6 L2682.1,237.3 L2684.1,238.0 L2686.1,238.8 L2688.1,239.7 L2690.1,240.7 L2692.1,241.7 L2694.1,242.8 L2696.1,244.1 L2698.1,245.4 L2700.1,246.9 L2702.1,248.5 L2704.1,250.1 L2706.1,251.9 L2708.1,253.7 L2710.1,255.6 L2712.1,257.6 L2714.1,259.7 L2716.1,261.9 L2718.1,264.1 L2720.1,266.4 L2722.1,268.8 L2724.1,271.2 L2726.1,273.7 L2728.1,276.3 L2730.1,278.9 L2732.1,281.6 L2734.1,284.4 L2736.1,287.2 L2738.1,290.1 L2740.2,293.1 L2742.2,296.2 L2744.2,299.4 L2746.2,302.8 L2748.2,306.3 L2750.2,309.9 L2752.2,313.8 L2754.2,317.9 L2756.2,322.3 L2758.2,327.0 L2760.2,332.0 L2762.2,337.4 L2764.2,343.3 L2766.2,349.6 L2768.2,356.4 L2770.2,363.6 L2772.2,371.3 L2774.2,379.4 L2776.2,387.8 L2778.2,396.5 L2780.2,405.4 L2782.2,414.5 L2784.2,423.6 L2786.2,432.7 L2788.2,441.7 L2790.2,450.7 L2792.2,459.6 L2794.2,468.5 L2796.2,477.4 L2798.2,486.4 L2800.2,495.5 L2802.2,504.8 L2804.2,514.3 L2806.2,524.0 L2808.2,534.0 L2810.2,544.2 L2812.2,554.6 L2814.2,565.2 L2816.2,576.0 L2818.2,586.9 L2820.2,598.2 L2822.2,609.7 L2824.2,621.5 L2826.2,633.7 L2828.2,646.4 L2830.2,659.4 L2832.2,672.8 L2834.2,686.6 L2836.2,700.6 L2838.2,714.8 L2840.2,729.2 L2842.2,743.6 L2844.2,758.0 L2846.2,772.5 L2848.2,787.0 L2850.2,801.6 L2852.2,816.3 L2854.2,831.0 L2856.2,845.8 L2858.2,860.7 L2860.2,875.6 L2862.2,890.3 L2864.2,904.8 L2866.2,919.0 L2868.2,932.6 L2870.2,945.6 L2872.2,957.7 L2874.2,968.8 L2876.2,978.9 L2878.2,988.0 L2880.2,996.0 L2882.2,1003.1 L2884.2,1009.4 L2886.2,1014.9 L2888.2,1019.8 L2890.2,1024.0 L2892.3,1027.8 L2894.3,1031.2 L2896.3,1034.2 L2898.3,1036.8 L2900.3,1039.1 L2902.3,1041.2 L2904.3,1043.0 L2906.3,1044.6 L2908.3,1046.0 L2910.3,1047.2 L2912.3,1048.2 L2914.3,1049.1 L2916.3,1049.9 L2918.3,1050.6 L2920.3,1051.3 L2922.3,1051.9 L2924.3,1052.5 L2926.3,1053.1 L2928.3,1053.6 L2930.3,1054.2 L2932.3,1054.7 L2934.3,1055.2 L2936.3,1055.8 L2938.3,1056.3 L2940.3,1056.8 L2942.3,1057.4 L2944.3,1057.9 L2946.3,1058.4 L2948.3,1058.9 L2950.3,1059.4 L2952.3,1059.9 L2954.3,1060.4 L2956.3,1060.8 L2958.3,1061.3 L2960.3,1061.7 L2962.3,1062.1 L2964.3,1062.5 L2966.3,1062.9 L2968.3,1063.3 L2970.3,1063.7 L2972.3,1064.1 L2974.3,1064.5 L2976.3,1064.8 L2978.3,1065.2 L2980.3,1065.6 L2982.3,1065.9 L2984.3,1066.3 L2986.3,1066.6 L2988.3,1066.9 L2990.3,1067.2 L2992.3,1067.5 L2994.3,1067.8 L2996.3,1068.0 L2998.3,1068.3 L3000.3,1068.5 L3002.3,1068.7 L3004.3,1068.9 L3006.3,1069.1 L3008.3,1069.3 L3010.3,1069.5 L3012.3,1069.6 L3014.3,1069.7 L3016.3,1069.9 L3018.3,1070.0 L3020.3,1070.1 L3022.3,1070.2 L3024.3,1070.3 L3026.3,1070.4 L3028.3,1070.5 L3030.3,1070.6 L3032.3,1070.7 L3034.3,1070.8 L3036.3,1070.8 L3038.3,1070.9 L3040.3,1071.0 L3042.4,1071.1 L3044.4,1071.1 L3046.4,1071.2 L3048.4,1071.3 L3050.4,1071.4 L3052.4,1071.4 L3054.4,1071.5 L3056.4,1071.6 L3058.4,1071.6 L3060.4,1071.7 L3062.4,1071.8 L3064.4,1071.8 L3066.4,1071.9 L3068.4,1072.0 L3070.4,1072.1 L3072.4,1072.1 L3074.4,1072.2 L3076.4,1072.2 L3078.4,1072.3 L3080.4,1072.4 L3082.4,1072.4 L3084.4,1072.5 L3086.4,1072.5 L3088.4,1072.6 L3090.4,1072.7 L3092.4,1072.7 L3094.4,1072.7 L3096.4,1072.8 L3098.4,1072.8 L3100.4,1072.9 L3102.4,1072.9 L3104.4,1072.9 L3106.4,1073.0 L3108.4,1073.0 L3110.4,1073.0 L3112.4,1073.0 L3114.4,1073.1 L3116.4,1073.1 L3118.4,1073.1 L3120.4,1073.1 L3122.4,1073.1 L3124.4,1073.2 L3126.4,1073.2 L3128.4,1073.2 L3130.4,1073.2 L3132.4,1073.2 L3134.4,1073.2 L3136.4,1073.2 L3138.4,1073.3 L3140.4,1073.3 L3142.4,1073.3 L3144.4,1073.3 L3146.4,1073.3 L3148.4,1073.3 L3150.4,1073.3 L3152.4,1073.3 L3154.4,1073.3 L3156.4,1073.4 L3158.4,1073.4 L3160.4,1073.4 L3162.4,1073.4 L3164.4,1073.4 L3166.4,1073.4 L3168.4,1073.4 L3170.4,1073.5 L3172.4,1073.5 L3174.4,1073.5 L3176.4,1073.5 L3178.4,1073.5 L3180.4,1073.5 L3182.4,1073.6 L3184.4,1073.6 L3186.4,1073.6 L3188.4,1073.6 L3190.4,1073.6 L3192.4,1073.6 L3194.5,1073.7 L3196.5,1073.7 L3198.5,1073.7 L3200.5,1073.7 L3202.5,1073.7 L3204.5,1073.8 L3206.5,1073.8 L3208.5,1073.8 L3210.5,1073.8 L3212.5,1073.8 L3214.5,1073.9 L3216.5,1073.9 L3218.5,1073.9 L3220.5,1073.9 L3222.5,1074.0 L3224.5,1074.0 L3226.5,1074.0 L3228.5,1074.0 L3230.5,1074.0 L3232.5,1074.1 L3234.5,1074.1 L3236.5,1074.1 L3238.5,1074.1 L3240.5,1074.2 L3242.5,1074.2 L3244.5,1074.2 L3246.5,1074.2 L3248.5,1074.3 L3250.5,1074.3 L3252.5,1074.3 L3254.5,1074.3 L3256.5,1074.3 L3258.5,1074.4 L3260.5,1074.4 L3262.5,1074.4 L3264.5,1074.4 L3266.5,1074.5 L3268.5,1074.5" stroke="#d3141f" stroke-width="7.8"/>
<path d="M1909.6,204.5 L1911.6,204.5 L1913.6,204.5 L1915.6,204.5 L1917.6,204.5 L1919.6,204.6 L1921.6,204.6 L1923.6,204.6 L1925.6,204.6 L1927.6,204.6 L1929.6,204.6 L1931.6,204.6 L1933.6,204.6 L1935.6,204.6 L1937.6,204.7 L1939.6,204.7 L1941.6,204.7 L1943.6,204.7 L1945.6,204.7 L1947.6,204.7 L1949.6,204.7 L1951.6,204.7 L1953.6,204.8 L1955.6,204.8 L1957.6,204.8 L1959.6,204.8 L1961.6,204.8 L1963.6,204.8 L1965.6,204.8 L1967.6,204.8 L1969.6,204.9 L1971.6,204.9 L1973.6,204.9 L1975.6,204.9 L1977.6,204.9 L1979.6,204.9 L1981.6,204.9 L1983.6,205.0 L1985.7,205.0 L1987.7,205.0 L1989.7,205.0 L1991.7,205.0 L1993.7,205.0 L1995.7,205.0 L1997.7,205.1 L1999.7,205.1 L2001.7,205.1 L2003.7,205.1 L2005.7,205.1 L2007.7,205.1 L2009.7,205.1 L2011.7,205.2 L2013.7,205.2 L2015.7,205.2 L2017.7,205.2 L2019.7,205.2 L2021.7,205.2 L2023.7,205.3 L2025.7,205.3 L2027.7,205.3 L2029.7,205.3 L2031.7,205.3 L2033.7,205.3 L2035.7,205.4 L2037.7,205.4 L2039.7,205.4 L2041.7,205.4 L2043.7,205.4 L2045.7,205.4 L2047.7,205.5 L2049.7,205.5 L2051.7,205.5 L2053.7,205.5 L2055.7,205.5 L2057.7,205.5 L2059.7,205.6 L2061.7,205.6 L2063.7,205.6 L2065.7,205.6 L2067.7,205.6 L2069.7,205.6 L2071.7,205.7 L2073.7,205.7 L2075.7,205.7 L2077.7,205.7 L2079.7,205.7 L2081.7,205.7 L2083.7,205.8 L2085.7,205.8 L2087.7,205.8 L2089.7,205.8 L2091.7,205.8 L2093.7,205.9 L2095.7,205.9 L2097.7,205.9 L2099.7,205.9 L2101.7,205.9 L2103.7,206.0 L2105.7,206.0 L2107.7,206.0 L2109.7,206.0 L2111.7,206.0 L2113.7,206.0 L2115.7,206.1 L2117.7,206.1 L2119.7,206.1 L2121.7,206.1 L2123.7,206.1 L2125.7,206.2 L2127.7,206.2 L2129.7,206.2 L2131.7,206.2 L2133.7,206.2 L2135.7,206.3 L2137.8,206.3 L2139.8,206.3 L2141.8,206.3 L2143.8,206.3 L2145.8,206.3 L2147.8,206.4 L2149.8,206.4 L2151.8,206.4 L2153.8,206.4 L2155.8,206.4 L2157.8,206.5 L2159.8,206.5 L2161.8,206.5 L2163.8,206.5 L2165.8,206.5 L2167.8,206.6 L2169.8,206.6 L2171.8,206.6 L2173.8,206.6 L2175.8,206.6 L2177.8,206.7 L2179.8,206.7 L2181.8,206.7 L2183.8,206.7 L2185.8,206.7 L2187.8,206.8 L2189.8,206.8 L2191.8,206.8 L2193.8,206.8 L2195.8,206.9 L2197.8,206.9 L2199.8,206.9 L2201.8,206.9 L2203.8,206.9 L2205.8,207.0 L2207.8,207.0 L2209.8,207.0 L2211.8,207.0 L2213.8,207.1 L2215.8,207.1 L2217.8,207.1 L2219.8,207.1 L2221.8,207.2 L2223.8,207.2 L2225.8,207.2 L2227.8,207.2 L2229.8,207.3 L2231.8,207.3 L2233.8,207.3 L2235.8,207.3 L2237.8,207.4 L2239.8,207.4 L2241.8,207.4 L2243.8,207.4 L2245.8,207.5 L2247.8,207.5 L2249.8,207.5 L2251.8,207.6 L2253.8,207.6 L2255.8,207.6 L2257.8,207.6 L2259.8,207.7 L2261.8,207.7 L2263.8,207.7 L2265.8,207.8 L2267.8,207.8 L2269.8,207.8 L2271.8,207.9 L2273.8,207.9 L2275.8,207.9 L2277.8,208.0 L2279.8,208.0 L2281.8,208.0 L2283.8,208.1 L2285.8,208.1 L2287.9,208.1 L2289.9,208.2 L2291.9,208.2 L2293.9,208.2 L2295.9,208.3 L2297.9,208.3 L2299.9,208.3 L2301.9,208.4 L2303.9,208.4 L2305.9,208.5 L2307.9,208.5 L2309.9,208.6 L2311.9,208.6 L2313.9,208.7 L2315.9,208.7 L2317.9,208.8 L2319.9,208.8 L2321.9,208.9 L2323.9,208.9 L2325.9,209.0 L2327.9,209.1 L2329.9,209.1 L2331.9,209.2 L2333.9,209.3 L2335.9,209.4 L2337.9,209.5 L2339.9,209.5 L2341.9,209.6 L2343.9,209.7 L2345.9,209.8 L2347.9,209.9 L2349.9,210.0 L2351.9,210.0 L2353.9,210.1 L2355.9,210.2 L2357.9,210.3 L2359.9,210.4 L2361.9,210.5 L2363.9,210.6 L2365.9,210.6 L2367.9,210.7 L2369.9,210.8 L2371.9,210.9 L2373.9,211.0 L2375.9,211.1 L2377.9,211.1 L2379.9,211.2 L2381.9,211.3 L2383.9,211.4 L2385.9,211.4 L2387.9,211.5 L2389.9,211.6 L2391.9,211.6 L2393.9,211.7 L2395.9,211.8 L2397.9,211.8 L2399.9,211.9 L2401.9,211.9 L2403.9,212.0 L2405.9,212.0 L2407.9,212.0 L2409.9,212.1 L2411.9,212.1 L2413.9,212.2 L2415.9,212.2 L2417.9,212.2 L2419.9,212.3 L2421.9,212.3 L2423.9,212.3 L2425.9,212.4 L2427.9,212.4 L2429.9,212.4 L2431.9,212.4 L2433.9,212.5 L2435.9,212.5 L2437.9,212.5 L2440.0,212.5 L2442.0,212.6 L2444.0,212.6 L2446.0,212.6 L2448.0,212.6 L2450.0,212.7 L2452.0,212.7 L2454.0,212.7 L2456.0,212.7 L2458.0,212.7 L2460.0,212.8 L2462.0,212.8 L2464.0,212.8 L2466.0,212.8 L2468.0,212.9 L2470.0,212.9 L2472.0,212.9 L2474.0,212.9 L2476.0,213.0 L2478.0,213.0 L2480.0,213.0 L2482.0,213.0 L2484.0,213.1 L2486.0,213.1 L2488.0,213.1 L2490.0,213.2 L2492.0,213.2 L2494.0,213.2 L2496.0,213.3 L2498.0,213.3 L2500.0,213.3 L2502.0,213.4 L2504.0,213.4 L2506.0,213.5 L2508.0,213.5 L2510.0,213.5 L2512.0,213.6 L2514.0,213.7 L2516.0,213.7 L2518.0,213.8 L2520.0,213.8 L2522.0,213.9 L2524.0,214.0 L2526.0,214.0 L2528.0,214.1 L2530.0,214.2 L2532.0,214.3 L2534.0,214.3 L2536.0,214.4 L2538.0,214.5 L2540.0,214.6 L2542.0,214.7 L2544.0,214.8 L2546.0,214.8 L2548.0,214.9 L2550.0,215.0 L2552.0,215.1 L2554.0,215.2 L2556.0,215.3 L2558.0,215.4 L2560.0,215.5 L2562.0,215.6 L2564.0,215.7 L2566.0,215.8 L2568.0,215.9 L2570.0,216.0 L2572.0,216.2 L2574.0,216.3 L2576.0,216.4 L2578.0,216.5 L2580.0,216.7 L2582.0,216.8 L2584.0,216.9 L2586.0,217.1 L2588.0,217.2 L2590.1,217.4 L2592.1,217.5 L2594.1,217.7 L2596.1,217.9 L2598.1,218.0 L2600.1,218.2 L2602.1,218.4 L2604.1,218.6 L2606.1,218.8 L2608.1,219.0 L2610.1,219.2 L2612.1,219.5 L2614.1,219.7 L2616.1,220.0 L2618.1,220.3 L2620.1,220.6 L2622.1,220.9 L2624.1,221.3 L2626.1,221.7 L2628.1,222.1 L2630.1,222.5 L2632.1,223.0 L2634.1,223.4 L2636.1,223.9 L2638.1,224.4 L2640.1,224.9 L2642.1,225.5 L2644.1,226.0 L2646.1,226.5 L2648.1,227.1 L2650.1,227.6 L2652.1,228.2 L2654.1,228.8 L2656.1,229.3 L2658.1,229.9 L2660.1,230.5 L2662.1,231.1 L2664.1,231.7 L2666.1,232.3 L2668.1,232.9 L2670.1,233.5 L2672.1,234.1 L2674.1,234.7 L2676.1,235.3 L2678.1,236.0 L2680.1,236.6 L2682.1,237.3 L2684.1,238.0 L2686.1,238.8 L2688.1,239.7 L2690.1,240.7 L2692.1,241.7 L2694.1,242.8 L2696.1,244.1 L2698.1,245.4 L2700.1,246.9 L2702.1,248.5 L2704.1,250.1 L2706.1,251.9 L2708.1,253.7 L2710.1,255.6 L2712.1,257.6 L2714.1,259.7 L2716.1,261.9 L2718.1,264.1 L2720.1,266.4 L2722.1,268.8 L2724.1,271.2 L2726.1,273.7 L2728.1,276.3 L2730.1,278.9 L2732.1,281.6 L2734.1,284.4 L2736.1,287.2 L2738.1,290.1 L2740.2,293.1 L2742.2,296.2 L2744.2,299.4 L2746.2,302.8 L2748.2,306.3 L2750.2,309.9 L2752.2,313.8 L2754.2,317.9 L2756.2,322.3 L2758.2,327.0 L2760.2,332.0 L2762.2,337.4 L2764.2,343.3 L2766.2,349.6 L2768.2,356.4 L2770.2,363.6 L2772.2,371.3 L2774.2,379.4 L2776.2,387.8 L2778.2,396.5 L2780.2,405.4 L2782.2,414.5 L2784.2,423.6 L2786.2,432.7 L2788.2,441.7 L2790.2,450.7 L2792.2,459.6 L2794.2,468.5 L2796.2,477.4 L2798.2,486.4 L2800.2,495.5 L2802.2,504.8 L2804.2,514.3 L2806.2,524.0 L2808.2,534.0 L2810.2,544.2 L2812.2,554.6 L2814.2,565.2 L2816.2,576.0 L2818.2,586.9 L2820.2,598.2 L2822.2,609.7 L2824.2,621.5 L2826.2,633.7 L2828.2,646.4 L2830.2,659.4 L2832.2,672.8 L2834.2,686.6 L2836.2,700.6 L2838.2,714.8 L2840.2,729.2 L2842.2,743.6 L2844.2,758.0 L2846.2,772.5 L2848.2,787.0 L2850.2,801.6 L2852.2,816.3 L2854.2,831.0 L2856.2,845.8 L2858.2,860.7 L2860.2,875.6 L2862.2,890.3 L2864.2,904.8 L2866.2,919.0 L2868.2,932.6 L2870.2,945.6 L2872.2,957.7 L2874.2,968.8 L2876.2,978.9 L2878.2,988.0 L2880.2,996.0 L2882.2,1003.1 L2884.2,1009.4 L2886.2,1014.9 L2888.2,1019.8 L2890.2,1024.0 L2892.3,1027.8 L2894.3,1031.2 L2896.3,1034.2 L2898.3,1036.8 L2900.3,1039.1 L2902.3,1041.2 L2904.3,1043.0 L2906.3,1044.6 L2908.3,1046.0 L2910.3,1047.2 L2912.3,1048.2 L2914.3,1049.1 L2916.3,1049.9 L2918.3,1050.6 L2920.3,1051.3 L2922.3,1051.9 L2924.3,1052.5 L2926.3,1053.1 L2928.3,1053.6 L2930.3,1054.2 L2932.3,1054.7 L2934.3,1055.2 L2936.3,1055.8 L2938.3,1056.3 L2940.3,1056.8 L2942.3,1057.4 L2944.3,1057.9 L2946.3,1058.4 L2948.3,1058.9 L2950.3,1059.4 L2952.3,1059.9 L2954.3,1060.4 L2956.3,1060.8 L2958.3,1061.3 L2960.3,1061.7 L2962.3,1062.1 L2964.3,1062.5 L2966.3,1062.9 L2968.3,1063.3 L2970.3,1063.7 L2972.3,1064.1 L2974.3,1064.5 L2976.3,1064.8 L2978.3,1065.2 L2980.3,1065.6 L2982.3,1065.9 L2984.3,1066.3 L2986.3,1066.6 L2988.3,1066.9 L2990.3,1067.2 L2992.3,1067.5 L2994.3,1067.8 L2996.3,1068.0 L2998.3,1068.3 L3000.3,1068.5 L3002.3,1068.7 L3004.3,1068.9 L3006.3,1069.1 L3008.3,1069.3 L3010.3,1069.5 L3012.3,1069.6 L3014.3,1069.7 L3016.3,1069.9 L3018.3,1070.0 L3020.3,1070.1 L3022.3,1070.2 L3024.3,1070.3 L3026.3,1070.4 L3028.3,1070.5 L3030.3,1070.6 L3032.3,1070.7 L3034.3,1070.8 L3036.3,1070.8 L3038.3,1070.9 L3040.3,1071.0 L3042.4,1071.1 L3044.4,1071.1 L3046.4,1071.2 L3048.4,1071.3 L3050.4,1071.4 L3052.4,1071.4 L3054.4,1071.5 L3056.4,1071.6 L3058.4,1071.6 L3060.4,1071.7 L3062.4,1071.8 L3064.4,1071.8 L3066.4,1071.9 L3068.4,1072.0 L3070.4,1072.1 L3072.4,1072.1 L3074.4,1072.2 L3076.4,1072.2 L3078.4,1072.3 L3080.4,1072.4 L3082.4,1072.4 L3084.4,1072.5 L3086.4,1072.5 L3088.4,1072.6 L3090.4,1072.7 L3092.4,1072.7 L3094.4,1072.7 L3096.4,1072.8 L3098.4,1072.8 L3100.4,1072.9 L3102.4,1072.9 L3104.4,1072.9 L3106.4,1073.0 L3108.4,1073.0 L3110.4,1073.0 L3112.4,1073.0 L3114.4,1073.1 L3116.4,1073.1 L3118.4,1073.1 L3120.4,1073.1 L3122.4,1073.1 L3124.4,1073.2 L3126.4,1073.2 L3128.4,1073.2 L3130.4,1073.2 L3132.4,1073.2 L3134.4,1073.2 L3136.4,1073.2 L3138.4,1073.3 L3140.4,1073.3 L3142.4,1073.3 L3144.4,1073.3 L3146.4,1073.3 L3148.4,1073.3 L3150.4,1073.3 L3152.4,1073.3 L3154.4,1073.3 L3156.4,1073.4 L3158.4,1073.4 L3160.4,1073.4 L3162.4,1073.4 L3164.4,1073.4 L3166.4,1073.4 L3168.4,1073.4 L3170.4,1073.5 L3172.4,1073.5 L3174.4,1073.5 L3176.4,1073.5 L3178.4,1073.5 L3180.4,1073.5 L3182.4,1073.6 L3184.4,1073.6 L3186.4,1073.6 L3188.4,1073.6 L3190.4,1073.6 L3192.4,1073.6 L3194.5,1073.7 L3196.5,1073.7 L3198.5,1073.7 L3200.5,1073.7 L3202.5,1073.7 L3204.5,1073.8 L3206.5,1073.8 L3208.5,1073.8 L3210.5,1073.8 L3212.5,1073.8 L3214.5,1073.9 L3216.5,1073.9 L3218.5,1073.9 L3220.5,1073.9 L3222.5,1074.0 L3224.5,1074.0 L3226.5,1074.0 L3228.5,1074.0 L3230.5,1074.0 L3232.5,1074.1 L3234.5,1074.1 L3236.5,1074.1 L3238.5,1074.1 L3240.5,1074.2 L3242.5,1074.2 L3244.5,1074.2 L3246.5,1074.2 L3248.5,1074.3 L3250.5,1074.3 L3252.5,1074.3 L3254.5,1074.3 L3256.5,1074.3 L3258.5,1074.4 L3260.5,1074.4 L3262.5,1074.4 L3264.5,1074.4 L3266.5,1074.5 L3268.5,1074.5" stroke="#ff2c3f" stroke-width="3.8"/>
<rect x="1897.6" y="192.5" width="24" height="24" fill="#f01030"/>
<rect x="2097.4" y="194.0" width="24" height="24" fill="#f01030"/>
<rect x="2297.3" y="196.5" width="24" height="24" fill="#f01030"/>
<rect x="2497.1" y="201.5" width="24" height="24" fill="#f01030"/>
<rect x="2697.0" y="242.5" width="24" height="24" fill="#f01030"/>
<rect x="2896.8" y="1034.3" width="24" height="24" fill="#f01030"/>
<rect x="3096.6" y="1061.0" width="24" height="24" fill="#f01030"/>
<path d="M1909.6,204.2 L1911.6,204.2 L1913.6,204.2 L1915.6,204.2 L1917.6,204.3 L1919.6,204.3 L1921.6,204.3 L1923.6,204.3 L1925.6,204.3 L1927.6,204.3 L1929.6,204.4 L1931.6,204.4 L1933.6,204.4 L1935.6,204.4 L1937.6,204.4 L1939.6,204.4 L1941.6,204.4 L1943.6,204.5 L1945.6,204.5 L1947.6,204.5 L1949.6,204.5 L1951.6,204.5 L1953.6,204.5 L1955.6,204.6 L1957.6,204.6 L1959.6,204.6 L1961.6,204.6 L1963.6,204.6 L1965.6,204.6 L1967.6,204.7 L1969.6,204.7 L1971.6,204.7 L1973.6,204.7 L1975.6,204.7 L1977.6,204.7 L1979.6,204.8 L1981.6,204.8 L1983.6,204.8 L1985.7,204.8 L1987.7,204.8 L1989.7,204.8 L1991.7,204.9 L1993.7,204.9 L1995.7,204.9 L1997.7,204.9 L1999.7,204.9 L2001.7,204.9 L2003.7,205.0 L2005.7,205.0 L2007.7,205.0 L2009.7,205.0 L2011.7,205.0 L2013.7,205.0 L2015.7,205.1 L2017.7,205.1 L2019.7,205.1 L2021.7,205.1 L2023.7,205.1 L2025.7,205.1 L2027.7,205.2 L2029.7,205.2 L2031.7,205.2 L2033.7,205.2 L2035.7,205.2 L2037.7,205.2 L2039.7,205.3 L2041.7,205.3 L2043.7,205.3 L2045.7,205.3 L2047.7,205.3 L2049.7,205.4 L2051.7,205.4 L2053.7,205.4 L2055.7,205.4 L2057.7,205.4 L2059.7,205.4 L2061.7,205.5 L2063.7,205.5 L2065.7,205.5 L2067.7,205.5 L2069.7,205.5 L2071.7,205.6 L2073.7,205.6 L2075.7,205.6 L2077.7,205.6 L2079.7,205.6 L2081.7,205.6 L2083.7,205.7 L2085.7,205.7 L2087.7,205.7 L2089.7,205.7 L2091.7,205.7 L2093.7,205.8 L2095.7,205.8 L2097.7,205.8 L2099.7,205.8 L2101.7,205.8 L2103.7,205.9 L2105.7,205.9 L2107.7,205.9 L2109.7,205.9 L2111.7,205.9 L2113.7,205.9 L2115.7,206.0 L2117.7,206.0 L2119.7,206.0 L2121.7,206.0 L2123.7,206.0 L2125.7,206.1 L2127.7,206.1 L2129.7,206.1 L2131.7,206.1 L2133.7,206.1 L2135.7,206.1 L2137.8,206.2 L2139.8,206.2 L2141.8,206.2 L2143.8,206.2 L2145.8,206.2 L2147.8,206.2 L2149.8,206.3 L2151.8,206.3 L2153.8,206.3 L2155.8,206.3 L2157.8,206.3 L2159.8,206.3 L2161.8,206.4 L2163.8,206.4 L2165.8,206.4 L2167.8,206.4 L2169.8,206.4 L2171.8,206.4 L2173.8,206.5 L2175.8,206.5 L2177.8,206.5 L2179.8,206.5 L2181.8,206.5 L2183.8,206.5 L2185.8,206.6 L2187.8,206.6 L2189.8,206.6 L2191.8,206.6 L2193.8,206.6 L2195.8,206.7 L2197.8,206.7 L2199.8,206.7 L2201.8,206.7 L2203.8,206.7 L2205.8,206.7 L2207.8,206.8 L2209.8,206.8 L2211.8,206.8 L2213.8,206.8 L2215.8,206.8 L2217.8,206.9 L2219.8,206.9 L2221.8,206.9 L2223.8,206.9 L2225.8,206.9 L2227.8,207.0 L2229.8,207.0 L2231.8,207.0 L2233.8,207.0 L2235.8,207.0 L2237.8,207.1 L2239.8,207.1 L2241.8,207.1 L2243.8,207.1 L2245.8,207.2 L2247.8,207.2 L2249.8,207.2 L2251.8,207.2 L2253.8,207.2 L2255.8,207.3 L2257.8,207.3 L2259.8,207.3 L2261.8,207.3 L2263.8,207.4 L2265.8,207.4 L2267.8,207.4 L2269.8,207.4 L2271.8,207.5 L2273.8,207.5 L2275.8,207.5 L2277.8,207.5 L2279.8,207.6 L2281.8,207.6 L2283.8,207.6 L2285.8,207.7 L2287.9,207.7 L2289.9,207.7 L2291.9,207.7 L2293.9,207.8 L2295.9,207.8 L2297.9,207.8 L2299.9,207.9 L2301.9,207.9 L2303.9,207.9 L2305.9,208.0 L2307.9,208.0 L2309.9,208.0 L2311.9,208.1 L2313.9,208.1 L2315.9,208.2 L2317.9,208.2 L2319.9,208.3 L2321.9,208.3 L2323.9,208.4 L2325.9,208.4 L2327.9,208.5 L2329.9,208.5 L2331.9,208.6 L2333.9,208.6 L2335.9,208.7 L2337.9,208.8 L2339.9,208.8 L2341.9,208.9 L2343.9,209.0 L2345.9,209.0 L2347.9,209.1 L2349.9,209.2 L2351.9,209.3 L2353.9,209.3 L2355.9,209.4 L2357.9,209.5 L2359.9,209.5 L2361.9,209.6 L2363.9,209.7 L2365.9,209.8 L2367.9,209.8 L2369.9,209.9 L2371.9,210.0 L2373.9,210.0 L2375.9,210.1 L2377.9,210.2 L2379.9,210.2 L2381.9,210.3 L2383.9,210.4 L2385.9,210.4 L2387.9,210.5 L2389.9,210.6 L2391.9,210.6 L2393.9,210.7 L2395.9,210.8 L2397.9,210.8 L2399.9,210.9 L2401.9,210.9 L2403.9,211.0 L2405.9,211.0 L2407.9,211.1 L2409.9,211.1 L2411.9,211.2 L2413.9,211.2 L2415.9,211.2 L2417.9,211.3 L2419.9,211.3 L2421.9,211.4 L2423.9,211.4 L2425.9,211.5 L2427.9,211.5 L2429.9,211.6 L2431.9,211.6 L2433.9,211.6 L2435.9,211.7 L2437.9,211.7 L2440.0,211.8 L2442.0,211.8 L2444.0,211.8 L2446.0,211.9 L2448.0,211.9 L2450.0,211.9 L2452.0,212.0 L2454.0,212.0 L2456.0,212.1 L2458.0,212.1 L2460.0,212.1 L2462.0,212.2 L2464.0,212.2 L2466.0,212.2 L2468.0,212.3 L2470.0,212.3 L2472.0,212.4 L2474.0,212.4 L2476.0,212.4 L2478.0,212.5 L2480.0,212.5 L2482.0,212.5 L2484.0,212.6 L2486.0,212.6 L2488.0,212.6 L2490.0,212.7 L2492.0,212.7 L2494.0,212.7 L2496.0,212.8 L2498.0,212.8 L2500.0,212.8 L2502.0,212.9 L2504.0,212.9 L2506.0,213.0 L2508.0,213.0 L2510.0,213.0 L2512.0,213.1 L2514.0,213.1 L2516.0,213.1 L2518.0,213.1 L2520.0,213.2 L2522.0,213.2 L2524.0,213.2 L2526.0,213.3 L2528.0,213.3 L2530.0,213.3 L2532.0,213.3 L2534.0,213.4 L2536.0,213.4 L2538.0,213.4 L2540.0,213.4 L2542.0,213.5 L2544.0,213.5 L2546.0,213.5 L2548.0,213.5 L2550.0,213.6 L2552.0,213.6 L2554.0,213.6 L2556.0,213.6 L2558.0,213.7 L2560.0,213.7 L2562.0,213.7 L2564.0,213.8 L2566.0,213.8 L2568.0,213.8 L2570.0,213.8 L2572.0,213.9 L2574.0,213.9 L2576.0,214.0 L2578.0,214.0 L2580.0,214.0 L2582.0,214.1 L2584.0,214.1 L2586.0,214.2 L2588.0,214.2 L2590.1,214.2 L2592.1,214.3 L2594.1,214.4 L2596.1,214.4 L2598.1,214.5 L2600.1,214.5 L2602.1,214.6 L2604.1,214.7 L2606.1,214.8 L2608.1,214.9 L2610.1,215.0 L2612.1,215.1 L2614.1,215.2 L2616.1,215.3 L2618.1,215.4 L2620.1,215.6 L2622.1,215.7 L2624.1,215.9 L2626.1,216.0 L2628.1,216.2 L2630.1,216.4 L2632.1,216.6 L2634.1,216.8 L2636.1,217.0 L2638.1,217.2 L2640.1,217.4 L2642.1,217.6 L2644.1,217.9 L2646.1,218.1 L2648.1,218.4 L2650.1,218.7 L2652.1,218.9 L2654.1,219.2 L2656.1,219.5 L2658.1,219.8 L2660.1,220.2 L2662.1,220.5 L2664.1,220.9 L2666.1,221.4 L2668.1,221.8 L2670.1,222.3 L2672.1,222.9 L2674.1,223.5 L2676.1,224.2 L2678.1,224.9 L2680.1,225.6 L2682.1,226.4 L2684.1,227.2 L2686.1,228.1 L2688.1,229.0 L2690.1,230.0 L2692.1,231.0 L2694.1,232.1 L2696.1,233.2 L2698.1,234.5 L2700.1,235.8 L2702.1,237.1 L2704.1,238.6 L2706.1,240.0 L2708.1,241.6 L2710.1,243.2 L2712.1,244.9 L2714.1,246.6 L2716.1,248.4 L2718.1,250.2 L2720.1,252.1 L2722.1,254.0 L2724.1,256.1 L2726.1,258.2 L2728.1,260.4 L2730.1,262.6 L2732.1,265.0 L2734.1,267.5 L2736.1,270.1 L2738.1,272.8 L2740.2,275.6 L2742.2,278.6 L2744.2,281.7 L2746.2,284.8 L2748.2,288.1 L2750.2,291.4 L2752.2,294.8 L2754.2,298.3 L2756.2,301.8 L2758.2,305.4 L2760.2,309.0 L2762.2,312.8 L2764.2,316.6 L2766.2,320.6 L2768.2,324.7 L2770.2,328.9 L2772.2,333.2 L2774.2,337.6 L2776.2,342.1 L2778.2,346.6 L2780.2,351.2 L2782.2,355.9 L2784.2,360.5 L2786.2,365.2 L2788.2,369.9 L2790.2,374.5 L2792.2,379.1 L2794.2,383.6 L2796.2,388.0 L2798.2,392.3 L2800.2,396.6 L2802.2,400.7 L2804.2,404.8 L2806.2,408.7 L2808.2,412.6 L2810.2,416.4 L2812.2,420.1 L2814.2,423.7 L2816.2,427.2 L2818.2,430.5 L2820.2,433.8 L2822.2,436.9 L2824.2,439.9 L2826.2,442.7 L2828.2,445.5 L2830.2,448.1 L2832.2,450.7 L2834.2,453.1 L2836.2,455.5 L2838.2,457.9 L2840.2,460.2 L2842.2,462.4 L2844.2,464.7 L2846.2,466.9 L2848.2,469.0 L2850.2,471.2 L2852.2,473.3 L2854.2,475.4 L2856.2,477.5 L2858.2,479.5 L2860.2,481.5 L2862.2,483.5 L2864.2,485.5 L2866.2,487.5 L2868.2,489.4 L2870.2,491.4 L2872.2,493.3 L2874.2,495.2 L2876.2,497.1 L2878.2,499.0 L2880.2,500.9 L2882.2,502.7 L2884.2,504.6 L2886.2,506.4 L2888.2,508.2 L2890.2,509.9 L2892.3,511.7 L2894.3,513.4 L2896.3,515.1 L2898.3,516.7 L2900.3,518.3 L2902.3,519.9 L2904.3,521.4 L2906.3,522.8 L2908.3,524.3 L2910.3,525.7 L2912.3,527.0 L2914.3,528.3 L2916.3,529.6 L2918.3,530.9 L2920.3,532.1 L2922.3,533.3 L2924.3,534.5 L2926.3,535.7 L2928.3,536.8 L2930.3,538.0 L2932.3,539.1 L2934.3,540.3 L2936.3,541.4 L2938.3,542.6 L2940.3,543.8 L2942.3,544.9 L2944.3,546.1 L2946.3,547.3 L2948.3,548.6 L2950.3,549.8 L2952.3,551.0 L2954.3,552.2 L2956.3,553.5 L2958.3,554.7 L2960.3,556.0 L2962.3,557.2 L2964.3,558.5 L2966.3,559.8 L2968.3,561.1 L2970.3,562.4 L2972.3,563.7 L2974.3,565.0 L2976.3,566.3 L2978.3,567.7 L2980.3,569.1 L2982.3,570.5 L2984.3,571.9 L2986.3,573.3 L2988.3,574.8 L2990.3,576.3 L2992.3,577.8 L2994.3,579.4 L2996.3,581.0 L2998.3,582.6 L3000.3,584.2 L3002.3,585.8 L3004.3,587.5 L3006.3,589.2 L3008.3,590.9 L3010.3,592.6 L3012.3,594.4 L3014.3,596.1 L3016.3,597.9 L3018.3,599.7 L3020.3,601.5 L3022.3,603.3 L3024.3,605.1 L3026.3,606.9 L3028.3,608.8 L3030.3,610.6 L3032.3,612.5 L3034.3,614.4 L3036.3,616.3 L3038.3,618.3 L3040.3,620.2 L3042.4,622.2 L3044.4,624.2 L3046.4,626.1 L3048.4,628.2 L3050.4,630.2 L3052.4,632.2 L3054.4,634.2 L3056.4,636.3 L3058.4,638.3 L3060.4,640.4 L3062.4,642.4 L3064.4,644.5 L3066.4,646.5 L3068.4,648.5 L3070.4,650.6 L3072.4,652.6 L3074.4,654.6 L3076.4,656.5 L3078.4,658.5 L3080.4,660.5 L3082.4,662.5 L3084.4,664.4 L3086.4,666.4 L3088.4,668.4 L3090.4,670.5 L3092.4,672.6 L3094.4,674.7 L3096.4,676.9 L3098.4,679.1 L3100.4,681.5 L3102.4,683.9 L3104.4,686.4 L3106.4,689.0 L3108.4,691.8 L3110.4,694.6 L3112.4,697.6 L3114.4,700.8 L3116.4,704.0 L3118.4,707.5 L3120.4,711.1 L3122.4,714.9 L3124.4,718.9 L3126.4,723.1 L3128.4,727.5 L3130.4,732.1 L3132.4,737.0 L3134.4,742.1 L3136.4,747.4 L3138.4,753.0 L3140.4,758.7 L3142.4,764.6 L3144.4,770.7 L3146.4,776.9 L3148.4,783.4 L3150.4,789.9 L3152.4,796.6 L3154.4,803.5 L3156.4,810.4 L3158.4,817.4 L3160.4,824.5 L3162.4,831.5 L3164.4,838.4 L3166.4,845.2 L3168.4,851.7 L3170.4,857.9 L3172.4,863.8 L3174.4,869.4 L3176.4,874.7 L3178.4,879.7 L3180.4,884.4 L3182.4,888.8 L3184.4,892.9 L3186.4,896.8 L3188.4,900.4 L3190.4,903.9 L3192.4,907.2 L3194.5,910.3 L3196.5,913.2 L3198.5,916.0 L3200.5,918.6 L3202.5,921.1 L3204.5,923.4 L3206.5,925.6 L3208.5,927.7 L3210.5,929.7 L3212.5,931.5 L3214.5,933.3 L3216.5,935.0 L3218.5,936.5 L3220.5,938.0 L3222.5,939.4 L3224.5,940.8 L3226.5,942.0 L3228.5,943.2 L3230.5,944.3 L3232.5,945.3 L3234.5,946.2 L3236.5,947.2 L3238.5,948.1 L3240.5,948.9 L3242.5,949.7 L3244.5,950.5 L3246.5,951.2 L3248.5,951.9 L3250.5,952.6 L3252.5,953.2 L3254.5,953.8 L3256.5,954.3 L3258.5,954.8 L3260.5,955.2 L3262.5,955.5 L3264.5,955.8 L3266.5,956.1 L3268.5,956.3" stroke="#cdea12" stroke-width="7.8"/>
<path d="M1909.6,204.2 L1911.6,204.2 L1913.6,204.2 L1915.6,204.2 L1917.6,204.3 L1919.6,204.3 L1921.6,204.3 L1923.6,204.3 L1925.6,204.3 L1927.6,204.3 L1929.6,204.4 L1931.6,204.4 L1933.6,204.4 L1935.6,204.4 L1937.6,204.4 L1939.6,204.4 L1941.6,204.4 L1943.6,204.5 L1945.6,204.5 L1947.6,204.5 L1949.6,204.5 L1951.6,204.5 L1953.6,204.5 L1955.6,204.6 L1957.6,204.6 L1959.6,204.6 L1961.6,204.6 L1963.6,204.6 L1965.6,204.6 L1967.6,204.7 L1969.6,204.7 L1971.6,204.7 L1973.6,204.7 L1975.6,204.7 L1977.6,204.7 L1979.6,204.8 L1981.6,204.8 L1983.6,204.8 L1985.7,204.8 L1987.7,204.8 L1989.7,204.8 L1991.7,204.9 L1993.7,204.9 L1995.7,204.9 L1997.7,204.9 L1999.7,204.9 L2001.7,204.9 L2003.7,205.0 L2005.7,205.0 L2007.7,205.0 L2009.7,205.0 L2011.7,205.0 L2013.7,205.0 L2015.7,205.1 L2017.7,205.1 L2019.7,205.1 L2021.7,205.1 L2023.7,205.1 L2025.7,205.1 L2027.7,205.2 L2029.7,205.2 L2031.7,205.2 L2033.7,205.2 L2035.7,205.2 L2037.7,205.2 L2039.7,205.3 L2041.7,205.3 L2043.7,205.3 L2045.7,205.3 L2047.7,205.3 L2049.7,205.4 L2051.7,205.4 L2053.7,205.4 L2055.7,205.4 L2057.7,205.4 L2059.7,205.4 L2061.7,205.5 L2063.7,205.5 L2065.7,205.5 L2067.7,205.5 L2069.7,205.5 L2071.7,205.6 L2073.7,205.6 L2075.7,205.6 L2077.7,205.6 L2079.7,205.6 L2081.7,205.6 L2083.7,205.7 L2085.7,205.7 L2087.7,205.7 L2089.7,205.7 L2091.7,205.7 L2093.7,205.8 L2095.7,205.8 L2097.7,205.8 L2099.7,205.8 L2101.7,205.8 L2103.7,205.9 L2105.7,205.9 L2107.7,205.9 L2109.7,205.9 L2111.7,205.9 L2113.7,205.9 L2115.7,206.0 L2117.7,206.0 L2119.7,206.0 L2121.7,206.0 L2123.7,206.0 L2125.7,206.1 L2127.7,206.1 L2129.7,206.1 L2131.7,206.1 L2133.7,206.1 L2135.7,206.1 L2137.8,206.2 L2139.8,206.2 L2141.8,206.2 L2143.8,206.2 L2145.8,206.2 L2147.8,206.2 L2149.8,206.3 L2151.8,206.3 L2153.8,206.3 L2155.8,206.3 L2157.8,206.3 L2159.8,206.3 L2161.8,206.4 L2163.8,206.4 L2165.8,206.4 L2167.8,206.4 L2169.8,206.4 L2171.8,206.4 L2173.8,206.5 L2175.8,206.5 L2177.8,206.5 L2179.8,206.5 L2181.8,206.5 L2183.8,206.5 L2185.8,206.6 L2187.8,206.6 L2189.8,206.6 L2191.8,206.6 L2193.8,206.6 L2195.8,206.7 L2197.8,206.7 L2199.8,206.7 L2201.8,206.7 L2203.8,206.7 L2205.8,206.7 L2207.8,206.8 L2209.8,206.8 L2211.8,206.8 L2213.8,206.8 L2215.8,206.8 L2217.8,206.9 L2219.8,206.9 L2221.8,206.9 L2223.8,206.9 L2225.8,206.9 L2227.8,207.0 L2229.8,207.0 L2231.8,207.0 L2233.8,207.0 L2235.8,207.0 L2237.8,207.1 L2239.8,207.1 L2241.8,207.1 L2243.8,207.1 L2245.8,207.2 L2247.8,207.2 L2249.8,207.2 L2251.8,207.2 L2253.8,207.2 L2255.8,207.3 L2257.8,207.3 L2259.8,207.3 L2261.8,207.3 L2263.8,207.4 L2265.8,207.4 L2267.8,207.4 L2269.8,207.4 L2271.8,207.5 L2273.8,207.5 L2275.8,207.5 L2277.8,207.5 L2279.8,207.6 L2281.8,207.6 L2283.8,207.6 L2285.8,207.7 L2287.9,207.7 L2289.9,207.7 L2291.9,207.7 L2293.9,207.8 L2295.9,207.8 L2297.9,207.8 L2299.9,207.9 L2301.9,207.9 L2303.9,207.9 L2305.9,208.0 L2307.9,208.0 L2309.9,208.0 L2311.9,208.1 L2313.9,208.1 L2315.9,208.2 L2317.9,208.2 L2319.9,208.3 L2321.9,208.3 L2323.9,208.4 L2325.9,208.4 L2327.9,208.5 L2329.9,208.5 L2331.9,208.6 L2333.9,208.6 L2335.9,208.7 L2337.9,208.8 L2339.9,208.8 L2341.9,208.9 L2343.9,209.0 L2345.9,209.0 L2347.9,209.1 L2349.9,209.2 L2351.9,209.3 L2353.9,209.3 L2355.9,209.4 L2357.9,209.5 L2359.9,209.5 L2361.9,209.6 L2363.9,209.7 L2365.9,209.8 L2367.9,209.8 L2369.9,209.9 L2371.9,210.0 L2373.9,210.0 L2375.9,210.1 L2377.9,210.2 L2379.9,210.2 L2381.9,210.3 L2383.9,210.4 L2385.9,210.4 L2387.9,210.5 L2389.9,210.6 L2391.9,210.6 L2393.9,210.7 L2395.9,210.8 L2397.9,210.8 L2399.9,210.9 L2401.9,210.9 L2403.9,211.0 L2405.9,211.0 L2407.9,211.1 L2409.9,211.1 L2411.9,211.2 L2413.9,211.2 L2415.9,211.2 L2417.9,211.3 L2419.9,211.3 L2421.9,211.4 L2423.9,211.4 L2425.9,211.5 L2427.9,211.5 L2429.9,211.6 L2431.9,211.6 L2433.9,211.6 L2435.9,211.7 L2437.9,211.7 L2440.0,211.8 L2442.0,211.8 L2444.0,211.8 L2446.0,211.9 L2448.0,211.9 L2450.0,211.9 L2452.0,212.0 L2454.0,212.0 L2456.0,212.1 L2458.0,212.1 L2460.0,212.1 L2462.0,212.2 L2464.0,212.2 L2466.0,212.2 L2468.0,212.3 L2470.0,212.3 L2472.0,212.4 L2474.0,212.4 L2476.0,212.4 L2478.0,212.5 L2480.0,212.5 L2482.0,212.5 L2484.0,212.6 L2486.0,212.6 L2488.0,212.6 L2490.0,212.7 L2492.0,212.7 L2494.0,212.7 L2496.0,212.8 L2498.0,212.8 L2500.0,212.8 L2502.0,212.9 L2504.0,212.9 L2506.0,213.0 L2508.0,213.0 L2510.0,213.0 L2512.0,213.1 L2514.0,213.1 L2516.0,213.1 L2518.0,213.1 L2520.0,213.2 L2522.0,213.2 L2524.0,213.2 L2526.0,213.3 L2528.0,213.3 L2530.0,213.3 L2532.0,213.3 L2534.0,213.4 L2536.0,213.4 L2538.0,213.4 L2540.0,213.4 L2542.0,213.5 L2544.0,213.5 L2546.0,213.5 L2548.0,213.5 L2550.0,213.6 L2552.0,213.6 L2554.0,213.6 L2556.0,213.6 L2558.0,213.7 L2560.0,213.7 L2562.0,213.7 L2564.0,213.8 L2566.0,213.8 L2568.0,213.8 L2570.0,213.8 L2572.0,213.9 L2574.0,213.9 L2576.0,214.0 L2578.0,214.0 L2580.0,214.0 L2582.0,214.1 L2584.0,214.1 L2586.0,214.2 L2588.0,214.2 L2590.1,214.2 L2592.1,214.3 L2594.1,214.4 L2596.1,214.4 L2598.1,214.5 L2600.1,214.5 L2602.1,214.6 L2604.1,214.7 L2606.1,214.8 L2608.1,214.9 L2610.1,215.0 L2612.1,215.1 L2614.1,215.2 L2616.1,215.3 L2618.1,215.4 L2620.1,215.6 L2622.1,215.7 L2624.1,215.9 L2626.1,216.0 L2628.1,216.2 L2630.1,216.4 L2632.1,216.6 L2634.1,216.8 L2636.1,217.0 L2638.1,217.2 L2640.1,217.4 L2642.1,217.6 L2644.1,217.9 L2646.1,218.1 L2648.1,218.4 L2650.1,218.7 L2652.1,218.9 L2654.1,219.2 L2656.1,219.5 L2658.1,219.8 L2660.1,220.2 L2662.1,220.5 L2664.1,220.9 L2666.1,221.4 L2668.1,221.8 L2670.1,222.3 L2672.1,222.9 L2674.1,223.5 L2676.1,224.2 L2678.1,224.9 L2680.1,225.6 L2682.1,226.4 L2684.1,227.2 L2686.1,228.1 L2688.1,229.0 L2690.1,230.0 L2692.1,231.0 L2694.1,232.1 L2696.1,233.2 L2698.1,234.5 L2700.1,235.8 L2702.1,237.1 L2704.1,238.6 L2706.1,240.0 L2708.1,241.6 L2710.1,243.2 L2712.1,244.9 L2714.1,246.6 L2716.1,248.4 L2718.1,250.2 L2720.1,252.1 L2722.1,254.0 L2724.1,256.1 L2726.1,258.2 L2728.1,260.4 L2730.1,262.6 L2732.1,265.0 L2734.1,267.5 L2736.1,270.1 L2738.1,272.8 L2740.2,275.6 L2742.2,278.6 L2744.2,281.7 L2746.2,284.8 L2748.2,288.1 L2750.2,291.4 L2752.2,294.8 L2754.2,298.3 L2756.2,301.8 L2758.2,305.4 L2760.2,309.0 L2762.2,312.8 L2764.2,316.6 L2766.2,320.6 L2768.2,324.7 L2770.2,328.9 L2772.2,333.2 L2774.2,337.6 L2776.2,342.1 L2778.2,346.6 L2780.2,351.2 L2782.2,355.9 L2784.2,360.5 L2786.2,365.2 L2788.2,369.9 L2790.2,374.5 L2792.2,379.1 L2794.2,383.6 L2796.2,388.0 L2798.2,392.3 L2800.2,396.6 L2802.2,400.7 L2804.2,404.8 L2806.2,408.7 L2808.2,412.6 L2810.2,416.4 L2812.2,420.1 L2814.2,423.7 L2816.2,427.2 L2818.2,430.5 L2820.2,433.8 L2822.2,436.9 L2824.2,439.9 L2826.2,442.7 L2828.2,445.5 L2830.2,448.1 L2832.2,450.7 L2834.2,453.1 L2836.2,455.5 L2838.2,457.9 L2840.2,460.2 L2842.2,462.4 L2844.2,464.7 L2846.2,466.9 L2848.2,469.0 L2850.2,471.2 L2852.2,473.3 L2854.2,475.4 L2856.2,477.5 L2858.2,479.5 L2860.2,481.5 L2862.2,483.5 L2864.2,485.5 L2866.2,487.5 L2868.2,489.4 L2870.2,491.4 L2872.2,493.3 L2874.2,495.2 L2876.2,497.1 L2878.2,499.0 L2880.2,500.9 L2882.2,502.7 L2884.2,504.6 L2886.2,506.4 L2888.2,508.2 L2890.2,509.9 L2892.3,511.7 L2894.3,513.4 L2896.3,515.1 L2898.3,516.7 L2900.3,518.3 L2902.3,519.9 L2904.3,521.4 L2906.3,522.8 L2908.3,524.3 L2910.3,525.7 L2912.3,527.0 L2914.3,528.3 L2916.3,529.6 L2918.3,530.9 L2920.3,532.1 L2922.3,533.3 L2924.3,534.5 L2926.3,535.7 L2928.3,536.8 L2930.3,538.0 L2932.3,539.1 L2934.3,540.3 L2936.3,541.4 L2938.3,542.6 L2940.3,543.8 L2942.3,544.9 L2944.3,546.1 L2946.3,547.3 L2948.3,548.6 L2950.3,549.8 L2952.3,551.0 L2954.3,552.2 L2956.3,553.5 L2958.3,554.7 L2960.3,556.0 L2962.3,557.2 L2964.3,558.5 L2966.3,559.8 L2968.3,561.1 L2970.3,562.4 L2972.3,563.7 L2974.3,565.0 L2976.3,566.3 L2978.3,567.7 L2980.3,569.1 L2982.3,570.5 L2984.3,571.9 L2986.3,573.3 L2988.3,574.8 L2990.3,576.3 L2992.3,577.8 L2994.3,579.4 L2996.3,581.0 L2998.3,582.6 L3000.3,584.2 L3002.3,585.8 L3004.3,587.5 L3006.3,589.2 L3008.3,590.9 L3010.3,592.6 L3012.3,594.4 L3014.3,596.1 L3016.3,597.9 L3018.3,599.7 L3020.3,601.5 L3022.3,603.3 L3024.3,605.1 L3026.3,606.9 L3028.3,608.8 L3030.3,610.6 L3032.3,612.5 L3034.3,614.4 L3036.3,616.3 L3038.3,618.3 L3040.3,620.2 L3042.4,622.2 L3044.4,624.2 L3046.4,626.1 L3048.4,628.2 L3050.4,630.2 L3052.4,632.2 L3054.4,634.2 L3056.4,636.3 L3058.4,638.3 L3060.4,640.4 L3062.4,642.4 L3064.4,644.5 L3066.4,646.5 L3068.4,648.5 L3070.4,650.6 L3072.4,652.6 L3074.4,654.6 L3076.4,656.5 L3078.4,658.5 L3080.4,660.5 L3082.4,662.5 L3084.4,664.4 L3086.4,666.4 L3088.4,668.4 L3090.4,670.5 L3092.4,672.6 L3094.4,674.7 L3096.4,676.9 L3098.4,679.1 L3100.4,681.5 L3102.4,683.9 L3104.4,686.4 L3106.4,689.0 L3108.4,691.8 L3110.4,694.6 L3112.4,697.6 L3114.4,700.8 L3116.4,704.0 L3118.4,707.5 L3120.4,711.1 L3122.4,714.9 L3124.4,718.9 L3126.4,723.1 L3128.4,727.5 L3130.4,732.1 L3132.4,737.0 L3134.4,742.1 L3136.4,747.4 L3138.4,753.0 L3140.4,758.7 L3142.4,764.6 L3144.4,770.7 L3146.4,776.9 L3148.4,783.4 L3150.4,789.9 L3152.4,796.6 L3154.4,803.5 L3156.4,810.4 L3158.4,817.4 L3160.4,824.5 L3162.4,831.5 L3164.4,838.4 L3166.4,845.2 L3168.4,851.7 L3170.4,857.9 L3172.4,863.8 L3174.4,869.4 L3176.4,874.7 L3178.4,879.7 L3180.4,884.4 L3182.4,888.8 L3184.4,892.9 L3186.4,896.8 L3188.4,900.4 L3190.4,903.9 L3192.4,907.2 L3194.5,910.3 L3196.5,913.2 L3198.5,916.0 L3200.5,918.6 L3202.5,921.1 L3204.5,923.4 L3206.5,925.6 L3208.5,927.7 L3210.5,929.7 L3212.5,931.5 L3214.5,933.3 L3216.5,935.0 L3218.5,936.5 L3220.5,938.0 L3222.5,939.4 L3224.5,940.8 L3226.5,942.0 L3228.5,943.2 L3230.5,944.3 L3232.5,945.3 L3234.5,946.2 L3236.5,947.2 L3238.5,948.1 L3240.5,948.9 L3242.5,949.7 L3244.5,950.5 L3246.5,951.2 L3248.5,951.9 L3250.5,952.6 L3252.5,953.2 L3254.5,953.8 L3256.5,954.3 L3258.5,954.8 L3260.5,955.2 L3262.5,955.5 L3264.5,955.8 L3266.5,956.1 L3268.5,956.3" stroke="#dcfa00" stroke-width="3.8"/>
<circle cx="1909.6" cy="204.2" r="12" fill="#ebe31e"/>
<circle cx="2109.4" cy="205.9" r="12" fill="#ebe31e"/>
<circle cx="2309.3" cy="208.0" r="12" fill="#ebe31e"/>
<circle cx="2509.1" cy="213.0" r="12" fill="#ebe31e"/>
<circle cx="2709.0" cy="242.3" r="12" fill="#ebe31e"/>
<circle cx="2908.8" cy="524.7" r="12" fill="#ebe31e"/>
<circle cx="3108.6" cy="692.1" r="12" fill="#ebe31e"/>
<path d="M1909.6,204.0 L1911.6,204.0 L1913.6,204.0 L1915.6,204.0 L1917.6,204.1 L1919.6,204.1 L1921.6,204.1 L1923.6,204.1 L1925.6,204.1 L1927.6,204.1 L1929.6,204.2 L1931.6,204.2 L1933.6,204.2 L1935.6,204.2 L1937.6,204.2 L1939.6,204.2 L1941.6,204.3 L1943.6,204.3 L1945.6,204.3 L1947.6,204.3 L1949.6,204.3 L1951.6,204.3 L1953.6,204.4 L1955.6,204.4 L1957.6,204.4 L1959.6,204.4 L1961.6,204.4 L1963.6,204.5 L1965.6,204.5 L1967.6,204.5 L1969.6,204.5 L1971.6,204.5 L1973.6,204.5 L1975.6,204.6 L1977.6,204.6 L1979.6,204.6 L1981.6,204.6 L1983.6,204.6 L1985.7,204.6 L1987.7,204.7 L1989.7,204.7 L1991.7,204.7 L1993.7,204.7 L1995.7,204.7 L1997.7,204.7 L1999.7,204.8 L2001.7,204.8 L2003.7,204.8 L2005.7,204.8 L2007.7,204.8 L2009.7,204.8 L2011.7,204.9 L2013.7,204.9 L2015.7,204.9 L2017.7,204.9 L2019.7,204.9 L2021.7,204.9 L2023.7,205.0 L2025.7,205.0 L2027.7,205.0 L2029.7,205.0 L2031.7,205.0 L2033.7,205.0 L2035.7,205.1 L2037.7,205.1 L2039.7,205.1 L2041.7,205.1 L2043.7,205.1 L2045.7,205.1 L2047.7,205.2 L2049.7,205.2 L2051.7,205.2 L2053.7,205.2 L2055.7,205.2 L2057.7,205.3 L2059.7,205.3 L2061.7,205.3 L2063.7,205.3 L2065.7,205.3 L2067.7,205.3 L2069.7,205.4 L2071.7,205.4 L2073.7,205.4 L2075.7,205.4 L2077.7,205.4 L2079.7,205.4 L2081.7,205.5 L2083.7,205.5 L2085.7,205.5 L2087.7,205.5 L2089.7,205.5 L2091.7,205.5 L2093.7,205.6 L2095.7,205.6 L2097.7,205.6 L2099.7,205.6 L2101.7,205.6 L2103.7,205.7 L2105.7,205.7 L2107.7,205.7 L2109.7,205.7 L2111.7,205.7 L2113.7,205.7 L2115.7,205.8 L2117.7,205.8 L2119.7,205.8 L2121.7,205.8 L2123.7,205.8 L2125.7,205.8 L2127.7,205.9 L2129.7,205.9 L2131.7,205.9 L2133.7,205.9 L2135.7,205.9 L2137.8,205.9 L2139.8,205.9 L2141.8,206.0 L2143.8,206.0 L2145.8,206.0 L2147.8,206.0 L2149.8,206.0 L2151.8,206.0 L2153.8,206.1 L2155.8,206.1 L2157.8,206.1 L2159.8,206.1 L2161.8,206.1 L2163.8,206.1 L2165.8,206.1 L2167.8,206.2 L2169.8,206.2 L2171.8,206.2 L2173.8,206.2 L2175.8,206.2 L2177.8,206.2 L2179.8,206.2 L2181.8,206.3 L2183.8,206.3 L2185.8,206.3 L2187.8,206.3 L2189.8,206.3 L2191.8,206.3 L2193.8,206.3 L2195.8,206.4 L2197.8,206.4 L2199.8,206.4 L2201.8,206.4 L2203.8,206.4 L2205.8,206.4 L2207.8,206.5 L2209.8,206.5 L2211.8,206.5 L2213.8,206.5 L2215.8,206.5 L2217.8,206.5 L2219.8,206.5 L2221.8,206.6 L2223.8,206.6 L2225.8,206.6 L2227.8,206.6 L2229.8,206.6 L2231.8,206.6 L2233.8,206.7 L2235.8,206.7 L2237.8,206.7 L2239.8,206.7 L2241.8,206.7 L2243.8,206.8 L2245.8,206.8 L2247.8,206.8 L2249.8,206.8 L2251.8,206.8 L2253.8,206.9 L2255.8,206.9 L2257.8,206.9 L2259.8,206.9 L2261.8,206.9 L2263.8,207.0 L2265.8,207.0 L2267.8,207.0 L2269.8,207.0 L2271.8,207.0 L2273.8,207.1 L2275.8,207.1 L2277.8,207.1 L2279.8,207.1 L2281.8,207.2 L2283.8,207.2 L2285.8,207.2 L2287.9,207.2 L2289.9,207.3 L2291.9,207.3 L2293.9,207.3 L2295.9,207.3 L2297.9,207.4 L2299.9,207.4 L2301.9,207.4 L2303.9,207.4 L2305.9,207.5 L2307.9,207.5 L2309.9,207.5 L2311.9,207.6 L2313.9,207.6 L2315.9,207.6 L2317.9,207.7 L2319.9,207.7 L2321.9,207.8 L2323.9,207.8 L2325.9,207.9 L2327.9,207.9 L2329.9,208.0 L2331.9,208.0 L2333.9,208.1 L2335.9,208.1 L2337.9,208.2 L2339.9,208.2 L2341.9,208.3 L2343.9,208.4 L2345.9,208.4 L2347.9,208.5 L2349.9,208.6 L2351.9,208.6 L2353.9,208.7 L2355.9,208.7 L2357.9,208.8 L2359.9,208.9 L2361.9,208.9 L2363.9,209.0 L2365.9,209.1 L2367.9,209.1 L2369.9,209.2 L2371.9,209.3 L2373.9,209.3 L2375.9,209.4 L2377.9,209.5 L2379.9,209.5 L2381.9,209.6 L2383.9,209.6 L2385.9,209.7 L2387.9,209.8 L2389.9,209.8 L2391.9,209.9 L2393.9,209.9 L2395.9,210.0 L2397.9,210.0 L2399.9,210.1 L2401.9,210.1 L2403.9,210.2 L2405.9,210.2 L2407.9,210.3 L2409.9,210.3 L2411.9,210.3 L2413.9,210.4 L2415.9,210.4 L2417.9,210.5 L2419.9,210.5 L2421.9,210.6 L2423.9,210.6 L2425.9,210.6 L2427.9,210.7 L2429.9,210.7 L2431.9,210.8 L2433.9,210.8 L2435.9,210.9 L2437.9,210.9 L2440.0,210.9 L2442.0,211.0 L2444.0,211.0 L2446.0,211.1 L2448.0,211.1 L2450.0,211.1 L2452.0,211.2 L2454.0,211.2 L2456.0,211.3 L2458.0,211.3 L2460.0,211.3 L2462.0,211.4 L2464.0,211.4 L2466.0,211.4 L2468.0,211.5 L2470.0,211.5 L2472.0,211.5 L2474.0,211.6 L2476.0,211.6 L2478.0,211.6 L2480.0,211.7 L2482.0,211.7 L2484.0,211.7 L2486.0,211.7 L2488.0,211.8 L2490.0,211.8 L2492.0,211.8 L2494.0,211.8 L2496.0,211.9 L2498.0,211.9 L2500.0,211.9 L2502.0,211.9 L2504.0,212.0 L2506.0,212.0 L2508.0,212.0 L2510.0,212.0 L2512.0,212.0 L2514.0,212.0 L2516.0,212.1 L2518.0,212.1 L2520.0,212.1 L2522.0,212.1 L2524.0,212.1 L2526.0,212.1 L2528.0,212.1 L2530.0,212.1 L2532.0,212.1 L2534.0,212.1 L2536.0,212.2 L2538.0,212.2 L2540.0,212.2 L2542.0,212.2 L2544.0,212.2 L2546.0,212.2 L2548.0,212.2 L2550.0,212.2 L2552.0,212.2 L2554.0,212.2 L2556.0,212.2 L2558.0,212.2 L2560.0,212.2 L2562.0,212.3 L2564.0,212.3 L2566.0,212.3 L2568.0,212.3 L2570.0,212.3 L2572.0,212.3 L2574.0,212.3 L2576.0,212.3 L2578.0,212.3 L2580.0,212.3 L2582.0,212.4 L2584.0,212.4 L2586.0,212.4 L2588.0,212.4 L2590.1,212.4 L2592.1,212.4 L2594.1,212.5 L2596.1,212.5 L2598.1,212.5 L2600.1,212.5 L2602.1,212.6 L2604.1,212.6 L2606.1,212.6 L2608.1,212.7 L2610.1,212.8 L2612.1,212.8 L2614.1,212.9 L2616.1,213.0 L2618.1,213.1 L2620.1,213.2 L2622.1,213.3 L2624.1,213.4 L2626.1,213.5 L2628.1,213.6 L2630.1,213.8 L2632.1,213.9 L2634.1,214.1 L2636.1,214.2 L2638.1,214.4 L2640.1,214.6 L2642.1,214.8 L2644.1,214.9 L2646.1,215.1 L2648.1,215.3 L2650.1,215.5 L2652.1,215.8 L2654.1,216.0 L2656.1,216.2 L2658.1,216.5 L2660.1,216.8 L2662.1,217.1 L2664.1,217.4 L2666.1,217.7 L2668.1,218.2 L2670.1,218.6 L2672.1,219.1 L2674.1,219.6 L2676.1,220.2 L2678.1,220.8 L2680.1,221.5 L2682.1,222.2 L2684.1,223.0 L2686.1,223.8 L2688.1,224.7 L2690.1,225.6 L2692.1,226.6 L2694.1,227.7 L2696.1,228.8 L2698.1,230.0 L2700.1,231.3 L2702.1,232.6 L2704.1,234.0 L2706.1,235.4 L2708.1,236.8 L2710.1,238.2 L2712.1,239.6 L2714.1,240.9 L2716.1,242.3 L2718.1,243.7 L2720.1,245.1 L2722.1,246.6 L2724.1,248.1 L2726.1,249.6 L2728.1,251.2 L2730.1,252.9 L2732.1,254.7 L2734.1,256.7 L2736.1,258.7 L2738.1,260.9 L2740.2,263.3 L2742.2,265.8 L2744.2,268.4 L2746.2,271.1 L2748.2,273.9 L2750.2,276.7 L2752.2,279.5 L2754.2,282.4 L2756.2,285.2 L2758.2,288.1 L2760.2,290.9 L2762.2,293.7 L2764.2,296.6 L2766.2,299.5 L2768.2,302.3 L2770.2,305.1 L2772.2,308.0 L2774.2,310.7 L2776.2,313.4 L2778.2,316.0 L2780.2,318.5 L2782.2,320.9 L2784.2,323.2 L2786.2,325.4 L2788.2,327.5 L2790.2,329.5 L2792.2,331.5 L2794.2,333.4 L2796.2,335.3 L2798.2,337.2 L2800.2,339.0 L2802.2,340.9 L2804.2,342.6 L2806.2,344.4 L2808.2,346.1 L2810.2,347.7 L2812.2,349.3 L2814.2,350.8 L2816.2,352.3 L2818.2,353.7 L2820.2,355.2 L2822.2,356.5 L2824.2,357.9 L2826.2,359.3 L2828.2,360.6 L2830.2,362.0 L2832.2,363.4 L2834.2,364.7 L2836.2,366.0 L2838.2,367.4 L2840.2,368.7 L2842.2,370.0 L2844.2,371.3 L2846.2,372.6 L2848.2,373.8 L2850.2,375.0 L2852.2,376.2 L2854.2,377.4 L2856.2,378.5 L2858.2,379.7 L2860.2,380.8 L2862.2,381.8 L2864.2,382.9 L2866.2,383.9 L2868.2,384.9 L2870.2,385.9 L2872.2,386.9 L2874.2,387.9 L2876.2,388.9 L2878.2,389.8 L2880.2,390.7 L2882.2,391.6 L2884.2,392.5 L2886.2,393.4 L2888.2,394.3 L2890.2,395.1 L2892.3,395.9 L2894.3,396.8 L2896.3,397.6 L2898.3,398.3 L2900.3,399.1 L2902.3,399.8 L2904.3,400.6 L2906.3,401.2 L2908.3,401.9 L2910.3,402.6 L2912.3,403.2 L2914.3,403.8 L2916.3,404.4 L2918.3,405.0 L2920.3,405.6 L2922.3,406.2 L2924.3,406.8 L2926.3,407.4 L2928.3,408.0 L2930.3,408.7 L2932.3,409.3 L2934.3,410.0 L2936.3,410.7 L2938.3,411.4 L2940.3,412.1 L2942.3,412.8 L2944.3,413.5 L2946.3,414.3 L2948.3,415.0 L2950.3,415.8 L2952.3,416.6 L2954.3,417.4 L2956.3,418.2 L2958.3,419.0 L2960.3,419.9 L2962.3,420.7 L2964.3,421.6 L2966.3,422.5 L2968.3,423.4 L2970.3,424.4 L2972.3,425.3 L2974.3,426.3 L2976.3,427.2 L2978.3,428.2 L2980.3,429.2 L2982.3,430.2 L2984.3,431.3 L2986.3,432.3 L2988.3,433.4 L2990.3,434.5 L2992.3,435.6 L2994.3,436.8 L2996.3,437.9 L2998.3,439.1 L3000.3,440.3 L3002.3,441.6 L3004.3,442.8 L3006.3,444.1 L3008.3,445.4 L3010.3,446.8 L3012.3,448.2 L3014.3,449.6 L3016.3,451.0 L3018.3,452.5 L3020.3,454.0 L3022.3,455.6 L3024.3,457.3 L3026.3,459.0 L3028.3,460.8 L3030.3,462.6 L3032.3,464.6 L3034.3,466.7 L3036.3,468.8 L3038.3,471.1 L3040.3,473.5 L3042.4,476.0 L3044.4,478.6 L3046.4,481.3 L3048.4,484.1 L3050.4,487.1 L3052.4,490.2 L3054.4,493.3 L3056.4,496.6 L3058.4,500.1 L3060.4,503.6 L3062.4,507.2 L3064.4,510.9 L3066.4,514.7 L3068.4,518.6 L3070.4,522.5 L3072.4,526.5 L3074.4,530.5 L3076.4,534.5 L3078.4,538.5 L3080.4,542.4 L3082.4,546.4 L3084.4,550.3 L3086.4,554.2 L3088.4,558.0 L3090.4,561.8 L3092.4,565.5 L3094.4,569.3 L3096.4,573.0 L3098.4,576.7 L3100.4,580.5 L3102.4,584.3 L3104.4,588.1 L3106.4,591.9 L3108.4,595.8 L3110.4,599.7 L3112.4,603.5 L3114.4,607.4 L3116.4,611.2 L3118.4,615.1 L3120.4,618.9 L3122.4,622.6 L3124.4,626.4 L3126.4,630.1 L3128.4,633.7 L3130.4,637.3 L3132.4,640.8 L3134.4,644.3 L3136.4,647.6 L3138.4,650.9 L3140.4,654.0 L3142.4,656.9 L3144.4,659.8 L3146.4,662.5 L3148.4,665.0 L3150.4,667.5 L3152.4,669.8 L3154.4,672.1 L3156.4,674.2 L3158.4,676.3 L3160.4,678.4 L3162.4,680.4 L3164.4,682.4 L3166.4,684.3 L3168.4,686.3 L3170.4,688.2 L3172.4,690.1 L3174.4,692.0 L3176.4,693.8 L3178.4,695.6 L3180.4,697.4 L3182.4,699.1 L3184.4,700.8 L3186.4,702.4 L3188.4,703.9 L3190.4,705.3 L3192.4,706.6 L3194.5,707.9 L3196.5,709.1 L3198.5,710.3 L3200.5,711.4 L3202.5,712.5 L3204.5,713.6 L3206.5,714.6 L3208.5,715.6 L3210.5,716.6 L3212.5,717.6 L3214.5,718.5 L3216.5,719.5 L3218.5,720.4 L3220.5,721.3 L3222.5,722.2 L3224.5,723.0 L3226.5,723.9 L3228.5,724.7 L3230.5,725.5 L3232.5,726.3 L3234.5,727.1 L3236.5,727.9 L3238.5,728.7 L3240.5,729.4 L3242.5,730.2 L3244.5,730.9 L3246.5,731.6 L3248.5,732.3 L3250.5,733.0 L3252.5,733.6 L3254.5,734.3 L3256.5,734.9 L3258.5,735.5 L3260.5,736.1 L3262.5,736.7 L3264.5,737.3 L3266.5,737.9 L3268.5,738.5" stroke="#60b04c" stroke-width="7.8"/>
<path d="M1909.6,204.0 L1911.6,204.0 L1913.6,204.0 L1915.6,204.0 L1917.6,204.1 L1919.6,204.1 L1921.6,204.1 L1923.6,204.1 L1925.6,204.1 L1927.6,204.1 L1929.6,204.2 L1931.6,204.2 L1933.6,204.2 L1935.6,204.2 L1937.6,204.2 L1939.6,204.2 L1941.6,204.3 L1943.6,204.3 L1945.6,204.3 L1947.6,204.3 L1949.6,204.3 L1951.6,204.3 L1953.6,204.4 L1955.6,204.4 L1957.6,204.4 L1959.6,204.4 L1961.6,204.4 L1963.6,204.5 L1965.6,204.5 L1967.6,204.5 L1969.6,204.5 L1971.6,204.5 L1973.6,204.5 L1975.6,204.6 L1977.6,204.6 L1979.6,204.6 L1981.6,204.6 L1983.6,204.6 L1985.7,204.6 L1987.7,204.7 L1989.7,204.7 L1991.7,204.7 L1993.7,204.7 L1995.7,204.7 L1997.7,204.7 L1999.7,204.8 L2001.7,204.8 L2003.7,204.8 L2005.7,204.8 L2007.7,204.8 L2009.7,204.8 L2011.7,204.9 L2013.7,204.9 L2015.7,204.9 L2017.7,204.9 L2019.7,204.9 L2021.7,204.9 L2023.7,205.0 L2025.7,205.0 L2027.7,205.0 L2029.7,205.0 L2031.7,205.0 L2033.7,205.0 L2035.7,205.1 L2037.7,205.1 L2039.7,205.1 L2041.7,205.1 L2043.7,205.1 L2045.7,205.1 L2047.7,205.2 L2049.7,205.2 L2051.7,205.2 L2053.7,205.2 L2055.7,205.2 L2057.7,205.3 L2059.7,205.3 L2061.7,205.3 L2063.7,205.3 L2065.7,205.3 L2067.7,205.3 L2069.7,205.4 L2071.7,205.4 L2073.7,205.4 L2075.7,205.4 L2077.7,205.4 L2079.7,205.4 L2081.7,205.5 L2083.7,205.5 L2085.7,205.5 L2087.7,205.5 L2089.7,205.5 L2091.7,205.5 L2093.7,205.6 L2095.7,205.6 L2097.7,205.6 L2099.7,205.6 L2101.7,205.6 L2103.7,205.7 L2105.7,205.7 L2107.7,205.7 L2109.7,205.7 L2111.7,205.7 L2113.7,205.7 L2115.7,205.8 L2117.7,205.8 L2119.7,205.8 L2121.7,205.8 L2123.7,205.8 L2125.7,205.8 L2127.7,205.9 L2129.7,205.9 L2131.7,205.9 L2133.7,205.9 L2135.7,205.9 L2137.8,205.9 L2139.8,205.9 L2141.8,206.0 L2143.8,206.0 L2145.8,206.0 L2147.8,206.0 L2149.8,206.0 L2151.8,206.0 L2153.8,206.1 L2155.8,206.1 L2157.8,206.1 L2159.8,206.1 L2161.8,206.1 L2163.8,206.1 L2165.8,206.1 L2167.8,206.2 L2169.8,206.2 L2171.8,206.2 L2173.8,206.2 L2175.8,206.2 L2177.8,206.2 L2179.8,206.2 L2181.8,206.3 L2183.8,206.3 L2185.8,206.3 L2187.8,206.3 L2189.8,206.3 L2191.8,206.3 L2193.8,206.3 L2195.8,206.4 L2197.8,206.4 L2199.8,206.4 L2201.8,206.4 L2203.8,206.4 L2205.8,206.4 L2207.8,206.5 L2209.8,206.5 L2211.8,206.5 L2213.8,206.5 L2215.8,206.5 L2217.8,206.5 L2219.8,206.5 L2221.8,206.6 L2223.8,206.6 L2225.8,206.6 L2227.8,206.6 L2229.8,206.6 L2231.8,206.6 L2233.8,206.7 L2235.8,206.7 L2237.8,206.7 L2239.8,206.7 L2241.8,206.7 L2243.8,206.8 L2245.8,206.8 L2247.8,206.8 L2249.8,206.8 L2251.8,206.8 L2253.8,206.9 L2255.8,206.9 L2257.8,206.9 L2259.8,206.9 L2261.8,206.9 L2263.8,207.0 L2265.8,207.0 L2267.8,207.0 L2269.8,207.0 L2271.8,207.0 L2273.8,207.1 L2275.8,207.1 L2277.8,207.1 L2279.8,207.1 L2281.8,207.2 L2283.8,207.2 L2285.8,207.2 L2287.9,207.2 L2289.9,207.3 L2291.9,207.3 L2293.9,207.3 L2295.9,207.3 L2297.9,207.4 L2299.9,207.4 L2301.9,207.4 L2303.9,207.4 L2305.9,207.5 L2307.9,207.5 L2309.9,207.5 L2311.9,207.6 L2313.9,207.6 L2315.9,207.6 L2317.9,207.7 L2319.9,207.7 L2321.9,207.8 L2323.9,207.8 L2325.9,207.9 L2327.9,207.9 L2329.9,208.0 L2331.9,208.0 L2333.9,208.1 L2335.9,208.1 L2337.9,208.2 L2339.9,208.2 L2341.9,208.3 L2343.9,208.4 L2345.9,208.4 L2347.9,208.5 L2349.9,208.6 L2351.9,208.6 L2353.9,208.7 L2355.9,208.7 L2357.9,208.8 L2359.9,208.9 L2361.9,208.9 L2363.9,209.0 L2365.9,209.1 L2367.9,209.1 L2369.9,209.2 L2371.9,209.3 L2373.9,209.3 L2375.9,209.4 L2377.9,209.5 L2379.9,209.5 L2381.9,209.6 L2383.9,209.6 L2385.9,209.7 L2387.9,209.8 L2389.9,209.8 L2391.9,209.9 L2393.9,209.9 L2395.9,210.0 L2397.9,210.0 L2399.9,210.1 L2401.9,210.1 L2403.9,210.2 L2405.9,210.2 L2407.9,210.3 L2409.9,210.3 L2411.9,210.3 L2413.9,210.4 L2415.9,210.4 L2417.9,210.5 L2419.9,210.5 L2421.9,210.6 L2423.9,210.6 L2425.9,210.6 L2427.9,210.7 L2429.9,210.7 L2431.9,210.8 L2433.9,210.8 L2435.9,210.9 L2437.9,210.9 L2440.0,210.9 L2442.0,211.0 L2444.0,211.0 L2446.0,211.1 L2448.0,211.1 L2450.0,211.1 L2452.0,211.2 L2454.0,211.2 L2456.0,211.3 L2458.0,211.3 L2460.0,211.3 L2462.0,211.4 L2464.0,211.4 L2466.0,211.4 L2468.0,211.5 L2470.0,211.5 L2472.0,211.5 L2474.0,211.6 L2476.0,211.6 L2478.0,211.6 L2480.0,211.7 L2482.0,211.7 L2484.0,211.7 L2486.0,211.7 L2488.0,211.8 L2490.0,211.8 L2492.0,211.8 L2494.0,211.8 L2496.0,211.9 L2498.0,211.9 L2500.0,211.9 L2502.0,211.9 L2504.0,212.0 L2506.0,212.0 L2508.0,212.0 L2510.0,212.0 L2512.0,212.0 L2514.0,212.0 L2516.0,212.1 L2518.0,212.1 L2520.0,212.1 L2522.0,212.1 L2524.0,212.1 L2526.0,212.1 L2528.0,212.1 L2530.0,212.1 L2532.0,212.1 L2534.0,212.1 L2536.0,212.2 L2538.0,212.2 L2540.0,212.2 L2542.0,212.2 L2544.0,212.2 L2546.0,212.2 L2548.0,212.2 L2550.0,212.2 L2552.0,212.2 L2554.0,212.2 L2556.0,212.2 L2558.0,212.2 L2560.0,212.2 L2562.0,212.3 L2564.0,212.3 L2566.0,212.3 L2568.0,212.3 L2570.0,212.3 L2572.0,212.3 L2574.0,212.3 L2576.0,212.3 L2578.0,212.3 L2580.0,212.3 L2582.0,212.4 L2584.0,212.4 L2586.0,212.4 L2588.0,212.4 L2590.1,212.4 L2592.1,212.4 L2594.1,212.5 L2596.1,212.5 L2598.1,212.5 L2600.1,212.5 L2602.1,212.6 L2604.1,212.6 L2606.1,212.6 L2608.1,212.7 L2610.1,212.8 L2612.1,212.8 L2614.1,212.9 L2616.1,213.0 L2618.1,213.1 L2620.1,213.2 L2622.1,213.3 L2624.1,213.4 L2626.1,213.5 L2628.1,213.6 L2630.1,213.8 L2632.1,213.9 L2634.1,214.1 L2636.1,214.2 L2638.1,214.4 L2640.1,214.6 L2642.1,214.8 L2644.1,214.9 L2646.1,215.1 L2648.1,215.3 L2650.1,215.5 L2652.1,215.8 L2654.1,216.0 L2656.1,216.2 L2658.1,216.5 L2660.1,216.8 L2662.1,217.1 L2664.1,217.4 L2666.1,217.7 L2668.1,218.2 L2670.1,218.6 L2672.1,219.1 L2674.1,219.6 L2676.1,220.2 L2678.1,220.8 L2680.1,221.5 L2682.1,222.2 L2684.1,223.0 L2686.1,223.8 L2688.1,224.7 L2690.1,225.6 L2692.1,226.6 L2694.1,227.7 L2696.1,228.8 L2698.1,230.0 L2700.1,231.3 L2702.1,232.6 L2704.1,234.0 L2706.1,235.4 L2708.1,236.8 L2710.1,238.2 L2712.1,239.6 L2714.1,240.9 L2716.1,242.3 L2718.1,243.7 L2720.1,245.1 L2722.1,246.6 L2724.1,248.1 L2726.1,249.6 L2728.1,251.2 L2730.1,252.9 L2732.1,254.7 L2734.1,256.7 L2736.1,258.7 L2738.1,260.9 L2740.2,263.3 L2742.2,265.8 L2744.2,268.4 L2746.2,271.1 L2748.2,273.9 L2750.2,276.7 L2752.2,279.5 L2754.2,282.4 L2756.2,285.2 L2758.2,288.1 L2760.2,290.9 L2762.2,293.7 L2764.2,296.6 L2766.2,299.5 L2768.2,302.3 L2770.2,305.1 L2772.2,308.0 L2774.2,310.7 L2776.2,313.4 L2778.2,316.0 L2780.2,318.5 L2782.2,320.9 L2784.2,323.2 L2786.2,325.4 L2788.2,327.5 L2790.2,329.5 L2792.2,331.5 L2794.2,333.4 L2796.2,335.3 L2798.2,337.2 L2800.2,339.0 L2802.2,340.9 L2804.2,342.6 L2806.2,344.4 L2808.2,346.1 L2810.2,347.7 L2812.2,349.3 L2814.2,350.8 L2816.2,352.3 L2818.2,353.7 L2820.2,355.2 L2822.2,356.5 L2824.2,357.9 L2826.2,359.3 L2828.2,360.6 L2830.2,362.0 L2832.2,363.4 L2834.2,364.7 L2836.2,366.0 L2838.2,367.4 L2840.2,368.7 L2842.2,370.0 L2844.2,371.3 L2846.2,372.6 L2848.2,373.8 L2850.2,375.0 L2852.2,376.2 L2854.2,377.4 L2856.2,378.5 L2858.2,379.7 L2860.2,380.8 L2862.2,381.8 L2864.2,382.9 L2866.2,383.9 L2868.2,384.9 L2870.2,385.9 L2872.2,386.9 L2874.2,387.9 L2876.2,388.9 L2878.2,389.8 L2880.2,390.7 L2882.2,391.6 L2884.2,392.5 L2886.2,393.4 L2888.2,394.3 L2890.2,395.1 L2892.3,395.9 L2894.3,396.8 L2896.3,397.6 L2898.3,398.3 L2900.3,399.1 L2902.3,399.8 L2904.3,400.6 L2906.3,401.2 L2908.3,401.9 L2910.3,402.6 L2912.3,403.2 L2914.3,403.8 L2916.3,404.4 L2918.3,405.0 L2920.3,405.6 L2922.3,406.2 L2924.3,406.8 L2926.3,407.4 L2928.3,408.0 L2930.3,408.7 L2932.3,409.3 L2934.3,410.0 L2936.3,410.7 L2938.3,411.4 L2940.3,412.1 L2942.3,412.8 L2944.3,413.5 L2946.3,414.3 L2948.3,415.0 L2950.3,415.8 L2952.3,416.6 L2954.3,417.4 L2956.3,418.2 L2958.3,419.0 L2960.3,419.9 L2962.3,420.7 L2964.3,421.6 L2966.3,422.5 L2968.3,423.4 L2970.3,424.4 L2972.3,425.3 L2974.3,426.3 L2976.3,427.2 L2978.3,428.2 L2980.3,429.2 L2982.3,430.2 L2984.3,431.3 L2986.3,432.3 L2988.3,433.4 L2990.3,434.5 L2992.3,435.6 L2994.3,436.8 L2996.3,437.9 L2998.3,439.1 L3000.3,440.3 L3002.3,441.6 L3004.3,442.8 L3006.3,444.1 L3008.3,445.4 L3010.3,446.8 L3012.3,448.2 L3014.3,449.6 L3016.3,451.0 L3018.3,452.5 L3020.3,454.0 L3022.3,455.6 L3024.3,457.3 L3026.3,459.0 L3028.3,460.8 L3030.3,462.6 L3032.3,464.6 L3034.3,466.7 L3036.3,468.8 L3038.3,471.1 L3040.3,473.5 L3042.4,476.0 L3044.4,478.6 L3046.4,481.3 L3048.4,484.1 L3050.4,487.1 L3052.4,490.2 L3054.4,493.3 L3056.4,496.6 L3058.4,500.1 L3060.4,503.6 L3062.4,507.2 L3064.4,510.9 L3066.4,514.7 L3068.4,518.6 L3070.4,522.5 L3072.4,526.5 L3074.4,530.5 L3076.4,534.5 L3078.4,538.5 L3080.4,542.4 L3082.4,546.4 L3084.4,550.3 L3086.4,554.2 L3088.4,558.0 L3090.4,561.8 L3092.4,565.5 L3094.4,569.3 L3096.4,573.0 L3098.4,576.7 L3100.4,580.5 L3102.4,584.3 L3104.4,588.1 L3106.4,591.9 L3108.4,595.8 L3110.4,599.7 L3112.4,603.5 L3114.4,607.4 L3116.4,611.2 L3118.4,615.1 L3120.4,618.9 L3122.4,622.6 L3124.4,626.4 L3126.4,630.1 L3128.4,633.7 L3130.4,637.3 L3132.4,640.8 L3134.4,644.3 L3136.4,647.6 L3138.4,650.9 L3140.4,654.0 L3142.4,656.9 L3144.4,659.8 L3146.4,662.5 L3148.4,665.0 L3150.4,667.5 L3152.4,669.8 L3154.4,672.1 L3156.4,674.2 L3158.4,676.3 L3160.4,678.4 L3162.4,680.4 L3164.4,682.4 L3166.4,684.3 L3168.4,686.3 L3170.4,688.2 L3172.4,690.1 L3174.4,692.0 L3176.4,693.8 L3178.4,695.6 L3180.4,697.4 L3182.4,699.1 L3184.4,700.8 L3186.4,702.4 L3188.4,703.9 L3190.4,705.3 L3192.4,706.6 L3194.5,707.9 L3196.5,709.1 L3198.5,710.3 L3200.5,711.4 L3202.5,712.5 L3204.5,713.6 L3206.5,714.6 L3208.5,715.6 L3210.5,716.6 L3212.5,717.6 L3214.5,718.5 L3216.5,719.5 L3218.5,720.4 L3220.5,721.3 L3222.5,722.2 L3224.5,723.0 L3226.5,723.9 L3228.5,724.7 L3230.5,725.5 L3232.5,726.3 L3234.5,727.1 L3236.5,727.9 L3238.5,728.7 L3240.5,729.4 L3242.5,730.2 L3244.5,730.9 L3246.5,731.6 L3248.5,732.3 L3250.5,733.0 L3252.5,733.6 L3254.5,734.3 L3256.5,734.9 L3258.5,735.5 L3260.5,736.1 L3262.5,736.7 L3264.5,737.3 L3266.5,737.9 L3268.5,738.5" stroke="#52c63e" stroke-width="3.8"/>
<polygon points="1909.6,186.0 1924.6,213.0 1894.6,213.0" fill="#5cb833"/>
<polygon points="2109.4,187.7 2124.4,214.7 2094.4,214.7" fill="#5cb833"/>
<polygon points="2309.3,189.5 2324.3,216.5 2294.3,216.5" fill="#5cb833"/>
<polygon points="2509.1,194.0 2524.1,221.0 2494.1,221.0" fill="#5cb833"/>
<polygon points="2709.0,219.3 2724.0,246.3 2694.0,246.3" fill="#5cb833"/>
<polygon points="2908.8,384.1 2923.8,411.1 2893.8,411.1" fill="#5cb833"/>
<polygon points="3108.6,578.2 3123.6,605.2 3093.6,605.2" fill="#5cb833"/>
<path d="M1909.6,204.0 L1911.6,204.0 L1913.6,204.0 L1915.6,204.0 L1917.6,204.1 L1919.6,204.1 L1921.6,204.1 L1923.6,204.1 L1925.6,204.1 L1927.6,204.1 L1929.6,204.2 L1931.6,204.2 L1933.6,204.2 L1935.6,204.2 L1937.6,204.2 L1939.6,204.2 L1941.6,204.2 L1943.6,204.3 L1945.6,204.3 L1947.6,204.3 L1949.6,204.3 L1951.6,204.3 L1953.6,204.3 L1955.6,204.3 L1957.6,204.4 L1959.6,204.4 L1961.6,204.4 L1963.6,204.4 L1965.6,204.4 L1967.6,204.4 L1969.6,204.5 L1971.6,204.5 L1973.6,204.5 L1975.6,204.5 L1977.6,204.5 L1979.6,204.5 L1981.6,204.5 L1983.6,204.6 L1985.7,204.6 L1987.7,204.6 L1989.7,204.6 L1991.7,204.6 L1993.7,204.6 L1995.7,204.6 L1997.7,204.7 L1999.7,204.7 L2001.7,204.7 L2003.7,204.7 L2005.7,204.7 L2007.7,204.7 L2009.7,204.8 L2011.7,204.8 L2013.7,204.8 L2015.7,204.8 L2017.7,204.8 L2019.7,204.8 L2021.7,204.8 L2023.7,204.9 L2025.7,204.9 L2027.7,204.9 L2029.7,204.9 L2031.7,204.9 L2033.7,204.9 L2035.7,204.9 L2037.7,205.0 L2039.7,205.0 L2041.7,205.0 L2043.7,205.0 L2045.7,205.0 L2047.7,205.0 L2049.7,205.1 L2051.7,205.1 L2053.7,205.1 L2055.7,205.1 L2057.7,205.1 L2059.7,205.1 L2061.7,205.1 L2063.7,205.2 L2065.7,205.2 L2067.7,205.2 L2069.7,205.2 L2071.7,205.2 L2073.7,205.2 L2075.7,205.2 L2077.7,205.3 L2079.7,205.3 L2081.7,205.3 L2083.7,205.3 L2085.7,205.3 L2087.7,205.3 L2089.7,205.4 L2091.7,205.4 L2093.7,205.4 L2095.7,205.4 L2097.7,205.4 L2099.7,205.4 L2101.7,205.4 L2103.7,205.5 L2105.7,205.5 L2107.7,205.5 L2109.7,205.5 L2111.7,205.5 L2113.7,205.5 L2115.7,205.5 L2117.7,205.6 L2119.7,205.6 L2121.7,205.6 L2123.7,205.6 L2125.7,205.6 L2127.7,205.6 L2129.7,205.6 L2131.7,205.7 L2133.7,205.7 L2135.7,205.7 L2137.8,205.7 L2139.8,205.7 L2141.8,205.7 L2143.8,205.7 L2145.8,205.7 L2147.8,205.8 L2149.8,205.8 L2151.8,205.8 L2153.8,205.8 L2155.8,205.8 L2157.8,205.8 L2159.8,205.8 L2161.8,205.8 L2163.8,205.9 L2165.8,205.9 L2167.8,205.9 L2169.8,205.9 L2171.8,205.9 L2173.8,205.9 L2175.8,205.9 L2177.8,205.9 L2179.8,206.0 L2181.8,206.0 L2183.8,206.0 L2185.8,206.0 L2187.8,206.0 L2189.8,206.0 L2191.8,206.0 L2193.8,206.0 L2195.8,206.0 L2197.8,206.1 L2199.8,206.1 L2201.8,206.1 L2203.8,206.1 L2205.8,206.1 L2207.8,206.1 L2209.8,206.1 L2211.8,206.1 L2213.8,206.2 L2215.8,206.2 L2217.8,206.2 L2219.8,206.2 L2221.8,206.2 L2223.8,206.2 L2225.8,206.2 L2227.8,206.3 L2229.8,206.3 L2231.8,206.3 L2233.8,206.3 L2235.8,206.3 L2237.8,206.3 L2239.8,206.3 L2241.8,206.4 L2243.8,206.4 L2245.8,206.4 L2247.8,206.4 L2249.8,206.4 L2251.8,206.4 L2253.8,206.5 L2255.8,206.5 L2257.8,206.5 L2259.8,206.5 L2261.8,206.5 L2263.8,206.5 L2265.8,206.6 L2267.8,206.6 L2269.8,206.6 L2271.8,206.6 L2273.8,206.6 L2275.8,206.6 L2277.8,206.7 L2279.8,206.7 L2281.8,206.7 L2283.8,206.7 L2285.8,206.7 L2287.9,206.8 L2289.9,206.8 L2291.9,206.8 L2293.9,206.8 L2295.9,206.9 L2297.9,206.9 L2299.9,206.9 L2301.9,206.9 L2303.9,207.0 L2305.9,207.0 L2307.9,207.0 L2309.9,207.0 L2311.9,207.1 L2313.9,207.1 L2315.9,207.1 L2317.9,207.2 L2319.9,207.2 L2321.9,207.2 L2323.9,207.3 L2325.9,207.3 L2327.9,207.4 L2329.9,207.4 L2331.9,207.5 L2333.9,207.5 L2335.9,207.6 L2337.9,207.6 L2339.9,207.7 L2341.9,207.7 L2343.9,207.8 L2345.9,207.9 L2347.9,207.9 L2349.9,208.0 L2351.9,208.0 L2353.9,208.1 L2355.9,208.2 L2357.9,208.2 L2359.9,208.3 L2361.9,208.3 L2363.9,208.4 L2365.9,208.5 L2367.9,208.5 L2369.9,208.6 L2371.9,208.6 L2373.9,208.7 L2375.9,208.8 L2377.9,208.8 L2379.9,208.9 L2381.9,208.9 L2383.9,209.0 L2385.9,209.0 L2387.9,209.1 L2389.9,209.2 L2391.9,209.2 L2393.9,209.3 L2395.9,209.3 L2397.9,209.3 L2399.9,209.4 L2401.9,209.4 L2403.9,209.5 L2405.9,209.5 L2407.9,209.6 L2409.9,209.6 L2411.9,209.6 L2413.9,209.7 L2415.9,209.7 L2417.9,209.7 L2419.9,209.8 L2421.9,209.8 L2423.9,209.9 L2425.9,209.9 L2427.9,209.9 L2429.9,210.0 L2431.9,210.0 L2433.9,210.1 L2435.9,210.1 L2437.9,210.1 L2440.0,210.2 L2442.0,210.2 L2444.0,210.3 L2446.0,210.3 L2448.0,210.3 L2450.0,210.4 L2452.0,210.4 L2454.0,210.4 L2456.0,210.5 L2458.0,210.5 L2460.0,210.5 L2462.0,210.6 L2464.0,210.6 L2466.0,210.6 L2468.0,210.7 L2470.0,210.7 L2472.0,210.7 L2474.0,210.7 L2476.0,210.8 L2478.0,210.8 L2480.0,210.8 L2482.0,210.8 L2484.0,210.9 L2486.0,210.9 L2488.0,210.9 L2490.0,210.9 L2492.0,210.9 L2494.0,210.9 L2496.0,211.0 L2498.0,211.0 L2500.0,211.0 L2502.0,211.0 L2504.0,211.0 L2506.0,211.0 L2508.0,211.0 L2510.0,211.0 L2512.0,211.0 L2514.0,211.0 L2516.0,211.0 L2518.0,211.0 L2520.0,211.0 L2522.0,211.0 L2524.0,211.0 L2526.0,210.9 L2528.0,210.9 L2530.0,210.9 L2532.0,210.9 L2534.0,210.9 L2536.0,210.9 L2538.0,210.9 L2540.0,210.9 L2542.0,210.8 L2544.0,210.8 L2546.0,210.8 L2548.0,210.8 L2550.0,210.8 L2552.0,210.8 L2554.0,210.8 L2556.0,210.7 L2558.0,210.7 L2560.0,210.7 L2562.0,210.7 L2564.0,210.7 L2566.0,210.7 L2568.0,210.6 L2570.0,210.6 L2572.0,210.6 L2574.0,210.6 L2576.0,210.6 L2578.0,210.6 L2580.0,210.6 L2582.0,210.6 L2584.0,210.5 L2586.0,210.5 L2588.0,210.5 L2590.1,210.5 L2592.1,210.5 L2594.1,210.5 L2596.1,210.5 L2598.1,210.5 L2600.1,210.5 L2602.1,210.5 L2604.1,210.6 L2606.1,210.6 L2608.1,210.6 L2610.1,210.6 L2612.1,210.7 L2614.1,210.7 L2616.1,210.8 L2618.1,210.9 L2620.1,210.9 L2622.1,211.0 L2624.1,211.1 L2626.1,211.2 L2628.1,211.3 L2630.1,211.4 L2632.1,211.5 L2634.1,211.7 L2636.1,211.8 L2638.1,211.9 L2640.1,212.0 L2642.1,212.2 L2644.1,212.3 L2646.1,212.5 L2648.1,212.7 L2650.1,212.8 L2652.1,213.0 L2654.1,213.2 L2656.1,213.4 L2658.1,213.6 L2660.1,213.8 L2662.1,214.1 L2664.1,214.3 L2666.1,214.6 L2668.1,215.0 L2670.1,215.4 L2672.1,215.8 L2674.1,216.3 L2676.1,216.8 L2678.1,217.3 L2680.1,217.9 L2682.1,218.6 L2684.1,219.3 L2686.1,220.0 L2688.1,220.8 L2690.1,221.7 L2692.1,222.6 L2694.1,223.7 L2696.1,224.8 L2698.1,226.0 L2700.1,227.3 L2702.1,228.6 L2704.1,230.0 L2706.1,231.4 L2708.1,232.8 L2710.1,234.3 L2712.1,235.8 L2714.1,237.3 L2716.1,238.8 L2718.1,240.3 L2720.1,241.8 L2722.1,243.4 L2724.1,244.9 L2726.1,246.5 L2728.1,248.2 L2730.1,249.8 L2732.1,251.5 L2734.1,253.3 L2736.1,255.0 L2738.1,256.9 L2740.2,258.8 L2742.2,260.7 L2744.2,262.7 L2746.2,264.7 L2748.2,266.8 L2750.2,269.0 L2752.2,271.2 L2754.2,273.4 L2756.2,275.7 L2758.2,278.0 L2760.2,280.4 L2762.2,282.7 L2764.2,285.0 L2766.2,287.3 L2768.2,289.6 L2770.2,291.8 L2772.2,294.0 L2774.2,296.2 L2776.2,298.4 L2778.2,300.5 L2780.2,302.6 L2782.2,304.7 L2784.2,306.8 L2786.2,308.9 L2788.2,310.9 L2790.2,313.0 L2792.2,315.0 L2794.2,317.0 L2796.2,319.0 L2798.2,320.9 L2800.2,322.8 L2802.2,324.7 L2804.2,326.6 L2806.2,328.4 L2808.2,330.1 L2810.2,331.9 L2812.2,333.6 L2814.2,335.2 L2816.2,336.8 L2818.2,338.4 L2820.2,339.9 L2822.2,341.3 L2824.2,342.7 L2826.2,343.9 L2828.2,345.2 L2830.2,346.3 L2832.2,347.4 L2834.2,348.4 L2836.2,349.4 L2838.2,350.4 L2840.2,351.3 L2842.2,352.2 L2844.2,353.0 L2846.2,353.8 L2848.2,354.6 L2850.2,355.4 L2852.2,356.2 L2854.2,356.9 L2856.2,357.6 L2858.2,358.3 L2860.2,359.0 L2862.2,359.6 L2864.2,360.3 L2866.2,360.9 L2868.2,361.5 L2870.2,362.1 L2872.2,362.7 L2874.2,363.3 L2876.2,363.8 L2878.2,364.4 L2880.2,365.0 L2882.2,365.6 L2884.2,366.1 L2886.2,366.7 L2888.2,367.3 L2890.2,367.9 L2892.3,368.5 L2894.3,369.1 L2896.3,369.6 L2898.3,370.2 L2900.3,370.8 L2902.3,371.4 L2904.3,371.9 L2906.3,372.5 L2908.3,373.0 L2910.3,373.6 L2912.3,374.1 L2914.3,374.6 L2916.3,375.2 L2918.3,375.7 L2920.3,376.2 L2922.3,376.7 L2924.3,377.2 L2926.3,377.7 L2928.3,378.2 L2930.3,378.7 L2932.3,379.2 L2934.3,379.7 L2936.3,380.2 L2938.3,380.7 L2940.3,381.2 L2942.3,381.7 L2944.3,382.2 L2946.3,382.7 L2948.3,383.2 L2950.3,383.7 L2952.3,384.2 L2954.3,384.7 L2956.3,385.2 L2958.3,385.7 L2960.3,386.2 L2962.3,386.7 L2964.3,387.2 L2966.3,387.7 L2968.3,388.2 L2970.3,388.7 L2972.3,389.2 L2974.3,389.7 L2976.3,390.2 L2978.3,390.7 L2980.3,391.2 L2982.3,391.7 L2984.3,392.2 L2986.3,392.8 L2988.3,393.3 L2990.3,393.8 L2992.3,394.3 L2994.3,394.8 L2996.3,395.4 L2998.3,395.9 L3000.3,396.5 L3002.3,397.0 L3004.3,397.6 L3006.3,398.1 L3008.3,398.7 L3010.3,399.3 L3012.3,399.9 L3014.3,400.5 L3016.3,401.1 L3018.3,401.7 L3020.3,402.3 L3022.3,402.9 L3024.3,403.6 L3026.3,404.2 L3028.3,404.8 L3030.3,405.5 L3032.3,406.1 L3034.3,406.8 L3036.3,407.4 L3038.3,408.1 L3040.3,408.7 L3042.4,409.4 L3044.4,410.0 L3046.4,410.7 L3048.4,411.4 L3050.4,412.0 L3052.4,412.7 L3054.4,413.3 L3056.4,413.9 L3058.4,414.6 L3060.4,415.2 L3062.4,415.8 L3064.4,416.5 L3066.4,417.1 L3068.4,417.7 L3070.4,418.3 L3072.4,418.9 L3074.4,419.5 L3076.4,420.2 L3078.4,420.8 L3080.4,421.4 L3082.4,422.0 L3084.4,422.6 L3086.4,423.2 L3088.4,423.9 L3090.4,424.5 L3092.4,425.1 L3094.4,425.8 L3096.4,426.4 L3098.4,427.0 L3100.4,427.7 L3102.4,428.3 L3104.4,429.0 L3106.4,429.7 L3108.4,430.4 L3110.4,431.0 L3112.4,431.7 L3114.4,432.4 L3116.4,433.1 L3118.4,433.9 L3120.4,434.6 L3122.4,435.3 L3124.4,436.0 L3126.4,436.8 L3128.4,437.5 L3130.4,438.3 L3132.4,439.0 L3134.4,439.8 L3136.4,440.5 L3138.4,441.3 L3140.4,442.1 L3142.4,442.9 L3144.4,443.7 L3146.4,444.5 L3148.4,445.3 L3150.4,446.1 L3152.4,446.9 L3154.4,447.7 L3156.4,448.5 L3158.4,449.3 L3160.4,450.1 L3162.4,450.9 L3164.4,451.7 L3166.4,452.6 L3168.4,453.4 L3170.4,454.2 L3172.4,455.0 L3174.4,455.8 L3176.4,456.6 L3178.4,457.4 L3180.4,458.2 L3182.4,459.0 L3184.4,459.8 L3186.4,460.6 L3188.4,461.3 L3190.4,462.1 L3192.4,462.9 L3194.5,463.6 L3196.5,464.4 L3198.5,465.2 L3200.5,465.9 L3202.5,466.6 L3204.5,467.4 L3206.5,468.1 L3208.5,468.9 L3210.5,469.6 L3212.5,470.4 L3214.5,471.1 L3216.5,471.8 L3218.5,472.6 L3220.5,473.3 L3222.5,474.1 L3224.5,474.8 L3226.5,475.5 L3228.5,476.3 L3230.5,477.0 L3232.5,477.8 L3234.5,478.5 L3236.5,479.3 L3238.5,480.0 L3240.5,480.8 L3242.5,481.5 L3244.5,482.3 L3246.5,483.1 L3248.5,483.8 L3250.5,484.6 L3252.5,485.4 L3254.5,486.1 L3256.5,486.9 L3258.5,487.7 L3260.5,488.4 L3262.5,489.2 L3264.5,490.0 L3266.5,490.7 L3268.5,491.5" stroke="#33307c" stroke-width="7.8"/>
<path d="M1909.6,204.0 L1911.6,204.0 L1913.6,204.0 L1915.6,204.0 L1917.6,204.1 L1919.6,204.1 L1921.6,204.1 L1923.6,204.1 L1925.6,204.1 L1927.6,204.1 L1929.6,204.2 L1931.6,204.2 L1933.6,204.2 L1935.6,204.2 L1937.6,204.2 L1939.6,204.2 L1941.6,204.2 L1943.6,204.3 L1945.6,204.3 L1947.6,204.3 L1949.6,204.3 L1951.6,204.3 L1953.6,204.3 L1955.6,204.3 L1957.6,204.4 L1959.6,204.4 L1961.6,204.4 L1963.6,204.4 L1965.6,204.4 L1967.6,204.4 L1969.6,204.5 L1971.6,204.5 L1973.6,204.5 L1975.6,204.5 L1977.6,204.5 L1979.6,204.5 L1981.6,204.5 L1983.6,204.6 L1985.7,204.6 L1987.7,204.6 L1989.7,204.6 L1991.7,204.6 L1993.7,204.6 L1995.7,204.6 L1997.7,204.7 L1999.7,204.7 L2001.7,204.7 L2003.7,204.7 L2005.7,204.7 L2007.7,204.7 L2009.7,204.8 L2011.7,204.8 L2013.7,204.8 L2015.7,204.8 L2017.7,204.8 L2019.7,204.8 L2021.7,204.8 L2023.7,204.9 L2025.7,204.9 L2027.7,204.9 L2029.7,204.9 L2031.7,204.9 L2033.7,204.9 L2035.7,204.9 L2037.7,205.0 L2039.7,205.0 L2041.7,205.0 L2043.7,205.0 L2045.7,205.0 L2047.7,205.0 L2049.7,205.1 L2051.7,205.1 L2053.7,205.1 L2055.7,205.1 L2057.7,205.1 L2059.7,205.1 L2061.7,205.1 L2063.7,205.2 L2065.7,205.2 L2067.7,205.2 L2069.7,205.2 L2071.7,205.2 L2073.7,205.2 L2075.7,205.2 L2077.7,205.3 L2079.7,205.3 L2081.7,205.3 L2083.7,205.3 L2085.7,205.3 L2087.7,205.3 L2089.7,205.4 L2091.7,205.4 L2093.7,205.4 L2095.7,205.4 L2097.7,205.4 L2099.7,205.4 L2101.7,205.4 L2103.7,205.5 L2105.7,205.5 L2107.7,205.5 L2109.7,205.5 L2111.7,205.5 L2113.7,205.5 L2115.7,205.5 L2117.7,205.6 L2119.7,205.6 L2121.7,205.6 L2123.7,205.6 L2125.7,205.6 L2127.7,205.6 L2129.7,205.6 L2131.7,205.7 L2133.7,205.7 L2135.7,205.7 L2137.8,205.7 L2139.8,205.7 L2141.8,205.7 L2143.8,205.7 L2145.8,205.7 L2147.8,205.8 L2149.8,205.8 L2151.8,205.8 L2153.8,205.8 L2155.8,205.8 L2157.8,205.8 L2159.8,205.8 L2161.8,205.8 L2163.8,205.9 L2165.8,205.9 L2167.8,205.9 L2169.8,205.9 L2171.8,205.9 L2173.8,205.9 L2175.8,205.9 L2177.8,205.9 L2179.8,206.0 L2181.8,206.0 L2183.8,206.0 L2185.8,206.0 L2187.8,206.0 L2189.8,206.0 L2191.8,206.0 L2193.8,206.0 L2195.8,206.0 L2197.8,206.1 L2199.8,206.1 L2201.8,206.1 L2203.8,206.1 L2205.8,206.1 L2207.8,206.1 L2209.8,206.1 L2211.8,206.1 L2213.8,206.2 L2215.8,206.2 L2217.8,206.2 L2219.8,206.2 L2221.8,206.2 L2223.8,206.2 L2225.8,206.2 L2227.8,206.3 L2229.8,206.3 L2231.8,206.3 L2233.8,206.3 L2235.8,206.3 L2237.8,206.3 L2239.8,206.3 L2241.8,206.4 L2243.8,206.4 L2245.8,206.4 L2247.8,206.4 L2249.8,206.4 L2251.8,206.4 L2253.8,206.5 L2255.8,206.5 L2257.8,206.5 L2259.8,206.5 L2261.8,206.5 L2263.8,206.5 L2265.8,206.6 L2267.8,206.6 L2269.8,206.6 L2271.8,206.6 L2273.8,206.6 L2275.8,206.6 L2277.8,206.7 L2279.8,206.7 L2281.8,206.7 L2283.8,206.7 L2285.8,206.7 L2287.9,206.8 L2289.9,206.8 L2291.9,206.8 L2293.9,206.8 L2295.9,206.9 L2297.9,206.9 L2299.9,206.9 L2301.9,206.9 L2303.9,207.0 L2305.9,207.0 L2307.9,207.0 L2309.9,207.0 L2311.9,207.1 L2313.9,207.1 L2315.9,207.1 L2317.9,207.2 L2319.9,207.2 L2321.9,207.2 L2323.9,207.3 L2325.9,207.3 L2327.9,207.4 L2329.9,207.4 L2331.9,207.5 L2333.9,207.5 L2335.9,207.6 L2337.9,207.6 L2339.9,207.7 L2341.9,207.7 L2343.9,207.8 L2345.9,207.9 L2347.9,207.9 L2349.9,208.0 L2351.9,208.0 L2353.9,208.1 L2355.9,208.2 L2357.9,208.2 L2359.9,208.3 L2361.9,208.3 L2363.9,208.4 L2365.9,208.5 L2367.9,208.5 L2369.9,208.6 L2371.9,208.6 L2373.9,208.7 L2375.9,208.8 L2377.9,208.8 L2379.9,208.9 L2381.9,208.9 L2383.9,209.0 L2385.9,209.0 L2387.9,209.1 L2389.9,209.2 L2391.9,209.2 L2393.9,209.3 L2395.9,209.3 L2397.9,209.3 L2399.9,209.4 L2401.9,209.4 L2403.9,209.5 L2405.9,209.5 L2407.9,209.6 L2409.9,209.6 L2411.9,209.6 L2413.9,209.7 L2415.9,209.7 L2417.9,209.7 L2419.9,209.8 L2421.9,209.8 L2423.9,209.9 L2425.9,209.9 L2427.9,209.9 L2429.9,210.0 L2431.9,210.0 L2433.9,210.1 L2435.9,210.1 L2437.9,210.1 L2440.0,210.2 L2442.0,210.2 L2444.0,210.3 L2446.0,210.3 L2448.0,210.3 L2450.0,210.4 L2452.0,210.4 L2454.0,210.4 L2456.0,210.5 L2458.0,210.5 L2460.0,210.5 L2462.0,210.6 L2464.0,210.6 L2466.0,210.6 L2468.0,210.7 L2470.0,210.7 L2472.0,210.7 L2474.0,210.7 L2476.0,210.8 L2478.0,210.8 L2480.0,210.8 L2482.0,210.8 L2484.0,210.9 L2486.0,210.9 L2488.0,210.9 L2490.0,210.9 L2492.0,210.9 L2494.0,210.9 L2496.0,211.0 L2498.0,211.0 L2500.0,211.0 L2502.0,211.0 L2504.0,211.0 L2506.0,211.0 L2508.0,211.0 L2510.0,211.0 L2512.0,211.0 L2514.0,211.0 L2516.0,211.0 L2518.0,211.0 L2520.0,211.0 L2522.0,211.0 L2524.0,211.0 L2526.0,210.9 L2528.0,210.9 L2530.0,210.9 L2532.0,210.9 L2534.0,210.9 L2536.0,210.9 L2538.0,210.9 L2540.0,210.9 L2542.0,210.8 L2544.0,210.8 L2546.0,210.8 L2548.0,210.8 L2550.0,210.8 L2552.0,210.8 L2554.0,210.8 L2556.0,210.7 L2558.0,210.7 L2560.0,210.7 L2562.0,210.7 L2564.0,210.7 L2566.0,210.7 L2568.0,210.6 L2570.0,210.6 L2572.0,210.6 L2574.0,210.6 L2576.0,210.6 L2578.0,210.6 L2580.0,210.6 L2582.0,210.6 L2584.0,210.5 L2586.0,210.5 L2588.0,210.5 L2590.1,210.5 L2592.1,210.5 L2594.1,210.5 L2596.1,210.5 L2598.1,210.5 L2600.1,210.5 L2602.1,210.5 L2604.1,210.6 L2606.1,210.6 L2608.1,210.6 L2610.1,210.6 L2612.1,210.7 L2614.1,210.7 L2616.1,210.8 L2618.1,210.9 L2620.1,210.9 L2622.1,211.0 L2624.1,211.1 L2626.1,211.2 L2628.1,211.3 L2630.1,211.4 L2632.1,211.5 L2634.1,211.7 L2636.1,211.8 L2638.1,211.9 L2640.1,212.0 L2642.1,212.2 L2644.1,212.3 L2646.1,212.5 L2648.1,212.7 L2650.1,212.8 L2652.1,213.0 L2654.1,213.2 L2656.1,213.4 L2658.1,213.6 L2660.1,213.8 L2662.1,214.1 L2664.1,214.3 L2666.1,214.6 L2668.1,215.0 L2670.1,215.4 L2672.1,215.8 L2674.1,216.3 L2676.1,216.8 L2678.1,217.3 L2680.1,217.9 L2682.1,218.6 L2684.1,219.3 L2686.1,220.0 L2688.1,220.8 L2690.1,221.7 L2692.1,222.6 L2694.1,223.7 L2696.1,224.8 L2698.1,226.0 L2700.1,227.3 L2702.1,228.6 L2704.1,230.0 L2706.1,231.4 L2708.1,232.8 L2710.1,234.3 L2712.1,235.8 L2714.1,237.3 L2716.1,238.8 L2718.1,240.3 L2720.1,241.8 L2722.1,243.4 L2724.1,244.9 L2726.1,246.5 L2728.1,248.2 L2730.1,249.8 L2732.1,251.5 L2734.1,253.3 L2736.1,255.0 L2738.1,256.9 L2740.2,258.8 L2742.2,260.7 L2744.2,262.7 L2746.2,264.7 L2748.2,266.8 L2750.2,269.0 L2752.2,271.2 L2754.2,273.4 L2756.2,275.7 L2758.2,278.0 L2760.2,280.4 L2762.2,282.7 L2764.2,285.0 L2766.2,287.3 L2768.2,289.6 L2770.2,291.8 L2772.2,294.0 L2774.2,296.2 L2776.2,298.4 L2778.2,300.5 L2780.2,302.6 L2782.2,304.7 L2784.2,306.8 L2786.2,308.9 L2788.2,310.9 L2790.2,313.0 L2792.2,315.0 L2794.2,317.0 L2796.2,319.0 L2798.2,320.9 L2800.2,322.8 L2802.2,324.7 L2804.2,326.6 L2806.2,328.4 L2808.2,330.1 L2810.2,331.9 L2812.2,333.6 L2814.2,335.2 L2816.2,336.8 L2818.2,338.4 L2820.2,339.9 L2822.2,341.3 L2824.2,342.7 L2826.2,343.9 L2828.2,345.2 L2830.2,346.3 L2832.2,347.4 L2834.2,348.4 L2836.2,349.4 L2838.2,350.4 L2840.2,351.3 L2842.2,352.2 L2844.2,353.0 L2846.2,353.8 L2848.2,354.6 L2850.2,355.4 L2852.2,356.2 L2854.2,356.9 L2856.2,357.6 L2858.2,358.3 L2860.2,359.0 L2862.2,359.6 L2864.2,360.3 L2866.2,360.9 L2868.2,361.5 L2870.2,362.1 L2872.2,362.7 L2874.2,363.3 L2876.2,363.8 L2878.2,364.4 L2880.2,365.0 L2882.2,365.6 L2884.2,366.1 L2886.2,366.7 L2888.2,367.3 L2890.2,367.9 L2892.3,368.5 L2894.3,369.1 L2896.3,369.6 L2898.3,370.2 L2900.3,370.8 L2902.3,371.4 L2904.3,371.9 L2906.3,372.5 L2908.3,373.0 L2910.3,373.6 L2912.3,374.1 L2914.3,374.6 L2916.3,375.2 L2918.3,375.7 L2920.3,376.2 L2922.3,376.7 L2924.3,377.2 L2926.3,377.7 L2928.3,378.2 L2930.3,378.7 L2932.3,379.2 L2934.3,379.7 L2936.3,380.2 L2938.3,380.7 L2940.3,381.2 L2942.3,381.7 L2944.3,382.2 L2946.3,382.7 L2948.3,383.2 L2950.3,383.7 L2952.3,384.2 L2954.3,384.7 L2956.3,385.2 L2958.3,385.7 L2960.3,386.2 L2962.3,386.7 L2964.3,387.2 L2966.3,387.7 L2968.3,388.2 L2970.3,388.7 L2972.3,389.2 L2974.3,389.7 L2976.3,390.2 L2978.3,390.7 L2980.3,391.2 L2982.3,391.7 L2984.3,392.2 L2986.3,392.8 L2988.3,393.3 L2990.3,393.8 L2992.3,394.3 L2994.3,394.8 L2996.3,395.4 L2998.3,395.9 L3000.3,396.5 L3002.3,397.0 L3004.3,397.6 L3006.3,398.1 L3008.3,398.7 L3010.3,399.3 L3012.3,399.9 L3014.3,400.5 L3016.3,401.1 L3018.3,401.7 L3020.3,402.3 L3022.3,402.9 L3024.3,403.6 L3026.3,404.2 L3028.3,404.8 L3030.3,405.5 L3032.3,406.1 L3034.3,406.8 L3036.3,407.4 L3038.3,408.1 L3040.3,408.7 L3042.4,409.4 L3044.4,410.0 L3046.4,410.7 L3048.4,411.4 L3050.4,412.0 L3052.4,412.7 L3054.4,413.3 L3056.4,413.9 L3058.4,414.6 L3060.4,415.2 L3062.4,415.8 L3064.4,416.5 L3066.4,417.1 L3068.4,417.7 L3070.4,418.3 L3072.4,418.9 L3074.4,419.5 L3076.4,420.2 L3078.4,420.8 L3080.4,421.4 L3082.4,422.0 L3084.4,422.6 L3086.4,423.2 L3088.4,423.9 L3090.4,424.5 L3092.4,425.1 L3094.4,425.8 L3096.4,426.4 L3098.4,427.0 L3100.4,427.7 L3102.4,428.3 L3104.4,429.0 L3106.4,429.7 L3108.4,430.4 L3110.4,431.0 L3112.4,431.7 L3114.4,432.4 L3116.4,433.1 L3118.4,433.9 L3120.4,434.6 L3122.4,435.3 L3124.4,436.0 L3126.4,436.8 L3128.4,437.5 L3130.4,438.3 L3132.4,439.0 L3134.4,439.8 L3136.4,440.5 L3138.4,441.3 L3140.4,442.1 L3142.4,442.9 L3144.4,443.7 L3146.4,444.5 L3148.4,445.3 L3150.4,446.1 L3152.4,446.9 L3154.4,447.7 L3156.4,448.5 L3158.4,449.3 L3160.4,450.1 L3162.4,450.9 L3164.4,451.7 L3166.4,452.6 L3168.4,453.4 L3170.4,454.2 L3172.4,455.0 L3174.4,455.8 L3176.4,456.6 L3178.4,457.4 L3180.4,458.2 L3182.4,459.0 L3184.4,459.8 L3186.4,460.6 L3188.4,461.3 L3190.4,462.1 L3192.4,462.9 L3194.5,463.6 L3196.5,464.4 L3198.5,465.2 L3200.5,465.9 L3202.5,466.6 L3204.5,467.4 L3206.5,468.1 L3208.5,468.9 L3210.5,469.6 L3212.5,470.4 L3214.5,471.1 L3216.5,471.8 L3218.5,472.6 L3220.5,473.3 L3222.5,474.1 L3224.5,474.8 L3226.5,475.5 L3228.5,476.3 L3230.5,477.0 L3232.5,477.8 L3234.5,478.5 L3236.5,479.3 L3238.5,480.0 L3240.5,480.8 L3242.5,481.5 L3244.5,482.3 L3246.5,483.1 L3248.5,483.8 L3250.5,484.6 L3252.5,485.4 L3254.5,486.1 L3256.5,486.9 L3258.5,487.7 L3260.5,488.4 L3262.5,489.2 L3264.5,490.0 L3266.5,490.7 L3268.5,491.5" stroke="#4b3cc2" stroke-width="3.8"/>
<polygon points="1894.6,195.0 1924.6,195.0 1909.6,222.0" fill="#3856a8"/>
<polygon points="2094.4,196.5 2124.4,196.5 2109.4,223.5" fill="#3856a8"/>
<polygon points="2294.3,198.0 2324.3,198.0 2309.3,225.0" fill="#3856a8"/>
<polygon points="2494.1,202.0 2524.1,202.0 2509.1,229.0" fill="#3856a8"/>
<polygon points="2694.0,224.5 2724.0,224.5 2709.0,251.5" fill="#3856a8"/>
<polygon points="2893.8,364.2 2923.8,364.2 2908.8,391.2" fill="#3856a8"/>
<polygon points="3093.6,421.4 3123.6,421.4 3108.6,448.4" fill="#3856a8"/>
<path d="M1909.6,203.5 L1911.6,203.5 L1913.6,203.5 L1915.6,203.6 L1917.6,203.6 L1919.6,203.6 L1921.6,203.6 L1923.6,203.6 L1925.6,203.6 L1927.6,203.7 L1929.6,203.7 L1931.6,203.7 L1933.6,203.7 L1935.6,203.7 L1937.6,203.8 L1939.6,203.8 L1941.6,203.8 L1943.6,203.8 L1945.6,203.8 L1947.6,203.8 L1949.6,203.9 L1951.6,203.9 L1953.6,203.9 L1955.6,203.9 L1957.6,203.9 L1959.6,203.9 L1961.6,204.0 L1963.6,204.0 L1965.6,204.0 L1967.6,204.0 L1969.6,204.0 L1971.6,204.0 L1973.6,204.1 L1975.6,204.1 L1977.6,204.1 L1979.6,204.1 L1981.6,204.1 L1983.6,204.1 L1985.7,204.2 L1987.7,204.2 L1989.7,204.2 L1991.7,204.2 L1993.7,204.2 L1995.7,204.2 L1997.7,204.3 L1999.7,204.3 L2001.7,204.3 L2003.7,204.3 L2005.7,204.3 L2007.7,204.3 L2009.7,204.4 L2011.7,204.4 L2013.7,204.4 L2015.7,204.4 L2017.7,204.4 L2019.7,204.4 L2021.7,204.4 L2023.7,204.5 L2025.7,204.5 L2027.7,204.5 L2029.7,204.5 L2031.7,204.5 L2033.7,204.5 L2035.7,204.5 L2037.7,204.6 L2039.7,204.6 L2041.7,204.6 L2043.7,204.6 L2045.7,204.6 L2047.7,204.6 L2049.7,204.6 L2051.7,204.7 L2053.7,204.7 L2055.7,204.7 L2057.7,204.7 L2059.7,204.7 L2061.7,204.7 L2063.7,204.7 L2065.7,204.7 L2067.7,204.8 L2069.7,204.8 L2071.7,204.8 L2073.7,204.8 L2075.7,204.8 L2077.7,204.8 L2079.7,204.8 L2081.7,204.8 L2083.7,204.9 L2085.7,204.9 L2087.7,204.9 L2089.7,204.9 L2091.7,204.9 L2093.7,204.9 L2095.7,204.9 L2097.7,204.9 L2099.7,204.9 L2101.7,205.0 L2103.7,205.0 L2105.7,205.0 L2107.7,205.0 L2109.7,205.0 L2111.7,205.0 L2113.7,205.0 L2115.7,205.0 L2117.7,205.0 L2119.7,205.1 L2121.7,205.1 L2123.7,205.1 L2125.7,205.1 L2127.7,205.1 L2129.7,205.1 L2131.7,205.1 L2133.7,205.1 L2135.7,205.1 L2137.8,205.1 L2139.8,205.1 L2141.8,205.1 L2143.8,205.2 L2145.8,205.2 L2147.8,205.2 L2149.8,205.2 L2151.8,205.2 L2153.8,205.2 L2155.8,205.2 L2157.8,205.2 L2159.8,205.2 L2161.8,205.2 L2163.8,205.2 L2165.8,205.2 L2167.8,205.2 L2169.8,205.2 L2171.8,205.2 L2173.8,205.3 L2175.8,205.3 L2177.8,205.3 L2179.8,205.3 L2181.8,205.3 L2183.8,205.3 L2185.8,205.3 L2187.8,205.3 L2189.8,205.3 L2191.8,205.3 L2193.8,205.3 L2195.8,205.3 L2197.8,205.3 L2199.8,205.3 L2201.8,205.3 L2203.8,205.3 L2205.8,205.3 L2207.8,205.4 L2209.8,205.4 L2211.8,205.4 L2213.8,205.4 L2215.8,205.4 L2217.8,205.4 L2219.8,205.4 L2221.8,205.4 L2223.8,205.4 L2225.8,205.4 L2227.8,205.4 L2229.8,205.4 L2231.8,205.4 L2233.8,205.4 L2235.8,205.4 L2237.8,205.4 L2239.8,205.5 L2241.8,205.5 L2243.8,205.5 L2245.8,205.5 L2247.8,205.5 L2249.8,205.5 L2251.8,205.5 L2253.8,205.5 L2255.8,205.5 L2257.8,205.5 L2259.8,205.5 L2261.8,205.5 L2263.8,205.6 L2265.8,205.6 L2267.8,205.6 L2269.8,205.6 L2271.8,205.6 L2273.8,205.6 L2275.8,205.6 L2277.8,205.6 L2279.8,205.6 L2281.8,205.6 L2283.8,205.7 L2285.8,205.7 L2287.9,205.7 L2289.9,205.7 L2291.9,205.7 L2293.9,205.7 L2295.9,205.7 L2297.9,205.7 L2299.9,205.7 L2301.9,205.8 L2303.9,205.8 L2305.9,205.8 L2307.9,205.8 L2309.9,205.8 L2311.9,205.8 L2313.9,205.9 L2315.9,205.9 L2317.9,205.9 L2319.9,205.9 L2321.9,206.0 L2323.9,206.0 L2325.9,206.0 L2327.9,206.0 L2329.9,206.1 L2331.9,206.1 L2333.9,206.1 L2335.9,206.2 L2337.9,206.2 L2339.9,206.3 L2341.9,206.3 L2343.9,206.3 L2345.9,206.4 L2347.9,206.4 L2349.9,206.5 L2351.9,206.5 L2353.9,206.5 L2355.9,206.6 L2357.9,206.6 L2359.9,206.7 L2361.9,206.7 L2363.9,206.8 L2365.9,206.8 L2367.9,206.8 L2369.9,206.9 L2371.9,206.9 L2373.9,207.0 L2375.9,207.0 L2377.9,207.1 L2379.9,207.1 L2381.9,207.1 L2383.9,207.2 L2385.9,207.2 L2387.9,207.2 L2389.9,207.3 L2391.9,207.3 L2393.9,207.3 L2395.9,207.4 L2397.9,207.4 L2399.9,207.4 L2401.9,207.5 L2403.9,207.5 L2405.9,207.5 L2407.9,207.5 L2409.9,207.5 L2411.9,207.6 L2413.9,207.6 L2415.9,207.6 L2417.9,207.6 L2419.9,207.7 L2421.9,207.7 L2423.9,207.7 L2425.9,207.7 L2427.9,207.7 L2429.9,207.8 L2431.9,207.8 L2433.9,207.8 L2435.9,207.8 L2437.9,207.9 L2440.0,207.9 L2442.0,207.9 L2444.0,207.9 L2446.0,207.9 L2448.0,208.0 L2450.0,208.0 L2452.0,208.0 L2454.0,208.0 L2456.0,208.0 L2458.0,208.0 L2460.0,208.1 L2462.0,208.1 L2464.0,208.1 L2466.0,208.1 L2468.0,208.1 L2470.0,208.1 L2472.0,208.2 L2474.0,208.2 L2476.0,208.2 L2478.0,208.2 L2480.0,208.2 L2482.0,208.2 L2484.0,208.2 L2486.0,208.2 L2488.0,208.2 L2490.0,208.3 L2492.0,208.3 L2494.0,208.3 L2496.0,208.3 L2498.0,208.3 L2500.0,208.3 L2502.0,208.3 L2504.0,208.2 L2506.0,208.2 L2508.0,208.2 L2510.0,208.1 L2512.0,208.0 L2514.0,207.9 L2516.0,207.8 L2518.0,207.6 L2520.0,207.5 L2522.0,207.3 L2524.0,207.1 L2526.0,207.0 L2528.0,206.8 L2530.0,206.7 L2532.0,206.5 L2534.0,206.4 L2536.0,206.3 L2538.0,206.2 L2540.0,206.1 L2542.0,206.0 L2544.0,206.0 L2546.0,205.9 L2548.0,205.8 L2550.0,205.8 L2552.0,205.7 L2554.0,205.6 L2556.0,205.6 L2558.0,205.6 L2560.0,205.5 L2562.0,205.5 L2564.0,205.5 L2566.0,205.4 L2568.0,205.4 L2570.0,205.4 L2572.0,205.3 L2574.0,205.3 L2576.0,205.3 L2578.0,205.3 L2580.0,205.2 L2582.0,205.2 L2584.0,205.2 L2586.0,205.2 L2588.0,205.2 L2590.1,205.1 L2592.1,205.1 L2594.1,205.1 L2596.1,205.1 L2598.1,205.1 L2600.1,205.1 L2602.1,205.1 L2604.1,205.0 L2606.1,205.0 L2608.1,205.0 L2610.1,205.0 L2612.1,205.0 L2614.1,205.0 L2616.1,205.0 L2618.1,205.0 L2620.1,205.0 L2622.1,205.0 L2624.1,205.0 L2626.1,205.0 L2628.1,205.1 L2630.1,205.1 L2632.1,205.1 L2634.1,205.1 L2636.1,205.2 L2638.1,205.2 L2640.1,205.2 L2642.1,205.3 L2644.1,205.3 L2646.1,205.4 L2648.1,205.5 L2650.1,205.6 L2652.1,205.7 L2654.1,205.9 L2656.1,206.0 L2658.1,206.2 L2660.1,206.4 L2662.1,206.7 L2664.1,206.9 L2666.1,207.2 L2668.1,207.5 L2670.1,207.8 L2672.1,208.2 L2674.1,208.6 L2676.1,209.0 L2678.1,209.5 L2680.1,210.0 L2682.1,210.6 L2684.1,211.2 L2686.1,211.8 L2688.1,212.5 L2690.1,213.2 L2692.1,214.0 L2694.1,214.8 L2696.1,215.6 L2698.1,216.4 L2700.1,217.3 L2702.1,218.2 L2704.1,219.2 L2706.1,220.1 L2708.1,221.1 L2710.1,222.1 L2712.1,223.1 L2714.1,224.1 L2716.1,225.1 L2718.1,226.1 L2720.1,227.2 L2722.1,228.2 L2724.1,229.3 L2726.1,230.4 L2728.1,231.5 L2730.1,232.6 L2732.1,233.7 L2734.1,234.9 L2736.1,236.0 L2738.1,237.2 L2740.2,238.4 L2742.2,239.6 L2744.2,240.9 L2746.2,242.1 L2748.2,243.4 L2750.2,244.7 L2752.2,246.0 L2754.2,247.3 L2756.2,248.6 L2758.2,249.9 L2760.2,251.3 L2762.2,252.6 L2764.2,254.0 L2766.2,255.4 L2768.2,256.8 L2770.2,258.2 L2772.2,259.6 L2774.2,261.1 L2776.2,262.5 L2778.2,264.0 L2780.2,265.4 L2782.2,266.9 L2784.2,268.3 L2786.2,269.7 L2788.2,271.0 L2790.2,272.3 L2792.2,273.6 L2794.2,274.8 L2796.2,276.0 L2798.2,277.1 L2800.2,278.2 L2802.2,279.3 L2804.2,280.3 L2806.2,281.3 L2808.2,282.2 L2810.2,283.1 L2812.2,284.0 L2814.2,284.9 L2816.2,285.8 L2818.2,286.6 L2820.2,287.4 L2822.2,288.1 L2824.2,288.9 L2826.2,289.6 L2828.2,290.3 L2830.2,291.0 L2832.2,291.7 L2834.2,292.4 L2836.2,293.0 L2838.2,293.6 L2840.2,294.2 L2842.2,294.8 L2844.2,295.4 L2846.2,296.0 L2848.2,296.5 L2850.2,297.0 L2852.2,297.5 L2854.2,298.0 L2856.2,298.5 L2858.2,299.0 L2860.2,299.5 L2862.2,299.9 L2864.2,300.3 L2866.2,300.8 L2868.2,301.2 L2870.2,301.6 L2872.2,302.0 L2874.2,302.4 L2876.2,302.7 L2878.2,303.1 L2880.2,303.4 L2882.2,303.8 L2884.2,304.1 L2886.2,304.4 L2888.2,304.7 L2890.2,305.0 L2892.3,305.2 L2894.3,305.5 L2896.3,305.7 L2898.3,306.0 L2900.3,306.3 L2902.3,306.5 L2904.3,306.8 L2906.3,307.0 L2908.3,307.3 L2910.3,307.5 L2912.3,307.8 L2914.3,308.1 L2916.3,308.3 L2918.3,308.6 L2920.3,308.9 L2922.3,309.2 L2924.3,309.4 L2926.3,309.7 L2928.3,310.0 L2930.3,310.3 L2932.3,310.6 L2934.3,310.8 L2936.3,311.1 L2938.3,311.4 L2940.3,311.7 L2942.3,311.9 L2944.3,312.2 L2946.3,312.4 L2948.3,312.7 L2950.3,312.9 L2952.3,313.2 L2954.3,313.4 L2956.3,313.6 L2958.3,313.8 L2960.3,314.0 L2962.3,314.3 L2964.3,314.5 L2966.3,314.7 L2968.3,314.9 L2970.3,315.0 L2972.3,315.2 L2974.3,315.4 L2976.3,315.6 L2978.3,315.8 L2980.3,316.0 L2982.3,316.1 L2984.3,316.3 L2986.3,316.5 L2988.3,316.6 L2990.3,316.8 L2992.3,317.0 L2994.3,317.2 L2996.3,317.3 L2998.3,317.5 L3000.3,317.7 L3002.3,317.8 L3004.3,318.0 L3006.3,318.2 L3008.3,318.3 L3010.3,318.5 L3012.3,318.7 L3014.3,318.9 L3016.3,319.0 L3018.3,319.2 L3020.3,319.4 L3022.3,319.5 L3024.3,319.7 L3026.3,319.9 L3028.3,320.1 L3030.3,320.2 L3032.3,320.4 L3034.3,320.6 L3036.3,320.7 L3038.3,320.9 L3040.3,321.1 L3042.4,321.2 L3044.4,321.4 L3046.4,321.6 L3048.4,321.7 L3050.4,321.9 L3052.4,322.0 L3054.4,322.2 L3056.4,322.4 L3058.4,322.5 L3060.4,322.7 L3062.4,322.8 L3064.4,323.0 L3066.4,323.1 L3068.4,323.3 L3070.4,323.4 L3072.4,323.6 L3074.4,323.7 L3076.4,323.9 L3078.4,324.0 L3080.4,324.2 L3082.4,324.3 L3084.4,324.4 L3086.4,324.6 L3088.4,324.8 L3090.4,324.9 L3092.4,325.1 L3094.4,325.2 L3096.4,325.4 L3098.4,325.6 L3100.4,325.8 L3102.4,326.0 L3104.4,326.2 L3106.4,326.5 L3108.4,326.7 L3110.4,327.0 L3112.4,327.3 L3114.4,327.6 L3116.4,327.9 L3118.4,328.2 L3120.4,328.6 L3122.4,328.9 L3124.4,329.3 L3126.4,329.7 L3128.4,330.1 L3130.4,330.5 L3132.4,331.0 L3134.4,331.4 L3136.4,331.9 L3138.4,332.4 L3140.4,332.8 L3142.4,333.3 L3144.4,333.9 L3146.4,334.4 L3148.4,335.0 L3150.4,335.5 L3152.4,336.1 L3154.4,336.7 L3156.4,337.3 L3158.4,337.9 L3160.4,338.6 L3162.4,339.2 L3164.4,339.8 L3166.4,340.5 L3168.4,341.1 L3170.4,341.8 L3172.4,342.4 L3174.4,343.0 L3176.4,343.7 L3178.4,344.3 L3180.4,344.9 L3182.4,345.6 L3184.4,346.2 L3186.4,346.8 L3188.4,347.4 L3190.4,348.0 L3192.4,348.6 L3194.5,349.2 L3196.5,349.8 L3198.5,350.4 L3200.5,351.0 L3202.5,351.6 L3204.5,352.2 L3206.5,352.8 L3208.5,353.4 L3210.5,354.0 L3212.5,354.6 L3214.5,355.2 L3216.5,355.8 L3218.5,356.4 L3220.5,357.0 L3222.5,357.6 L3224.5,358.2 L3226.5,358.8 L3228.5,359.4 L3230.5,360.0 L3232.5,360.6 L3234.5,361.2 L3236.5,361.8 L3238.5,362.4 L3240.5,362.9 L3242.5,363.5 L3244.5,364.1 L3246.5,364.7 L3248.5,365.3 L3250.5,365.8 L3252.5,366.4 L3254.5,367.0 L3256.5,367.6 L3258.5,368.1 L3260.5,368.7 L3262.5,369.3 L3264.5,369.9 L3266.5,370.4 L3268.5,371.0" stroke="#39346f" stroke-width="7.8"/>
<path d="M1909.6,203.5 L1911.6,203.5 L1913.6,203.5 L1915.6,203.6 L1917.6,203.6 L1919.6,203.6 L1921.6,203.6 L1923.6,203.6 L1925.6,203.6 L1927.6,203.7 L1929.6,203.7 L1931.6,203.7 L1933.6,203.7 L1935.6,203.7 L1937.6,203.8 L1939.6,203.8 L1941.6,203.8 L1943.6,203.8 L1945.6,203.8 L1947.6,203.8 L1949.6,203.9 L1951.6,203.9 L1953.6,203.9 L1955.6,203.9 L1957.6,203.9 L1959.6,203.9 L1961.6,204.0 L1963.6,204.0 L1965.6,204.0 L1967.6,204.0 L1969.6,204.0 L1971.6,204.0 L1973.6,204.1 L1975.6,204.1 L1977.6,204.1 L1979.6,204.1 L1981.6,204.1 L1983.6,204.1 L1985.7,204.2 L1987.7,204.2 L1989.7,204.2 L1991.7,204.2 L1993.7,204.2 L1995.7,204.2 L1997.7,204.3 L1999.7,204.3 L2001.7,204.3 L2003.7,204.3 L2005.7,204.3 L2007.7,204.3 L2009.7,204.4 L2011.7,204.4 L2013.7,204.4 L2015.7,204.4 L2017.7,204.4 L2019.7,204.4 L2021.7,204.4 L2023.7,204.5 L2025.7,204.5 L2027.7,204.5 L2029.7,204.5 L2031.7,204.5 L2033.7,204.5 L2035.7,204.5 L2037.7,204.6 L2039.7,204.6 L2041.7,204.6 L2043.7,204.6 L2045.7,204.6 L2047.7,204.6 L2049.7,204.6 L2051.7,204.7 L2053.7,204.7 L2055.7,204.7 L2057.7,204.7 L2059.7,204.7 L2061.7,204.7 L2063.7,204.7 L2065.7,204.7 L2067.7,204.8 L2069.7,204.8 L2071.7,204.8 L2073.7,204.8 L2075.7,204.8 L2077.7,204.8 L2079.7,204.8 L2081.7,204.8 L2083.7,204.9 L2085.7,204.9 L2087.7,204.9 L2089.7,204.9 L2091.7,204.9 L2093.7,204.9 L2095.7,204.9 L2097.7,204.9 L2099.7,204.9 L2101.7,205.0 L2103.7,205.0 L2105.7,205.0 L2107.7,205.0 L2109.7,205.0 L2111.7,205.0 L2113.7,205.0 L2115.7,205.0 L2117.7,205.0 L2119.7,205.1 L2121.7,205.1 L2123.7,205.1 L2125.7,205.1 L2127.7,205.1 L2129.7,205.1 L2131.7,205.1 L2133.7,205.1 L2135.7,205.1 L2137.8,205.1 L2139.8,205.1 L2141.8,205.1 L2143.8,205.2 L2145.8,205.2 L2147.8,205.2 L2149.8,205.2 L2151.8,205.2 L2153.8,205.2 L2155.8,205.2 L2157.8,205.2 L2159.8,205.2 L2161.8,205.2 L2163.8,205.2 L2165.8,205.2 L2167.8,205.2 L2169.8,205.2 L2171.8,205.2 L2173.8,205.3 L2175.8,205.3 L2177.8,205.3 L2179.8,205.3 L2181.8,205.3 L2183.8,205.3 L2185.8,205.3 L2187.8,205.3 L2189.8,205.3 L2191.8,205.3 L2193.8,205.3 L2195.8,205.3 L2197.8,205.3 L2199.8,205.3 L2201.8,205.3 L2203.8,205.3 L2205.8,205.3 L2207.8,205.4 L2209.8,205.4 L2211.8,205.4 L2213.8,205.4 L2215.8,205.4 L2217.8,205.4 L2219.8,205.4 L2221.8,205.4 L2223.8,205.4 L2225.8,205.4 L2227.8,205.4 L2229.8,205.4 L2231.8,205.4 L2233.8,205.4 L2235.8,205.4 L2237.8,205.4 L2239.8,205.5 L2241.8,205.5 L2243.8,205.5 L2245.8,205.5 L2247.8,205.5 L2249.8,205.5 L2251.8,205.5 L2253.8,205.5 L2255.8,205.5 L2257.8,205.5 L2259.8,205.5 L2261.8,205.5 L2263.8,205.6 L2265.8,205.6 L2267.8,205.6 L2269.8,205.6 L2271.8,205.6 L2273.8,205.6 L2275.8,205.6 L2277.8,205.6 L2279.8,205.6 L2281.8,205.6 L2283.8,205.7 L2285.8,205.7 L2287.9,205.7 L2289.9,205.7 L2291.9,205.7 L2293.9,205.7 L2295.9,205.7 L2297.9,205.7 L2299.9,205.7 L2301.9,205.8 L2303.9,205.8 L2305.9,205.8 L2307.9,205.8 L2309.9,205.8 L2311.9,205.8 L2313.9,205.9 L2315.9,205.9 L2317.9,205.9 L2319.9,205.9 L2321.9,206.0 L2323.9,206.0 L2325.9,206.0 L2327.9,206.0 L2329.9,206.1 L2331.9,206.1 L2333.9,206.1 L2335.9,206.2 L2337.9,206.2 L2339.9,206.3 L2341.9,206.3 L2343.9,206.3 L2345.9,206.4 L2347.9,206.4 L2349.9,206.5 L2351.9,206.5 L2353.9,206.5 L2355.9,206.6 L2357.9,206.6 L2359.9,206.7 L2361.9,206.7 L2363.9,206.8 L2365.9,206.8 L2367.9,206.8 L2369.9,206.9 L2371.9,206.9 L2373.9,207.0 L2375.9,207.0 L2377.9,207.1 L2379.9,207.1 L2381.9,207.1 L2383.9,207.2 L2385.9,207.2 L2387.9,207.2 L2389.9,207.3 L2391.9,207.3 L2393.9,207.3 L2395.9,207.4 L2397.9,207.4 L2399.9,207.4 L2401.9,207.5 L2403.9,207.5 L2405.9,207.5 L2407.9,207.5 L2409.9,207.5 L2411.9,207.6 L2413.9,207.6 L2415.9,207.6 L2417.9,207.6 L2419.9,207.7 L2421.9,207.7 L2423.9,207.7 L2425.9,207.7 L2427.9,207.7 L2429.9,207.8 L2431.9,207.8 L2433.9,207.8 L2435.9,207.8 L2437.9,207.9 L2440.0,207.9 L2442.0,207.9 L2444.0,207.9 L2446.0,207.9 L2448.0,208.0 L2450.0,208.0 L2452.0,208.0 L2454.0,208.0 L2456.0,208.0 L2458.0,208.0 L2460.0,208.1 L2462.0,208.1 L2464.0,208.1 L2466.0,208.1 L2468.0,208.1 L2470.0,208.1 L2472.0,208.2 L2474.0,208.2 L2476.0,208.2 L2478.0,208.2 L2480.0,208.2 L2482.0,208.2 L2484.0,208.2 L2486.0,208.2 L2488.0,208.2 L2490.0,208.3 L2492.0,208.3 L2494.0,208.3 L2496.0,208.3 L2498.0,208.3 L2500.0,208.3 L2502.0,208.3 L2504.0,208.2 L2506.0,208.2 L2508.0,208.2 L2510.0,208.1 L2512.0,208.0 L2514.0,207.9 L2516.0,207.8 L2518.0,207.6 L2520.0,207.5 L2522.0,207.3 L2524.0,207.1 L2526.0,207.0 L2528.0,206.8 L2530.0,206.7 L2532.0,206.5 L2534.0,206.4 L2536.0,206.3 L2538.0,206.2 L2540.0,206.1 L2542.0,206.0 L2544.0,206.0 L2546.0,205.9 L2548.0,205.8 L2550.0,205.8 L2552.0,205.7 L2554.0,205.6 L2556.0,205.6 L2558.0,205.6 L2560.0,205.5 L2562.0,205.5 L2564.0,205.5 L2566.0,205.4 L2568.0,205.4 L2570.0,205.4 L2572.0,205.3 L2574.0,205.3 L2576.0,205.3 L2578.0,205.3 L2580.0,205.2 L2582.0,205.2 L2584.0,205.2 L2586.0,205.2 L2588.0,205.2 L2590.1,205.1 L2592.1,205.1 L2594.1,205.1 L2596.1,205.1 L2598.1,205.1 L2600.1,205.1 L2602.1,205.1 L2604.1,205.0 L2606.1,205.0 L2608.1,205.0 L2610.1,205.0 L2612.1,205.0 L2614.1,205.0 L2616.1,205.0 L2618.1,205.0 L2620.1,205.0 L2622.1,205.0 L2624.1,205.0 L2626.1,205.0 L2628.1,205.1 L2630.1,205.1 L2632.1,205.1 L2634.1,205.1 L2636.1,205.2 L2638.1,205.2 L2640.1,205.2 L2642.1,205.3 L2644.1,205.3 L2646.1,205.4 L2648.1,205.5 L2650.1,205.6 L2652.1,205.7 L2654.1,205.9 L2656.1,206.0 L2658.1,206.2 L2660.1,206.4 L2662.1,206.7 L2664.1,206.9 L2666.1,207.2 L2668.1,207.5 L2670.1,207.8 L2672.1,208.2 L2674.1,208.6 L2676.1,209.0 L2678.1,209.5 L2680.1,210.0 L2682.1,210.6 L2684.1,211.2 L2686.1,211.8 L2688.1,212.5 L2690.1,213.2 L2692.1,214.0 L2694.1,214.8 L2696.1,215.6 L2698.1,216.4 L2700.1,217.3 L2702.1,218.2 L2704.1,219.2 L2706.1,220.1 L2708.1,221.1 L2710.1,222.1 L2712.1,223.1 L2714.1,224.1 L2716.1,225.1 L2718.1,226.1 L2720.1,227.2 L2722.1,228.2 L2724.1,229.3 L2726.1,230.4 L2728.1,231.5 L2730.1,232.6 L2732.1,233.7 L2734.1,234.9 L2736.1,236.0 L2738.1,237.2 L2740.2,238.4 L2742.2,239.6 L2744.2,240.9 L2746.2,242.1 L2748.2,243.4 L2750.2,244.7 L2752.2,246.0 L2754.2,247.3 L2756.2,248.6 L2758.2,249.9 L2760.2,251.3 L2762.2,252.6 L2764.2,254.0 L2766.2,255.4 L2768.2,256.8 L2770.2,258.2 L2772.2,259.6 L2774.2,261.1 L2776.2,262.5 L2778.2,264.0 L2780.2,265.4 L2782.2,266.9 L2784.2,268.3 L2786.2,269.7 L2788.2,271.0 L2790.2,272.3 L2792.2,273.6 L2794.2,274.8 L2796.2,276.0 L2798.2,277.1 L2800.2,278.2 L2802.2,279.3 L2804.2,280.3 L2806.2,281.3 L2808.2,282.2 L2810.2,283.1 L2812.2,284.0 L2814.2,284.9 L2816.2,285.8 L2818.2,286.6 L2820.2,287.4 L2822.2,288.1 L2824.2,288.9 L2826.2,289.6 L2828.2,290.3 L2830.2,291.0 L2832.2,291.7 L2834.2,292.4 L2836.2,293.0 L2838.2,293.6 L2840.2,294.2 L2842.2,294.8 L2844.2,295.4 L2846.2,296.0 L2848.2,296.5 L2850.2,297.0 L2852.2,297.5 L2854.2,298.0 L2856.2,298.5 L2858.2,299.0 L2860.2,299.5 L2862.2,299.9 L2864.2,300.3 L2866.2,300.8 L2868.2,301.2 L2870.2,301.6 L2872.2,302.0 L2874.2,302.4 L2876.2,302.7 L2878.2,303.1 L2880.2,303.4 L2882.2,303.8 L2884.2,304.1 L2886.2,304.4 L2888.2,304.7 L2890.2,305.0 L2892.3,305.2 L2894.3,305.5 L2896.3,305.7 L2898.3,306.0 L2900.3,306.3 L2902.3,306.5 L2904.3,306.8 L2906.3,307.0 L2908.3,307.3 L2910.3,307.5 L2912.3,307.8 L2914.3,308.1 L2916.3,308.3 L2918.3,308.6 L2920.3,308.9 L2922.3,309.2 L2924.3,309.4 L2926.3,309.7 L2928.3,310.0 L2930.3,310.3 L2932.3,310.6 L2934.3,310.8 L2936.3,311.1 L2938.3,311.4 L2940.3,311.7 L2942.3,311.9 L2944.3,312.2 L2946.3,312.4 L2948.3,312.7 L2950.3,312.9 L2952.3,313.2 L2954.3,313.4 L2956.3,313.6 L2958.3,313.8 L2960.3,314.0 L2962.3,314.3 L2964.3,314.5 L2966.3,314.7 L2968.3,314.9 L2970.3,315.0 L2972.3,315.2 L2974.3,315.4 L2976.3,315.6 L2978.3,315.8 L2980.3,316.0 L2982.3,316.1 L2984.3,316.3 L2986.3,316.5 L2988.3,316.6 L2990.3,316.8 L2992.3,317.0 L2994.3,317.2 L2996.3,317.3 L2998.3,317.5 L3000.3,317.7 L3002.3,317.8 L3004.3,318.0 L3006.3,318.2 L3008.3,318.3 L3010.3,318.5 L3012.3,318.7 L3014.3,318.9 L3016.3,319.0 L3018.3,319.2 L3020.3,319.4 L3022.3,319.5 L3024.3,319.7 L3026.3,319.9 L3028.3,320.1 L3030.3,320.2 L3032.3,320.4 L3034.3,320.6 L3036.3,320.7 L3038.3,320.9 L3040.3,321.1 L3042.4,321.2 L3044.4,321.4 L3046.4,321.6 L3048.4,321.7 L3050.4,321.9 L3052.4,322.0 L3054.4,322.2 L3056.4,322.4 L3058.4,322.5 L3060.4,322.7 L3062.4,322.8 L3064.4,323.0 L3066.4,323.1 L3068.4,323.3 L3070.4,323.4 L3072.4,323.6 L3074.4,323.7 L3076.4,323.9 L3078.4,324.0 L3080.4,324.2 L3082.4,324.3 L3084.4,324.4 L3086.4,324.6 L3088.4,324.8 L3090.4,324.9 L3092.4,325.1 L3094.4,325.2 L3096.4,325.4 L3098.4,325.6 L3100.4,325.8 L3102.4,326.0 L3104.4,326.2 L3106.4,326.5 L3108.4,326.7 L3110.4,327.0 L3112.4,327.3 L3114.4,327.6 L3116.4,327.9 L3118.4,328.2 L3120.4,328.6 L3122.4,328.9 L3124.4,329.3 L3126.4,329.7 L3128.4,330.1 L3130.4,330.5 L3132.4,331.0 L3134.4,331.4 L3136.4,331.9 L3138.4,332.4 L3140.4,332.8 L3142.4,333.3 L3144.4,333.9 L3146.4,334.4 L3148.4,335.0 L3150.4,335.5 L3152.4,336.1 L3154.4,336.7 L3156.4,337.3 L3158.4,337.9 L3160.4,338.6 L3162.4,339.2 L3164.4,339.8 L3166.4,340.5 L3168.4,341.1 L3170.4,341.8 L3172.4,342.4 L3174.4,343.0 L3176.4,343.7 L3178.4,344.3 L3180.4,344.9 L3182.4,345.6 L3184.4,346.2 L3186.4,346.8 L3188.4,347.4 L3190.4,348.0 L3192.4,348.6 L3194.5,349.2 L3196.5,349.8 L3198.5,350.4 L3200.5,351.0 L3202.5,351.6 L3204.5,352.2 L3206.5,352.8 L3208.5,353.4 L3210.5,354.0 L3212.5,354.6 L3214.5,355.2 L3216.5,355.8 L3218.5,356.4 L3220.5,357.0 L3222.5,357.6 L3224.5,358.2 L3226.5,358.8 L3228.5,359.4 L3230.5,360.0 L3232.5,360.6 L3234.5,361.2 L3236.5,361.8 L3238.5,362.4 L3240.5,362.9 L3242.5,363.5 L3244.5,364.1 L3246.5,364.7 L3248.5,365.3 L3250.5,365.8 L3252.5,366.4 L3254.5,367.0 L3256.5,367.6 L3258.5,368.1 L3260.5,368.7 L3262.5,369.3 L3264.5,369.9 L3266.5,370.4 L3268.5,371.0" stroke="#5d4fc2" stroke-width="3.8"/>
<polygon points="1909.6,187.0 1923.6,203.5 1909.6,220.0 1895.6,203.5" fill="#5648b0"/>
<polygon points="2109.4,188.5 2123.4,205.0 2109.4,221.5 2095.4,205.0" fill="#5648b0"/>
<polygon points="2309.3,189.3 2323.3,205.8 2309.3,222.3 2295.3,205.8" fill="#5648b0"/>
<polygon points="2509.1,191.6 2523.1,208.1 2509.1,224.6 2495.1,208.1" fill="#5648b0"/>
<polygon points="2709.0,205.0 2723.0,221.5 2709.0,238.0 2695.0,221.5" fill="#5648b0"/>
<polygon points="2908.8,290.8 2922.8,307.3 2908.8,323.8 2894.8,307.3" fill="#5648b0"/>
<polygon points="3108.6,310.2 3122.6,326.7 3108.6,343.2 3094.6,326.7" fill="#5648b0"/>
</g>
<rect x="1909.6" y="31.3" width="1358.9" height="1091.9" fill="none" stroke="#1c1c1c" stroke-width="3" stroke-linejoin="round"/>
<text x="1989.5" y="1202.8" text-anchor="middle" font-size="56">100</text>
<text x="2149.4" y="1202.8" text-anchor="middle" font-size="56">200</text>
<text x="2309.3" y="1202.8" text-anchor="middle" font-size="56">300</text>
<text x="2469.1" y="1202.8" text-anchor="middle" font-size="56">400</text>
<text x="2629.0" y="1202.8" text-anchor="middle" font-size="56">500</text>
<text x="2788.9" y="1202.8" text-anchor="middle" font-size="56">600</text>
<text x="2948.8" y="1202.8" text-anchor="middle" font-size="56">700</text>
<text x="3108.6" y="1202.8" text-anchor="middle" font-size="56">800</text>
<text x="3268.5" y="1202.8" text-anchor="middle" font-size="56">900</text>
<text x="1865.8" y="1137.8" text-anchor="end" font-size="56">0</text>
<text x="1865.8" y="955.8" text-anchor="end" font-size="56">20</text>
<text x="1865.8" y="773.8" text-anchor="end" font-size="56">40</text>
<text x="1865.8" y="591.9" text-anchor="end" font-size="56">60</text>
<text x="1865.8" y="409.9" text-anchor="end" font-size="56">80</text>
<text x="1865.8" y="227.9" text-anchor="end" font-size="56">100</text>
<text x="1865.8" y="45.9" text-anchor="end" font-size="56">120</text>
<text x="2414.6" y="1289.0" text-anchor="start" font-size="54.8" textLength="294.9" lengthAdjust="spacing">Temperature/</text>
<circle cx="2719.6" cy="1254.3" r="4.0" fill="none" stroke="#1c1c1c" stroke-width="1.9"/>
<text x="2724.4" y="1289.3" text-anchor="start" font-size="57" textLength="33.8" lengthAdjust="spacingAndGlyphs" fill="#2b2b2b">C</text>
<text transform="translate(1758.8,579.8) rotate(-90)" text-anchor="middle" font-size="56">Mass residual/wt<tspan font-style="italic">%</tspan></text>
<path d="M2008.1,439.6 h144.4" stroke="#d3141f" stroke-width="9.0" fill="none"/>
<path d="M2008.1,439.6 h144.4" stroke="#ff2c3f" stroke-width="4.6" fill="none"/>
<rect x="2068.3" y="427.6" width="24" height="24" fill="#f01030"/>
<text x="2170.2" y="454.2" text-anchor="start" font-size="57" textLength="55.6" lengthAdjust="spacingAndGlyphs">PI</text>
<path d="M2008.1,529.8 h144.4" stroke="#cdea12" stroke-width="9.0" fill="none"/>
<path d="M2008.1,529.8 h144.4" stroke="#dcfa00" stroke-width="4.6" fill="none"/>
<circle cx="2080.3" cy="529.8" r="12" fill="#ebe31e"/>
<text x="2174.6" y="544.1" text-anchor="start" font-size="55.3">10DNCB/PI</text>
<path d="M2008.1,620.0 h144.4" stroke="#60b04c" stroke-width="9.0" fill="none"/>
<path d="M2008.1,620.0 h144.4" stroke="#52c63e" stroke-width="4.6" fill="none"/>
<polygon points="2080.3,602.0 2095.3,629.0 2065.3,629.0" fill="#5cb833"/>
<text x="2174.6" y="634.3" text-anchor="start" font-size="55.3">20DNCB/PI</text>
<path d="M2008.1,710.2 h144.4" stroke="#33307c" stroke-width="9.0" fill="none"/>
<path d="M2008.1,710.2 h144.4" stroke="#4b3cc2" stroke-width="4.6" fill="none"/>
<polygon points="2065.3,701.2 2095.3,701.2 2080.3,728.2" fill="#3856a8"/>
<text x="2174.6" y="724.5" text-anchor="start" font-size="55.3">30DNCB/PI</text>
<path d="M2008.1,800.4 h144.4" stroke="#39346f" stroke-width="9.0" fill="none"/>
<path d="M2008.1,800.4 h144.4" stroke="#5d4fc2" stroke-width="4.6" fill="none"/>
<polygon points="2080.3,783.9 2094.3,800.4 2080.3,816.9 2066.3,800.4" fill="#5648b0"/>
<text x="2174.6" y="814.7" text-anchor="start" font-size="55.3">40DNCB/PI</text>
<text x="235.2" y="98.3" text-anchor="start" >(a) N<tspan font-size="31" dy="11">2</tspan></text>
<text x="1958.6" y="109.4" text-anchor="start" >(b) Air</text>
</svg>
</body></html>
